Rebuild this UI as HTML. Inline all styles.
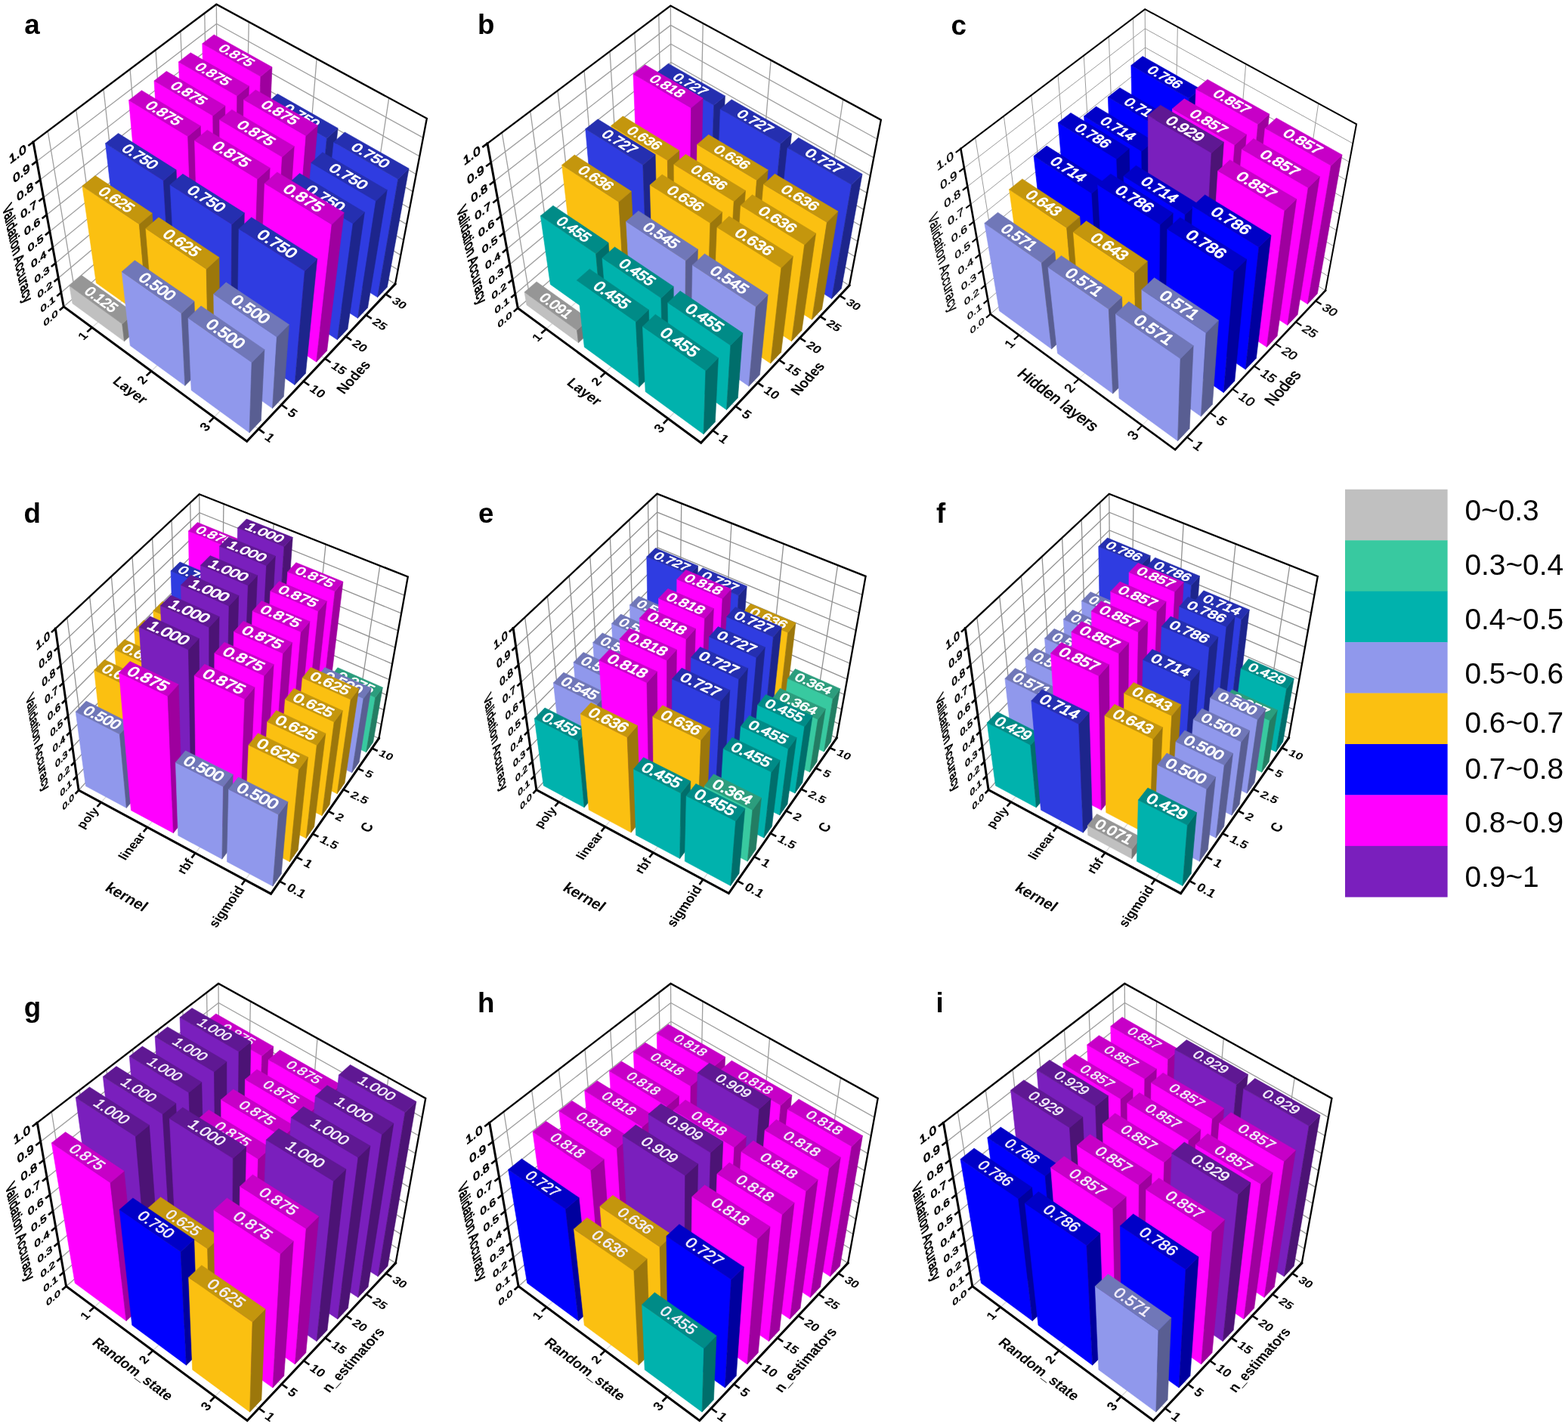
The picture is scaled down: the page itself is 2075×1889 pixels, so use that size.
<!DOCTYPE html><html><head><meta charset="utf-8"><title>Figure</title><style>html,body{margin:0;padding:0;background:#fff}svg{display:block}</style></head><body><svg xmlns="http://www.w3.org/2000/svg" width="2075" height="1889" viewBox="0 0 2075 1889"><rect width="2075" height="1889" fill="#fff"/><g><g font-family='"Liberation Sans", Arial, sans-serif'>
<line x1="121.82" y1="433.56" x2="324.6" y2="252.72" stroke="#DADADA" stroke-width="1.3" stroke-linecap="butt"/>
<line x1="200.18" y1="491.19" x2="400.81" y2="300.06" stroke="#DADADA" stroke-width="1.3" stroke-linecap="butt"/>
<line x1="283.26" y1="552.29" x2="481.16" y2="349.96" stroke="#DADADA" stroke-width="1.3" stroke-linecap="butt"/>
<line x1="100.2" y1="392.21" x2="342.15" y2="567.85" stroke="#DADADA" stroke-width="1.3" stroke-linecap="butt"/>
<line x1="131.33" y1="365.3" x2="372.33" y2="535.81" stroke="#DADADA" stroke-width="1.3" stroke-linecap="butt"/>
<line x1="161.6" y1="339.14" x2="401.6" y2="504.76" stroke="#DADADA" stroke-width="1.3" stroke-linecap="butt"/>
<line x1="191.03" y1="313.7" x2="429.99" y2="474.63" stroke="#DADADA" stroke-width="1.3" stroke-linecap="butt"/>
<line x1="219.66" y1="288.96" x2="457.54" y2="445.4" stroke="#DADADA" stroke-width="1.3" stroke-linecap="butt"/>
<line x1="247.52" y1="264.88" x2="484.29" y2="417.01" stroke="#DADADA" stroke-width="1.3" stroke-linecap="butt"/>
<line x1="274.65" y1="241.44" x2="510.28" y2="389.44" stroke="#DADADA" stroke-width="1.3" stroke-linecap="butt"/>
<polyline points="84.29,405.95 287.94,229.95 522.99,375.95" fill="none" stroke="#9E9E9E" stroke-width="1.3" stroke-linejoin="miter" stroke-linecap="square"/>
<polyline points="80.85,387.33 287.81,210.48 526.58,357.17" fill="none" stroke="#9E9E9E" stroke-width="1.3" stroke-linejoin="miter" stroke-linecap="square"/>
<polyline points="77.29,368.09 287.67,190.43 530.28,337.78" fill="none" stroke="#9E9E9E" stroke-width="1.3" stroke-linejoin="miter" stroke-linecap="square"/>
<polyline points="73.62,348.21 287.52,169.78 534.1,317.76" fill="none" stroke="#9E9E9E" stroke-width="1.3" stroke-linejoin="miter" stroke-linecap="square"/>
<polyline points="69.82,327.65 287.37,148.5 538.05,297.07" fill="none" stroke="#9E9E9E" stroke-width="1.3" stroke-linejoin="miter" stroke-linecap="square"/>
<polyline points="65.88,306.38 287.22,126.55 542.14,275.68" fill="none" stroke="#9E9E9E" stroke-width="1.3" stroke-linejoin="miter" stroke-linecap="square"/>
<polyline points="61.81,284.36 287.06,103.91 546.37,253.55" fill="none" stroke="#9E9E9E" stroke-width="1.3" stroke-linejoin="miter" stroke-linecap="square"/>
<polyline points="57.6,261.55 286.9,80.53 550.74,230.64" fill="none" stroke="#9E9E9E" stroke-width="1.3" stroke-linejoin="miter" stroke-linecap="square"/>
<polyline points="53.23,237.92 286.73,56.4 555.27,206.92" fill="none" stroke="#9E9E9E" stroke-width="1.3" stroke-linejoin="miter" stroke-linecap="square"/>
<polyline points="48.7,213.4 286.55,31.47 559.97,182.33" fill="none" stroke="#9E9E9E" stroke-width="1.3" stroke-linejoin="miter" stroke-linecap="square"/>
<line x1="100.2" y1="392.21" x2="63.23" y2="173.49" stroke="#9E9E9E" stroke-width="1.3" stroke-linecap="butt"/>
<line x1="131.33" y1="365.3" x2="100.73" y2="145.29" stroke="#9E9E9E" stroke-width="1.3" stroke-linecap="butt"/>
<line x1="161.6" y1="339.14" x2="136.99" y2="118.02" stroke="#9E9E9E" stroke-width="1.3" stroke-linecap="butt"/>
<line x1="191.03" y1="313.7" x2="172.08" y2="91.64" stroke="#9E9E9E" stroke-width="1.3" stroke-linecap="butt"/>
<line x1="219.66" y1="288.96" x2="206.04" y2="66.1" stroke="#9E9E9E" stroke-width="1.3" stroke-linecap="butt"/>
<line x1="247.52" y1="264.88" x2="238.93" y2="41.37" stroke="#9E9E9E" stroke-width="1.3" stroke-linecap="butt"/>
<line x1="274.65" y1="241.44" x2="270.8" y2="17.4" stroke="#9E9E9E" stroke-width="1.3" stroke-linecap="butt"/>
<line x1="324.6" y1="252.72" x2="329.29" y2="28.98" stroke="#9E9E9E" stroke-width="1.3" stroke-linecap="butt"/>
<line x1="400.81" y1="300.06" x2="419.12" y2="77.74" stroke="#9E9E9E" stroke-width="1.3" stroke-linecap="butt"/>
<line x1="481.16" y1="349.96" x2="514.71" y2="129.62" stroke="#9E9E9E" stroke-width="1.3" stroke-linecap="butt"/>
<line x1="287.94" y1="229.95" x2="286.37" y2="5.69" stroke="#9E9E9E" stroke-width="1.3" stroke-linecap="butt"/>
<polyline points="44,187.96 286.37,5.69 564.84,156.83 522.99,375.95" fill="none" stroke="#000" stroke-width="2.34" stroke-linejoin="miter" stroke-linecap="square"/>
<polyline points="44,187.96 84.29,405.95 326.69,584.24 522.99,375.95" fill="none" stroke="#000" stroke-width="3.0" stroke-linejoin="miter" stroke-linecap="square"/>
<line x1="121.82" y1="433.56" x2="115.32" y2="439.36" stroke="#000" stroke-width="2.6" stroke-linecap="butt"/>
<line x1="200.18" y1="491.19" x2="193.73" y2="497.34" stroke="#000" stroke-width="2.6" stroke-linecap="butt"/>
<line x1="283.26" y1="552.29" x2="276.87" y2="558.82" stroke="#000" stroke-width="2.6" stroke-linecap="butt"/>
<line x1="342.15" y1="567.85" x2="349.82" y2="573.42" stroke="#000" stroke-width="2.6" stroke-linecap="butt"/>
<line x1="372.33" y1="535.81" x2="379.97" y2="541.22" stroke="#000" stroke-width="2.6" stroke-linecap="butt"/>
<line x1="401.6" y1="504.76" x2="409.19" y2="510" stroke="#000" stroke-width="2.6" stroke-linecap="butt"/>
<line x1="429.99" y1="474.63" x2="437.54" y2="479.72" stroke="#000" stroke-width="2.6" stroke-linecap="butt"/>
<line x1="457.54" y1="445.4" x2="465.05" y2="450.33" stroke="#000" stroke-width="2.6" stroke-linecap="butt"/>
<line x1="484.29" y1="417.01" x2="491.76" y2="421.81" stroke="#000" stroke-width="2.6" stroke-linecap="butt"/>
<line x1="510.28" y1="389.44" x2="517.69" y2="394.1" stroke="#000" stroke-width="2.6" stroke-linecap="butt"/>
<line x1="84.29" y1="405.95" x2="78.78" y2="410.72" stroke="#000" stroke-width="2.6" stroke-linecap="butt"/>
<line x1="80.85" y1="387.33" x2="75.24" y2="392.12" stroke="#000" stroke-width="2.6" stroke-linecap="butt"/>
<line x1="77.29" y1="368.09" x2="71.58" y2="372.91" stroke="#000" stroke-width="2.6" stroke-linecap="butt"/>
<line x1="73.62" y1="348.21" x2="67.8" y2="353.05" stroke="#000" stroke-width="2.6" stroke-linecap="butt"/>
<line x1="69.82" y1="327.65" x2="63.89" y2="332.52" stroke="#000" stroke-width="2.6" stroke-linecap="butt"/>
<line x1="65.88" y1="306.38" x2="59.85" y2="311.28" stroke="#000" stroke-width="2.6" stroke-linecap="butt"/>
<line x1="61.81" y1="284.36" x2="55.66" y2="289.29" stroke="#000" stroke-width="2.6" stroke-linecap="butt"/>
<line x1="57.6" y1="261.55" x2="51.32" y2="266.51" stroke="#000" stroke-width="2.6" stroke-linecap="butt"/>
<line x1="53.23" y1="237.92" x2="46.83" y2="242.9" stroke="#000" stroke-width="2.6" stroke-linecap="butt"/>
<line x1="48.7" y1="213.4" x2="42.16" y2="218.4" stroke="#000" stroke-width="2.6" stroke-linecap="butt"/>
<line x1="44" y1="187.96" x2="37.32" y2="192.98" stroke="#000" stroke-width="2.6" stroke-linecap="butt"/>
<text transform="matrix(12.4011 -11.0601 12.5721 9.3153 112.84 441.57)" font-size="1" text-anchor="end" fill="#000" font-weight="bold" y="0.36" >1</text>
<text transform="matrix(12.3063 -11.7241 13.3203 9.8697 191.27 499.68)" font-size="1" text-anchor="end" fill="#000" font-weight="bold" y="0.36" >2</text>
<text transform="matrix(12.1772 -12.4494 14.1373 10.4750 274.44 561.31)" font-size="1" text-anchor="end" fill="#000" font-weight="bold" y="0.36" >3</text>
<text transform="matrix(14.6285 10.6191 -11.7815 12.6222 353.27 575.92)" font-size="1" text-anchor="start" fill="#000" font-weight="bold" y="0.36" >1</text>
<text transform="matrix(14.5505 10.2950 -11.4190 12.2338 383.4 543.65)" font-size="1" text-anchor="start" fill="#000" font-weight="bold" y="0.36" >5</text>
<text transform="matrix(14.4705 9.9856 -11.0730 11.8631 412.61 512.35)" font-size="1" text-anchor="start" fill="#000" font-weight="bold" y="0.36" >10</text>
<text transform="matrix(14.3886 9.6900 -10.7425 11.5090 440.94 482)" font-size="1" text-anchor="start" fill="#000" font-weight="bold" y="0.36" >15</text>
<text transform="matrix(14.3052 9.4074 -10.4265 11.1705 468.43 452.55)" font-size="1" text-anchor="start" fill="#000" font-weight="bold" y="0.36" >20</text>
<text transform="matrix(14.2205 9.1371 -10.1243 10.8467 495.11 423.96)" font-size="1" text-anchor="start" fill="#000" font-weight="bold" y="0.36" >25</text>
<text transform="matrix(14.1348 8.8783 -9.8351 10.5369 521.03 396.19)" font-size="1" text-anchor="start" fill="#000" font-weight="bold" y="0.36" >30</text>
<text transform="matrix(13.1050 -11.3260 2.0474 10.6063 76.18 412.96)" font-size="1" text-anchor="end" fill="#000" font-weight="normal" y="0.36"  stroke="#000" stroke-width="0.06" stroke-linejoin="round">0.0</text>
<text transform="matrix(13.3392 -11.3983 2.1144 10.9533 72.6 394.38)" font-size="1" text-anchor="end" fill="#000" font-weight="normal" y="0.36"  stroke="#000" stroke-width="0.06" stroke-linejoin="round">0.1</text>
<text transform="matrix(13.5818 -11.4693 2.1847 11.3177 68.89 375.18)" font-size="1" text-anchor="end" fill="#000" font-weight="normal" y="0.36"  stroke="#000" stroke-width="0.06" stroke-linejoin="round">0.2</text>
<text transform="matrix(13.8333 -11.5387 2.2586 11.7005 65.06 355.34)" font-size="1" text-anchor="end" fill="#000" font-weight="normal" y="0.36"  stroke="#000" stroke-width="0.06" stroke-linejoin="round">0.3</text>
<text transform="matrix(14.0943 -11.6061 2.3363 12.1031 61.1 334.82)" font-size="1" text-anchor="end" fill="#000" font-weight="normal" y="0.36"  stroke="#000" stroke-width="0.06" stroke-linejoin="round">0.4</text>
<text transform="matrix(14.3652 -11.6714 2.4181 12.5269 57 313.59)" font-size="1" text-anchor="end" fill="#000" font-weight="normal" y="0.36"  stroke="#000" stroke-width="0.06" stroke-linejoin="round">0.5</text>
<text transform="matrix(14.6466 -11.7340 2.5043 12.9733 52.76 291.61)" font-size="1" text-anchor="end" fill="#000" font-weight="normal" y="0.36"  stroke="#000" stroke-width="0.06" stroke-linejoin="round">0.6</text>
<text transform="matrix(14.9391 -11.7937 2.5951 13.4439 48.37 268.84)" font-size="1" text-anchor="end" fill="#000" font-weight="normal" y="0.36"  stroke="#000" stroke-width="0.06" stroke-linejoin="round">0.7</text>
<text transform="matrix(15.2434 -11.8499 2.6910 13.9407 43.81 245.24)" font-size="1" text-anchor="end" fill="#000" font-weight="normal" y="0.36"  stroke="#000" stroke-width="0.06" stroke-linejoin="round">0.8</text>
<text transform="matrix(15.5603 -11.9021 2.7923 14.4655 39.08 220.76)" font-size="1" text-anchor="end" fill="#000" font-weight="normal" y="0.36"  stroke="#000" stroke-width="0.06" stroke-linejoin="round">0.9</text>
<text transform="matrix(15.8904 -11.9498 2.8995 15.0206 34.18 195.34)" font-size="1" text-anchor="end" fill="#000" font-weight="normal" y="0.36"  stroke="#000" stroke-width="0.06" stroke-linejoin="round">1.0</text>
<text transform="matrix(14.7947 11.1259 -13.8826 13.2182 172.7 516.2)" font-size="1" text-anchor="middle" fill="#000" font-weight="bold" y="0.36" >Layer</text>
<text transform="matrix(11.8419 -12.9792 16.2326 10.9263 467.4 498.8)" font-size="1" text-anchor="middle" fill="#000" font-weight="bold" y="0.36" >Nodes</text>
<text transform="matrix(3.2632 14.5912 -16.9329 13.7155 23.7 335)" font-size="1" text-anchor="middle" fill="#000" font-weight="normal" y="0.36"  stroke="#000" stroke-width="0.045" stroke-linejoin="round">Validation Accuracy</text>
</g>
<g font-family='"Liberation Sans", Arial, sans-serif' font-style="normal">
<polygon points="271.57,249.53 338.61,291.88 344.84,101.26 267.81,57.76" fill="#FF00FF" stroke="#FF00FF" stroke-width="0.6"/>
<polygon points="338.61,291.88 351.85,279.73 360.01,88.77 344.84,101.26" fill="#9E009E" stroke="#9E009E" stroke-width="0.6"/>
<polygon points="267.81,57.76 344.84,101.26 360.01,88.77 283.16,45.92" fill="#C700C7" stroke="#C700C7" stroke-width="0.6"/>
<text transform="matrix(16.5405 9.2807 -13.7825 10.9748 313.47 73.11)" font-size="1" text-anchor="middle" fill="#fff" font-weight="normal" y="0.36"  stroke="#fff" stroke-width="0.055" stroke-linejoin="round">0.875</text>
<polygon points="346.26,296.71 416.93,341.35 432.51,182.96 352.47,136.9" fill="#2F3CE1" stroke="#2F3CE1" stroke-width="0.6"/>
<polygon points="416.93,341.35 429.98,328.53 447.13,169.72 432.51,182.96" fill="#1D258C" stroke="#1D258C" stroke-width="0.6"/>
<polygon points="352.47,136.9 432.51,182.96 447.13,169.72 367.31,124.36" fill="#252FB0" stroke="#252FB0" stroke-width="0.6"/>
<text transform="matrix(17.1822 9.8256 -13.2999 11.6311 399.34 153.15)" font-size="1" text-anchor="middle" fill="#fff" font-weight="normal" y="0.36"  stroke="#fff" stroke-width="0.055" stroke-linejoin="round">0.750</text>
<polygon points="425,346.45 499.6,393.57 526.77,237.2 441.68,188.23" fill="#2F3CE1" stroke="#2F3CE1" stroke-width="0.6"/>
<polygon points="499.6,393.57 512.41,380.02 541.08,223.11 526.77,237.2" fill="#1D258C" stroke="#1D258C" stroke-width="0.6"/>
<polygon points="441.68,188.23 526.77,237.2 541.08,223.11 456.26,174.91" fill="#252FB0" stroke="#252FB0" stroke-width="0.6"/>
<text transform="matrix(18.2611 10.4425 -13.0495 12.3690 490.89 205.5)" font-size="1" text-anchor="middle" fill="#fff" font-weight="normal" y="0.36"  stroke="#fff" stroke-width="0.055" stroke-linejoin="round">0.750</text>
<polygon points="244.27,273.2 311.59,316.7 313.79,126.83 236.39,81.97" fill="#FF00FF" stroke="#FF00FF" stroke-width="0.6"/>
<polygon points="311.59,316.7 325.2,304.21 329.44,113.95 313.79,126.83" fill="#9E009E" stroke="#9E009E" stroke-width="0.6"/>
<polygon points="236.39,81.97 313.79,126.83 329.44,113.95 252.22,69.77" fill="#C700C7" stroke="#C700C7" stroke-width="0.6"/>
<text transform="matrix(16.6179 9.5700 -14.2168 11.3207 282.47 97.8)" font-size="1" text-anchor="middle" fill="#fff" font-weight="normal" y="0.36"  stroke="#fff" stroke-width="0.055" stroke-linejoin="round">0.875</text>
<polygon points="319.27,321.66 390.28,367.55 404.96,179.69 322.65,131.97" fill="#FF00FF" stroke="#FF00FF" stroke-width="0.6"/>
<polygon points="390.28,367.55 403.7,354.36 420.36,165.97 404.96,179.69" fill="#9E009E" stroke="#9E009E" stroke-width="0.6"/>
<polygon points="322.65,131.97 404.96,179.69 420.36,165.97 338.28,119" fill="#C700C7" stroke="#C700C7" stroke-width="0.6"/>
<text transform="matrix(17.6689 10.1753 -14.0149 12.0444 371.02 148.8)" font-size="1" text-anchor="middle" fill="#fff" font-weight="normal" y="0.36"  stroke="#fff" stroke-width="0.055" stroke-linejoin="round">0.875</text>
<polygon points="398.39,372.79 473.4,421.26 497.45,266.08 411.81,215.52" fill="#2F3CE1" stroke="#2F3CE1" stroke-width="0.6"/>
<polygon points="473.4,421.26 486.59,407.32 512.23,251.52 497.45,266.08" fill="#1D258C" stroke="#1D258C" stroke-width="0.6"/>
<polygon points="411.81,215.52 497.45,266.08 512.23,251.52 426.86,201.77" fill="#252FB0" stroke="#252FB0" stroke-width="0.6"/>
<text transform="matrix(18.3796 10.7817 -13.4776 12.7747 461.51 233.34)" font-size="1" text-anchor="middle" fill="#fff" font-weight="normal" y="0.36"  stroke="#fff" stroke-width="0.055" stroke-linejoin="round">0.750</text>
<polygon points="216.24,297.5 283.81,342.21 281.73,153.24 203.99,106.94" fill="#FF00FF" stroke="#FF00FF" stroke-width="0.6"/>
<polygon points="283.81,342.21 297.8,329.36 297.89,139.93 281.73,153.24" fill="#9E009E" stroke="#9E009E" stroke-width="0.6"/>
<polygon points="203.99,106.94 281.73,153.24 297.89,139.93 220.32,94.36" fill="#C700C7" stroke="#C700C7" stroke-width="0.6"/>
<text transform="matrix(16.6920 9.8732 -14.6720 11.6832 250.48 123.27)" font-size="1" text-anchor="middle" fill="#fff" font-weight="normal" y="0.36"  stroke="#fff" stroke-width="0.055" stroke-linejoin="round">0.875</text>
<polygon points="291.52,347.31 362.86,394.5 373.39,207.83 290.63,158.54" fill="#FF00FF" stroke="#FF00FF" stroke-width="0.6"/>
<polygon points="362.86,394.5 376.67,380.93 389.31,193.64 373.39,207.83" fill="#9E009E" stroke="#9E009E" stroke-width="0.6"/>
<polygon points="290.63,158.54 373.39,207.83 389.31,193.64 306.77,145.15" fill="#C700C7" stroke="#C700C7" stroke-width="0.6"/>
<text transform="matrix(17.7652 10.5080 -14.4780 12.4423 339.47 175.91)" font-size="1" text-anchor="middle" fill="#fff" font-weight="normal" y="0.36"  stroke="#fff" stroke-width="0.055" stroke-linejoin="round">0.875</text>
<polygon points="371.01,399.89 446.43,449.78 467.14,295.94 380.96,243.7" fill="#2F3CE1" stroke="#2F3CE1" stroke-width="0.6"/>
<polygon points="446.43,449.78 460.01,435.42 482.42,280.89 467.14,295.94" fill="#1D258C" stroke="#1D258C" stroke-width="0.6"/>
<polygon points="380.96,243.7 467.14,295.94 482.42,280.89 396.51,229.5" fill="#252FB0" stroke="#252FB0" stroke-width="0.6"/>
<text transform="matrix(18.4960 11.1377 -13.9270 13.2007 431.17 262.1)" font-size="1" text-anchor="middle" fill="#fff" font-weight="normal" y="0.36"  stroke="#fff" stroke-width="0.055" stroke-linejoin="round">0.750</text>
<polygon points="187.42,322.49 255.24,368.44 248.61,180.51 170.55,132.72" fill="#FF00FF" stroke="#FF00FF" stroke-width="0.6"/>
<polygon points="255.24,368.44 269.63,355.23 265.3,166.76 248.61,180.51" fill="#9E009E" stroke="#9E009E" stroke-width="0.6"/>
<polygon points="170.55,132.72 248.61,180.51 265.3,166.76 187.41,119.73" fill="#C700C7" stroke="#C700C7" stroke-width="0.6"/>
<text transform="matrix(16.7623 10.1912 -15.1495 12.0633 217.46 149.57)" font-size="1" text-anchor="middle" fill="#fff" font-weight="normal" y="0.36"  stroke="#fff" stroke-width="0.055" stroke-linejoin="round">0.875</text>
<polygon points="262.99,373.69 334.64,422.23 340.74,236.92 257.56,185.99" fill="#FF00FF" stroke="#FF00FF" stroke-width="0.6"/>
<polygon points="334.64,422.23 348.85,408.26 357.2,222.25 340.74,236.92" fill="#9E009E" stroke="#9E009E" stroke-width="0.6"/>
<polygon points="257.56,185.99 340.74,236.92 357.2,222.25 274.23,172.15" fill="#C700C7" stroke="#C700C7" stroke-width="0.6"/>
<text transform="matrix(17.8582 10.8575 -14.9644 12.8603 306.87 203.93)" font-size="1" text-anchor="middle" fill="#fff" font-weight="normal" y="0.36"  stroke="#fff" stroke-width="0.055" stroke-linejoin="round">0.875</text>
<polygon points="342.83,427.78 418.64,479.15 439.12,297.15 350.29,242.76" fill="#FF00FF" stroke="#FF00FF" stroke-width="0.6"/>
<polygon points="418.64,479.15 432.64,464.35 455.28,281.46 439.12,297.15" fill="#9E009E" stroke="#9E009E" stroke-width="0.6"/>
<polygon points="350.29,242.76 439.12,297.15 455.28,281.46 366.72,228" fill="#C700C7" stroke="#C700C7" stroke-width="0.6"/>
<text transform="matrix(19.0653 11.5914 -14.7208 13.7384 402.23 261.91)" font-size="1" text-anchor="middle" fill="#fff" font-weight="normal" y="0.36"  stroke="#fff" stroke-width="0.055" stroke-linejoin="round">0.875</text>
<polygon points="157.79,348.17 225.85,395.43 216.25,238.96 139.55,189.83" fill="#2F3CE1" stroke="#2F3CE1" stroke-width="0.6"/>
<polygon points="225.85,395.43 240.65,381.84 233.1,224.82 216.25,238.96" fill="#1D258C" stroke="#1D258C" stroke-width="0.6"/>
<polygon points="139.55,189.83 216.25,238.96 233.1,224.82 156.54,176.47" fill="#252FB0" stroke="#252FB0" stroke-width="0.6"/>
<text transform="matrix(16.4725 10.4755 -15.2877 12.4082 185.86 207.15)" font-size="1" text-anchor="middle" fill="#fff" font-weight="normal" y="0.36"  stroke="#fff" stroke-width="0.055" stroke-linejoin="round">0.750</text>
<polygon points="233.63,400.82 305.59,450.79 306.75,296.91 225.04,244.59" fill="#2F3CE1" stroke="#2F3CE1" stroke-width="0.6"/>
<polygon points="305.59,450.79 320.22,436.41 323.39,281.84 306.75,296.91" fill="#1D258C" stroke="#1D258C" stroke-width="0.6"/>
<polygon points="225.04,244.59 306.75,296.91 323.39,281.84 241.88,230.36" fill="#252FB0" stroke="#252FB0" stroke-width="0.6"/>
<text transform="matrix(17.5428 11.1561 -15.1198 13.2226 273.71 263.02)" font-size="1" text-anchor="middle" fill="#fff" font-weight="normal" y="0.36"  stroke="#fff" stroke-width="0.055" stroke-linejoin="round">0.750</text>
<polygon points="313.81,456.5 390.01,509.41 403.34,358.78 316.12,302.92" fill="#2F3CE1" stroke="#2F3CE1" stroke-width="0.6"/>
<polygon points="390.01,509.41 404.44,494.16 419.7,342.66 403.34,358.78" fill="#1D258C" stroke="#1D258C" stroke-width="0.6"/>
<polygon points="316.12,302.92 403.34,358.78 419.7,342.66 332.74,287.74" fill="#252FB0" stroke="#252FB0" stroke-width="0.6"/>
<text transform="matrix(18.7208 11.9052 -14.8961 14.1192 367.36 322.58)" font-size="1" text-anchor="middle" fill="#fff" font-weight="normal" y="0.36"  stroke="#fff" stroke-width="0.055" stroke-linejoin="round">0.750</text>
<polygon points="127.32,374.58 195.61,423.2 184.28,296.7 108.91,246.28" fill="#FBC011" stroke="#FBC011" stroke-width="0.6"/>
<polygon points="195.61,423.2 210.84,409.21 201.29,282.18 184.28,296.7" fill="#9C770B" stroke="#9C770B" stroke-width="0.6"/>
<polygon points="108.91,246.28 184.28,296.7 201.29,282.18 126.04,232.55" fill="#C4960D" stroke="#C4960D" stroke-width="0.6"/>
<text transform="matrix(16.1884 10.7522 -15.4215 12.7441 154.64 264.05)" font-size="1" text-anchor="middle" fill="#fff" font-weight="normal" y="0.36"  stroke="#fff" stroke-width="0.055" stroke-linejoin="round">0.625</text>
<polygon points="203.41,428.76 275.66,480.2 273.17,356.16 192.92,302.48" fill="#FBC011" stroke="#FBC011" stroke-width="0.6"/>
<polygon points="275.66,480.2 290.73,465.39 289.99,340.68 273.17,356.16" fill="#9C770B" stroke="#9C770B" stroke-width="0.6"/>
<polygon points="192.92,302.48 273.17,356.16 289.99,340.68 209.91,287.87" fill="#C4960D" stroke="#C4960D" stroke-width="0.6"/>
<text transform="matrix(17.2337 11.4465 -15.2703 13.5750 240.96 321.39)" font-size="1" text-anchor="middle" fill="#fff" font-weight="normal" y="0.36"  stroke="#fff" stroke-width="0.055" stroke-linejoin="round">0.625</text>
<polygon points="283.92,486.09 360.5,540.61 366.38,446.06 282.72,389.31" fill="#9098EC" stroke="#9098EC" stroke-width="0.6"/>
<polygon points="360.5,540.61 375.37,524.89 382.57,429.68 366.38,446.06" fill="#595E92" stroke="#595E92" stroke-width="0.6"/>
<polygon points="282.72,389.31 366.38,446.06 382.57,429.68 299.13,373.86" fill="#7077B8" stroke="#7077B8" stroke-width="0.6"/>
<text transform="matrix(17.9593 12.0982 -14.7283 14.3600 332.13 409.29)" font-size="1" text-anchor="middle" fill="#fff" font-weight="normal" y="0.36"  stroke="#fff" stroke-width="0.055" stroke-linejoin="round">0.500</text>
<polygon points="95.97,401.76 164.46,451.8 161.7,428.82 91.9,378.35" fill="#C0C0C0" stroke="#C0C0C0" stroke-width="0.6"/>
<polygon points="164.46,451.8 180.15,437.4 177.73,414.29 161.7,428.82" fill="#777777" stroke="#777777" stroke-width="0.6"/>
<polygon points="91.9,378.35 161.7,428.82 177.73,414.29 108.03,364.56" fill="#969696" stroke="#969696" stroke-width="0.6"/>
<text transform="matrix(14.9938 10.7681 -14.5265 12.7798 134.42 396.15)" font-size="1" text-anchor="middle" fill="#fff" font-weight="normal" y="0.36"  stroke="#fff" stroke-width="0.055" stroke-linejoin="round">0.125</text>
<polygon points="172.29,457.52 244.82,510.52 240.02,414.67 161.18,359.66" fill="#9098EC" stroke="#9098EC" stroke-width="0.6"/>
<polygon points="244.82,510.52 260.35,495.25 257.01,398.81 240.02,414.67" fill="#595E92" stroke="#595E92" stroke-width="0.6"/>
<polygon points="161.18,359.66 240.02,414.67 257.01,398.81 178.32,344.68" fill="#7077B8" stroke="#7077B8" stroke-width="0.6"/>
<text transform="matrix(16.9308 11.7290 -15.4160 13.9179 208.61 379.04)" font-size="1" text-anchor="middle" fill="#fff" font-weight="normal" y="0.36"  stroke="#fff" stroke-width="0.055" stroke-linejoin="round">0.500</text>
<polygon points="253.11,516.58 330.05,572.8 333.16,479.66 249.06,420.98" fill="#9098EC" stroke="#9098EC" stroke-width="0.6"/>
<polygon points="330.05,572.8 345.39,556.58 349.91,462.71 333.16,479.66" fill="#595E92" stroke="#595E92" stroke-width="0.6"/>
<polygon points="249.06,420.98 333.16,479.66 349.91,462.71 266.03,405.01" fill="#7077B8" stroke="#7077B8" stroke-width="0.6"/>
<text transform="matrix(18.0532 12.5066 -15.2299 14.8491 298.96 441.63)" font-size="1" text-anchor="middle" fill="#fff" font-weight="normal" y="0.36"  stroke="#fff" stroke-width="0.055" stroke-linejoin="round">0.500</text>
</g>
<text x="32.3" y="45.3" font-family='"Liberation Sans", Arial, sans-serif' font-weight="bold" font-size="36.7">a</text></g>
<g><g font-family='"Liberation Sans", Arial, sans-serif'>
<line x1="722.82" y1="435.46" x2="925.6" y2="254.62" stroke="#DADADA" stroke-width="1.3" stroke-linecap="butt"/>
<line x1="801.18" y1="493.09" x2="1001.81" y2="301.96" stroke="#DADADA" stroke-width="1.3" stroke-linecap="butt"/>
<line x1="884.26" y1="554.19" x2="1082.16" y2="351.86" stroke="#DADADA" stroke-width="1.3" stroke-linecap="butt"/>
<line x1="701.2" y1="394.11" x2="943.15" y2="569.75" stroke="#DADADA" stroke-width="1.3" stroke-linecap="butt"/>
<line x1="732.33" y1="367.2" x2="973.33" y2="537.71" stroke="#DADADA" stroke-width="1.3" stroke-linecap="butt"/>
<line x1="762.6" y1="341.04" x2="1002.6" y2="506.66" stroke="#DADADA" stroke-width="1.3" stroke-linecap="butt"/>
<line x1="792.03" y1="315.6" x2="1030.99" y2="476.53" stroke="#DADADA" stroke-width="1.3" stroke-linecap="butt"/>
<line x1="820.66" y1="290.86" x2="1058.54" y2="447.3" stroke="#DADADA" stroke-width="1.3" stroke-linecap="butt"/>
<line x1="848.52" y1="266.78" x2="1085.29" y2="418.91" stroke="#DADADA" stroke-width="1.3" stroke-linecap="butt"/>
<line x1="875.65" y1="243.34" x2="1111.28" y2="391.34" stroke="#DADADA" stroke-width="1.3" stroke-linecap="butt"/>
<polyline points="685.29,407.85 888.94,231.85 1123.99,377.85" fill="none" stroke="#9E9E9E" stroke-width="1.3" stroke-linejoin="miter" stroke-linecap="square"/>
<polyline points="681.85,389.23 888.81,212.38 1127.58,359.07" fill="none" stroke="#9E9E9E" stroke-width="1.3" stroke-linejoin="miter" stroke-linecap="square"/>
<polyline points="678.29,369.99 888.67,192.33 1131.28,339.68" fill="none" stroke="#9E9E9E" stroke-width="1.3" stroke-linejoin="miter" stroke-linecap="square"/>
<polyline points="674.62,350.11 888.52,171.68 1135.1,319.66" fill="none" stroke="#9E9E9E" stroke-width="1.3" stroke-linejoin="miter" stroke-linecap="square"/>
<polyline points="670.82,329.55 888.37,150.4 1139.05,298.97" fill="none" stroke="#9E9E9E" stroke-width="1.3" stroke-linejoin="miter" stroke-linecap="square"/>
<polyline points="666.88,308.28 888.22,128.45 1143.14,277.58" fill="none" stroke="#9E9E9E" stroke-width="1.3" stroke-linejoin="miter" stroke-linecap="square"/>
<polyline points="662.81,286.26 888.06,105.81 1147.37,255.45" fill="none" stroke="#9E9E9E" stroke-width="1.3" stroke-linejoin="miter" stroke-linecap="square"/>
<polyline points="658.6,263.45 887.9,82.43 1151.74,232.54" fill="none" stroke="#9E9E9E" stroke-width="1.3" stroke-linejoin="miter" stroke-linecap="square"/>
<polyline points="654.23,239.82 887.73,58.3 1156.27,208.82" fill="none" stroke="#9E9E9E" stroke-width="1.3" stroke-linejoin="miter" stroke-linecap="square"/>
<polyline points="649.7,215.3 887.55,33.37 1160.97,184.23" fill="none" stroke="#9E9E9E" stroke-width="1.3" stroke-linejoin="miter" stroke-linecap="square"/>
<line x1="701.2" y1="394.11" x2="664.23" y2="175.39" stroke="#9E9E9E" stroke-width="1.3" stroke-linecap="butt"/>
<line x1="732.33" y1="367.2" x2="701.73" y2="147.19" stroke="#9E9E9E" stroke-width="1.3" stroke-linecap="butt"/>
<line x1="762.6" y1="341.04" x2="737.99" y2="119.92" stroke="#9E9E9E" stroke-width="1.3" stroke-linecap="butt"/>
<line x1="792.03" y1="315.6" x2="773.08" y2="93.54" stroke="#9E9E9E" stroke-width="1.3" stroke-linecap="butt"/>
<line x1="820.66" y1="290.86" x2="807.04" y2="68" stroke="#9E9E9E" stroke-width="1.3" stroke-linecap="butt"/>
<line x1="848.52" y1="266.78" x2="839.93" y2="43.27" stroke="#9E9E9E" stroke-width="1.3" stroke-linecap="butt"/>
<line x1="875.65" y1="243.34" x2="871.8" y2="19.3" stroke="#9E9E9E" stroke-width="1.3" stroke-linecap="butt"/>
<line x1="925.6" y1="254.62" x2="930.29" y2="30.88" stroke="#9E9E9E" stroke-width="1.3" stroke-linecap="butt"/>
<line x1="1001.81" y1="301.96" x2="1020.12" y2="79.64" stroke="#9E9E9E" stroke-width="1.3" stroke-linecap="butt"/>
<line x1="1082.16" y1="351.86" x2="1115.71" y2="131.52" stroke="#9E9E9E" stroke-width="1.3" stroke-linecap="butt"/>
<line x1="888.94" y1="231.85" x2="887.37" y2="7.59" stroke="#9E9E9E" stroke-width="1.3" stroke-linecap="butt"/>
<polyline points="645,189.86 887.37,7.59 1165.84,158.73 1123.99,377.85" fill="none" stroke="#000" stroke-width="2.34" stroke-linejoin="miter" stroke-linecap="square"/>
<polyline points="645,189.86 685.29,407.85 927.69,586.14 1123.99,377.85" fill="none" stroke="#000" stroke-width="3.0" stroke-linejoin="miter" stroke-linecap="square"/>
<line x1="722.82" y1="435.46" x2="716.32" y2="441.26" stroke="#000" stroke-width="2.6" stroke-linecap="butt"/>
<line x1="801.18" y1="493.09" x2="794.73" y2="499.24" stroke="#000" stroke-width="2.6" stroke-linecap="butt"/>
<line x1="884.26" y1="554.19" x2="877.87" y2="560.72" stroke="#000" stroke-width="2.6" stroke-linecap="butt"/>
<line x1="943.15" y1="569.75" x2="950.82" y2="575.32" stroke="#000" stroke-width="2.6" stroke-linecap="butt"/>
<line x1="973.33" y1="537.71" x2="980.97" y2="543.12" stroke="#000" stroke-width="2.6" stroke-linecap="butt"/>
<line x1="1002.6" y1="506.66" x2="1010.19" y2="511.9" stroke="#000" stroke-width="2.6" stroke-linecap="butt"/>
<line x1="1030.99" y1="476.53" x2="1038.54" y2="481.62" stroke="#000" stroke-width="2.6" stroke-linecap="butt"/>
<line x1="1058.54" y1="447.3" x2="1066.05" y2="452.23" stroke="#000" stroke-width="2.6" stroke-linecap="butt"/>
<line x1="1085.29" y1="418.91" x2="1092.76" y2="423.71" stroke="#000" stroke-width="2.6" stroke-linecap="butt"/>
<line x1="1111.28" y1="391.34" x2="1118.69" y2="396" stroke="#000" stroke-width="2.6" stroke-linecap="butt"/>
<line x1="685.29" y1="407.85" x2="679.78" y2="412.62" stroke="#000" stroke-width="2.6" stroke-linecap="butt"/>
<line x1="681.85" y1="389.23" x2="676.24" y2="394.02" stroke="#000" stroke-width="2.6" stroke-linecap="butt"/>
<line x1="678.29" y1="369.99" x2="672.58" y2="374.81" stroke="#000" stroke-width="2.6" stroke-linecap="butt"/>
<line x1="674.62" y1="350.11" x2="668.8" y2="354.95" stroke="#000" stroke-width="2.6" stroke-linecap="butt"/>
<line x1="670.82" y1="329.55" x2="664.89" y2="334.42" stroke="#000" stroke-width="2.6" stroke-linecap="butt"/>
<line x1="666.88" y1="308.28" x2="660.85" y2="313.18" stroke="#000" stroke-width="2.6" stroke-linecap="butt"/>
<line x1="662.81" y1="286.26" x2="656.66" y2="291.19" stroke="#000" stroke-width="2.6" stroke-linecap="butt"/>
<line x1="658.6" y1="263.45" x2="652.32" y2="268.41" stroke="#000" stroke-width="2.6" stroke-linecap="butt"/>
<line x1="654.23" y1="239.82" x2="647.83" y2="244.8" stroke="#000" stroke-width="2.6" stroke-linecap="butt"/>
<line x1="649.7" y1="215.3" x2="643.16" y2="220.3" stroke="#000" stroke-width="2.6" stroke-linecap="butt"/>
<line x1="645" y1="189.86" x2="638.32" y2="194.88" stroke="#000" stroke-width="2.6" stroke-linecap="butt"/>
<text transform="matrix(12.4011 -11.0601 12.5721 9.3153 713.84 443.47)" font-size="1" text-anchor="end" fill="#000" font-weight="bold" y="0.36" >1</text>
<text transform="matrix(12.3063 -11.7241 13.3203 9.8697 792.27 501.58)" font-size="1" text-anchor="end" fill="#000" font-weight="bold" y="0.36" >2</text>
<text transform="matrix(12.1772 -12.4494 14.1373 10.4750 875.44 563.21)" font-size="1" text-anchor="end" fill="#000" font-weight="bold" y="0.36" >3</text>
<text transform="matrix(14.6285 10.6191 -11.7815 12.6222 954.27 577.82)" font-size="1" text-anchor="start" fill="#000" font-weight="bold" y="0.36" >1</text>
<text transform="matrix(14.5505 10.2950 -11.4190 12.2338 984.4 545.55)" font-size="1" text-anchor="start" fill="#000" font-weight="bold" y="0.36" >5</text>
<text transform="matrix(14.4705 9.9856 -11.0730 11.8631 1013.61 514.25)" font-size="1" text-anchor="start" fill="#000" font-weight="bold" y="0.36" >10</text>
<text transform="matrix(14.3886 9.6900 -10.7425 11.5090 1041.94 483.9)" font-size="1" text-anchor="start" fill="#000" font-weight="bold" y="0.36" >15</text>
<text transform="matrix(14.3052 9.4074 -10.4265 11.1705 1069.43 454.45)" font-size="1" text-anchor="start" fill="#000" font-weight="bold" y="0.36" >20</text>
<text transform="matrix(14.2205 9.1371 -10.1243 10.8467 1096.11 425.86)" font-size="1" text-anchor="start" fill="#000" font-weight="bold" y="0.36" >25</text>
<text transform="matrix(14.1348 8.8783 -9.8351 10.5369 1122.03 398.09)" font-size="1" text-anchor="start" fill="#000" font-weight="bold" y="0.36" >30</text>
<text transform="matrix(13.1050 -11.3260 2.0474 10.6063 677.18 414.86)" font-size="1" text-anchor="end" fill="#000" font-weight="normal" y="0.36"  stroke="#000" stroke-width="0.06" stroke-linejoin="round">0.0</text>
<text transform="matrix(13.3392 -11.3983 2.1144 10.9533 673.6 396.28)" font-size="1" text-anchor="end" fill="#000" font-weight="normal" y="0.36"  stroke="#000" stroke-width="0.06" stroke-linejoin="round">0.1</text>
<text transform="matrix(13.5818 -11.4693 2.1847 11.3177 669.89 377.08)" font-size="1" text-anchor="end" fill="#000" font-weight="normal" y="0.36"  stroke="#000" stroke-width="0.06" stroke-linejoin="round">0.2</text>
<text transform="matrix(13.8333 -11.5387 2.2586 11.7005 666.06 357.24)" font-size="1" text-anchor="end" fill="#000" font-weight="normal" y="0.36"  stroke="#000" stroke-width="0.06" stroke-linejoin="round">0.3</text>
<text transform="matrix(14.0943 -11.6061 2.3363 12.1031 662.1 336.72)" font-size="1" text-anchor="end" fill="#000" font-weight="normal" y="0.36"  stroke="#000" stroke-width="0.06" stroke-linejoin="round">0.4</text>
<text transform="matrix(14.3652 -11.6714 2.4181 12.5269 658 315.49)" font-size="1" text-anchor="end" fill="#000" font-weight="normal" y="0.36"  stroke="#000" stroke-width="0.06" stroke-linejoin="round">0.5</text>
<text transform="matrix(14.6466 -11.7340 2.5043 12.9733 653.76 293.51)" font-size="1" text-anchor="end" fill="#000" font-weight="normal" y="0.36"  stroke="#000" stroke-width="0.06" stroke-linejoin="round">0.6</text>
<text transform="matrix(14.9391 -11.7937 2.5951 13.4439 649.37 270.74)" font-size="1" text-anchor="end" fill="#000" font-weight="normal" y="0.36"  stroke="#000" stroke-width="0.06" stroke-linejoin="round">0.7</text>
<text transform="matrix(15.2434 -11.8499 2.6910 13.9407 644.81 247.14)" font-size="1" text-anchor="end" fill="#000" font-weight="normal" y="0.36"  stroke="#000" stroke-width="0.06" stroke-linejoin="round">0.8</text>
<text transform="matrix(15.5603 -11.9021 2.7923 14.4655 640.08 222.66)" font-size="1" text-anchor="end" fill="#000" font-weight="normal" y="0.36"  stroke="#000" stroke-width="0.06" stroke-linejoin="round">0.9</text>
<text transform="matrix(15.8904 -11.9498 2.8995 15.0206 635.18 197.24)" font-size="1" text-anchor="end" fill="#000" font-weight="normal" y="0.36"  stroke="#000" stroke-width="0.06" stroke-linejoin="round">1.0</text>
<text transform="matrix(14.7954 11.1270 -13.8833 13.2195 773.7 518.2)" font-size="1" text-anchor="middle" fill="#000" font-weight="bold" y="0.36" >Layer</text>
<text transform="matrix(11.8425 -12.9805 16.2334 10.9274 1068.4 500.8)" font-size="1" text-anchor="middle" fill="#000" font-weight="bold" y="0.36" >Nodes</text>
<text transform="matrix(3.2630 14.5891 -16.9319 13.7154 624.7 337)" font-size="1" text-anchor="middle" fill="#000" font-weight="normal" y="0.36"  stroke="#000" stroke-width="0.045" stroke-linejoin="round">Validation Accuracy</text>
</g>
<g font-family='"Liberation Sans", Arial, sans-serif' font-style="normal">
<polygon points="872.57,251.43 939.61,293.78 944.66,139.34 869.52,95.95" fill="#2F3CE1" stroke="#2F3CE1" stroke-width="0.6"/>
<polygon points="939.61,293.78 952.85,281.63 959.46,126.88 944.66,139.34" fill="#1D258C" stroke="#1D258C" stroke-width="0.6"/>
<polygon points="869.52,95.95 944.66,139.34 959.46,126.88 884.5,84.13" fill="#252FB0" stroke="#252FB0" stroke-width="0.6"/>
<text transform="matrix(16.1344 9.2576 -13.4487 10.9527 914.07 111.27)" font-size="1" text-anchor="middle" fill="#fff" font-weight="normal" y="0.36"  stroke="#fff" stroke-width="0.055" stroke-linejoin="round">0.727</text>
<polygon points="947.26,298.61 1017.93,343.25 1032.98,190.33 953.26,144.3" fill="#2F3CE1" stroke="#2F3CE1" stroke-width="0.6"/>
<polygon points="1017.93,343.25 1030.98,330.43 1047.53,177.1 1032.98,190.33" fill="#1D258C" stroke="#1D258C" stroke-width="0.6"/>
<polygon points="953.26,144.3 1032.98,190.33 1047.53,177.1 968.04,131.77" fill="#252FB0" stroke="#252FB0" stroke-width="0.6"/>
<text transform="matrix(17.1128 9.8189 -13.2508 11.6240 999.94 160.54)" font-size="1" text-anchor="middle" fill="#fff" font-weight="normal" y="0.36"  stroke="#fff" stroke-width="0.055" stroke-linejoin="round">0.727</text>
<polygon points="1026,348.35 1100.6,395.47 1126.83,244.52 1042.1,195.6" fill="#2F3CE1" stroke="#2F3CE1" stroke-width="0.6"/>
<polygon points="1100.6,395.47 1113.41,381.92 1141.08,230.44 1126.83,244.52" fill="#1D258C" stroke="#1D258C" stroke-width="0.6"/>
<polygon points="1042.1,195.6 1126.83,244.52 1141.08,230.44 1056.63,182.29" fill="#252FB0" stroke="#252FB0" stroke-width="0.6"/>
<text transform="matrix(18.1829 10.4329 -13.0026 12.3584 1091.11 212.85)" font-size="1" text-anchor="middle" fill="#fff" font-weight="normal" y="0.36"  stroke="#fff" stroke-width="0.055" stroke-linejoin="round">0.727</text>
<polygon points="845.27,275.1 912.59,318.6 914.62,142.85 837.98,98.04" fill="#FF00FF" stroke="#FF00FF" stroke-width="0.6"/>
<polygon points="912.59,318.6 926.2,306.11 930.12,129.98 914.62,142.85" fill="#9E009E" stroke="#9E009E" stroke-width="0.6"/>
<polygon points="837.98,98.04 914.62,142.85 930.12,129.98 853.65,85.85" fill="#C700C7" stroke="#C700C7" stroke-width="0.6"/>
<text transform="matrix(16.4577 9.5592 -14.0780 11.3099 883.61 113.86)" font-size="1" text-anchor="middle" fill="#fff" font-weight="normal" y="0.36"  stroke="#fff" stroke-width="0.055" stroke-linejoin="round">0.818</text>
<polygon points="920.27,323.56 991.28,369.45 1001.51,238.54 922.63,191.23" fill="#FBC011" stroke="#FBC011" stroke-width="0.6"/>
<polygon points="991.28,369.45 1004.7,356.26 1016.31,224.94 1001.51,238.54" fill="#9C770B" stroke="#9C770B" stroke-width="0.6"/>
<polygon points="922.63,191.23 1001.51,238.54 1016.31,224.94 937.64,178.34" fill="#C4960D" stroke="#C4960D" stroke-width="0.6"/>
<text transform="matrix(16.9341 10.0929 -13.4668 11.9549 969.02 207.92)" font-size="1" text-anchor="middle" fill="#fff" font-weight="normal" y="0.36"  stroke="#fff" stroke-width="0.055" stroke-linejoin="round">0.636</text>
<polygon points="999.39,374.69 1074.4,423.16 1094.38,294.25 1010.54,243.96" fill="#FBC011" stroke="#FBC011" stroke-width="0.6"/>
<polygon points="1074.4,423.16 1087.59,409.22 1108.89,279.77 1094.38,294.25" fill="#9C770B" stroke="#9C770B" stroke-width="0.6"/>
<polygon points="1010.54,243.96 1094.38,294.25 1108.89,279.77 1025.32,230.27" fill="#C4960D" stroke="#C4960D" stroke-width="0.6"/>
<text transform="matrix(17.9931 10.7240 -13.2321 12.7101 1059.23 261.69)" font-size="1" text-anchor="middle" fill="#fff" font-weight="normal" y="0.36"  stroke="#fff" stroke-width="0.055" stroke-linejoin="round">0.636</text>
<polygon points="817.24,299.4 884.81,344.11 883.36,212.35 808.69,166.39" fill="#FBC011" stroke="#FBC011" stroke-width="0.6"/>
<polygon points="884.81,344.11 898.8,331.26 898.86,199.14 883.36,212.35" fill="#9C770B" stroke="#9C770B" stroke-width="0.6"/>
<polygon points="808.69,166.39 883.36,212.35 898.86,199.14 824.35,153.87" fill="#C4960D" stroke="#C4960D" stroke-width="0.6"/>
<text transform="matrix(16.0345 9.8053 -14.0719 11.6109 853.35 182.61)" font-size="1" text-anchor="middle" fill="#fff" font-weight="normal" y="0.36"  stroke="#fff" stroke-width="0.055" stroke-linejoin="round">0.636</text>
<polygon points="892.52,349.21 963.86,396.4 971.19,266.41 891.9,217.61" fill="#FBC011" stroke="#FBC011" stroke-width="0.6"/>
<polygon points="963.86,396.4 977.67,382.83 986.47,252.37 971.19,266.41" fill="#9C770B" stroke="#9C770B" stroke-width="0.6"/>
<polygon points="891.9,217.61 971.19,266.41 986.47,252.37 907.39,204.32" fill="#C4960D" stroke="#C4960D" stroke-width="0.6"/>
<text transform="matrix(17.0223 10.4093 -13.8932 12.3335 938.73 234.82)" font-size="1" text-anchor="middle" fill="#fff" font-weight="normal" y="0.36"  stroke="#fff" stroke-width="0.055" stroke-linejoin="round">0.636</text>
<polygon points="972.01,401.79 1047.43,451.68 1064.62,323.92 980.27,272" fill="#FBC011" stroke="#FBC011" stroke-width="0.6"/>
<polygon points="1047.43,451.68 1061.01,437.32 1079.62,308.96 1064.62,323.92" fill="#9C770B" stroke="#9C770B" stroke-width="0.6"/>
<polygon points="980.27,272 1064.62,323.92 1079.62,308.96 995.53,257.87" fill="#C4960D" stroke="#C4960D" stroke-width="0.6"/>
<text transform="matrix(18.1043 11.0710 -13.6643 13.1252 1029.45 290.3)" font-size="1" text-anchor="middle" fill="#fff" font-weight="normal" y="0.36"  stroke="#fff" stroke-width="0.055" stroke-linejoin="round">0.636</text>
<polygon points="788.42,324.39 856.24,370.34 850.88,218.26 774.76,170.71" fill="#2F3CE1" stroke="#2F3CE1" stroke-width="0.6"/>
<polygon points="856.24,370.34 870.63,357.13 867.13,204.58 850.88,218.26" fill="#1D258C" stroke="#1D258C" stroke-width="0.6"/>
<polygon points="774.76,170.71 850.88,218.26 867.13,204.58 791.16,157.77" fill="#252FB0" stroke="#252FB0" stroke-width="0.6"/>
<text transform="matrix(16.3457 10.1423 -14.7477 12.0106 820.5 187.48)" font-size="1" text-anchor="middle" fill="#fff" font-weight="normal" y="0.36"  stroke="#fff" stroke-width="0.055" stroke-linejoin="round">0.727</text>
<polygon points="863.99,375.59 935.64,424.13 939.89,295.18 860.21,244.82" fill="#FBC011" stroke="#FBC011" stroke-width="0.6"/>
<polygon points="935.64,424.13 949.85,410.16 955.67,280.68 939.89,295.18" fill="#9C770B" stroke="#9C770B" stroke-width="0.6"/>
<polygon points="860.21,244.82 939.89,295.18 955.67,280.68 876.18,231.1" fill="#C4960D" stroke="#C4960D" stroke-width="0.6"/>
<text transform="matrix(17.1075 10.7410 -14.3403 12.7304 907.47 262.57)" font-size="1" text-anchor="middle" fill="#fff" font-weight="normal" y="0.36"  stroke="#fff" stroke-width="0.055" stroke-linejoin="round">0.636</text>
<polygon points="943.83,429.68 1019.64,481.05 1033.87,354.59 949.02,300.95" fill="#FBC011" stroke="#FBC011" stroke-width="0.6"/>
<polygon points="1019.64,481.05 1033.64,466.25 1049.38,339.13 1033.87,354.59" fill="#9C770B" stroke="#9C770B" stroke-width="0.6"/>
<polygon points="949.02,300.95 1033.87,354.59 1049.38,339.13 964.77,286.36" fill="#C4960D" stroke="#C4960D" stroke-width="0.6"/>
<text transform="matrix(18.2131 11.4352 -14.1181 13.5611 998.69 319.84)" font-size="1" text-anchor="middle" fill="#fff" font-weight="normal" y="0.36"  stroke="#fff" stroke-width="0.055" stroke-linejoin="round">0.636</text>
<polygon points="758.79,350.07 826.85,397.33 818.87,267.3 743.62,218.42" fill="#FBC011" stroke="#FBC011" stroke-width="0.6"/>
<polygon points="826.85,397.33 841.65,383.74 835.38,253.23 818.87,267.3" fill="#9C770B" stroke="#9C770B" stroke-width="0.6"/>
<polygon points="743.62,218.42 818.87,267.3 835.38,253.23 760.27,205.11" fill="#C4960D" stroke="#C4960D" stroke-width="0.6"/>
<text transform="matrix(16.1610 10.4255 -14.9710 12.3528 789.05 235.66)" font-size="1" text-anchor="middle" fill="#fff" font-weight="normal" y="0.36"  stroke="#fff" stroke-width="0.055" stroke-linejoin="round">0.636</text>
<polygon points="834.63,402.72 906.59,452.69 907.4,344.97 828.61,293.23" fill="#9098EC" stroke="#9098EC" stroke-width="0.6"/>
<polygon points="906.59,452.69 921.22,438.31 923.44,330.06 907.4,344.97" fill="#595E92" stroke="#595E92" stroke-width="0.6"/>
<polygon points="828.61,293.23 907.4,344.97 923.44,330.06 844.83,279.14" fill="#7077B8" stroke="#7077B8" stroke-width="0.6"/>
<text transform="matrix(16.9173 11.0327 -14.5703 13.0828 875.56 311.47)" font-size="1" text-anchor="middle" fill="#fff" font-weight="normal" y="0.36"  stroke="#fff" stroke-width="0.055" stroke-linejoin="round">0.545</text>
<polygon points="914.81,458.4 991.01,511.31 1000.33,405.98 916.43,350.89" fill="#9098EC" stroke="#9098EC" stroke-width="0.6"/>
<polygon points="991.01,511.31 1005.44,496.06 1016.11,390.1 1000.33,405.98" fill="#595E92" stroke="#595E92" stroke-width="0.6"/>
<polygon points="916.43,350.89 1000.33,405.98 1016.11,390.1 932.45,335.9" fill="#7077B8" stroke="#7077B8" stroke-width="0.6"/>
<text transform="matrix(18.0106 11.7457 -14.3630 13.9363 965.76 370.29)" font-size="1" text-anchor="middle" fill="#fff" font-weight="normal" y="0.36"  stroke="#fff" stroke-width="0.055" stroke-linejoin="round">0.545</text>
<polygon points="728.32,376.48 796.61,425.1 788.6,335.72 715.3,285.75" fill="#00B2AD" stroke="#00B2AD" stroke-width="0.6"/>
<polygon points="796.61,425.1 811.84,411.11 805.09,321.33 788.6,335.72" fill="#006E6B" stroke="#006E6B" stroke-width="0.6"/>
<polygon points="715.3,285.75 788.6,335.72 805.09,321.33 731.91,272.13" fill="#008B87" stroke="#008B87" stroke-width="0.6"/>
<text transform="matrix(15.7442 10.6579 -14.9467 12.6372 759.76 303.37)" font-size="1" text-anchor="middle" fill="#fff" font-weight="normal" y="0.36"  stroke="#fff" stroke-width="0.055" stroke-linejoin="round">0.455</text>
<polygon points="804.41,430.66 876.66,482.1 874.9,394.54 796.99,341.44" fill="#00B2AD" stroke="#00B2AD" stroke-width="0.6"/>
<polygon points="876.66,482.1 891.73,467.29 891.21,379.24 874.9,394.54" fill="#006E6B" stroke="#006E6B" stroke-width="0.6"/>
<polygon points="796.99,341.44 874.9,394.54 891.21,379.24 813.47,326.97" fill="#008B87" stroke="#008B87" stroke-width="0.6"/>
<text transform="matrix(16.7300 11.3252 -14.8030 13.4361 843.64 360.15)" font-size="1" text-anchor="middle" fill="#fff" font-weight="normal" y="0.36"  stroke="#fff" stroke-width="0.055" stroke-linejoin="round">0.455</text>
<polygon points="884.92,487.99 961.5,542.51 966.8,457.18 883.83,400.63" fill="#00B2AD" stroke="#00B2AD" stroke-width="0.6"/>
<polygon points="961.5,542.51 976.37,526.79 982.87,440.86 966.8,457.18" fill="#006E6B" stroke="#006E6B" stroke-width="0.6"/>
<polygon points="883.83,400.63 966.8,457.18 982.87,440.86 900.12,385.23" fill="#008B87" stroke="#008B87" stroke-width="0.6"/>
<text transform="matrix(17.8113 12.0572 -14.6105 14.3126 932.85 420.54)" font-size="1" text-anchor="middle" fill="#fff" font-weight="normal" y="0.36"  stroke="#fff" stroke-width="0.055" stroke-linejoin="round">0.455</text>
<polygon points="696.97,403.66 765.46,453.7 763.46,437.06 694.02,386.71" fill="#C0C0C0" stroke="#C0C0C0" stroke-width="0.6"/>
<polygon points="765.46,453.7 781.15,439.3 779.4,422.57 763.46,437.06" fill="#777777" stroke="#777777" stroke-width="0.6"/>
<polygon points="694.02,386.71 763.46,437.06 779.4,422.57 710.06,372.95" fill="#969696" stroke="#969696" stroke-width="0.6"/>
<text transform="matrix(14.9159 10.7441 -14.4402 12.7520 736.32 404.48)" font-size="1" text-anchor="middle" fill="#fff" font-weight="normal" y="0.36"  stroke="#fff" stroke-width="0.055" stroke-linejoin="round">0.091</text>
<polygon points="773.29,459.42 845.82,512.42 841.49,425.91 763.26,371.08" fill="#00B2AD" stroke="#00B2AD" stroke-width="0.6"/>
<polygon points="845.82,512.42 861.35,497.15 858.33,410.1 841.49,425.91" fill="#006E6B" stroke="#006E6B" stroke-width="0.6"/>
<polygon points="763.26,371.08 841.49,425.91 858.33,410.1 780.26,356.14" fill="#008B87" stroke="#008B87" stroke-width="0.6"/>
<text transform="matrix(16.7994 11.6923 -15.2872 13.8756 810.32 390.39)" font-size="1" text-anchor="middle" fill="#fff" font-weight="normal" y="0.36"  stroke="#fff" stroke-width="0.055" stroke-linejoin="round">0.455</text>
<polygon points="854.11,518.48 931.05,574.7 933.85,490.65 850.46,432.2" fill="#00B2AD" stroke="#00B2AD" stroke-width="0.6"/>
<polygon points="931.05,574.7 946.39,558.48 950.47,473.78 933.85,490.65" fill="#006E6B" stroke="#006E6B" stroke-width="0.6"/>
<polygon points="850.46,432.2 933.85,490.65 950.47,473.78 867.28,416.28" fill="#008B87" stroke="#008B87" stroke-width="0.6"/>
<text transform="matrix(17.9037 12.4609 -15.1040 14.7960 899.94 452.77)" font-size="1" text-anchor="middle" fill="#fff" font-weight="normal" y="0.36"  stroke="#fff" stroke-width="0.055" stroke-linejoin="round">0.455</text>
</g>
<text x="632" y="45.4" font-family='"Liberation Sans", Arial, sans-serif' font-weight="bold" font-size="36.7">b</text></g>
<g><g font-family='"Liberation Sans", Arial, sans-serif'>
<line x1="1348.55" y1="443.61" x2="1553.7" y2="260.25" stroke="#DADADA" stroke-width="1.0" stroke-linecap="butt"/>
<line x1="1427.63" y1="501.65" x2="1630.7" y2="308.05" stroke="#DADADA" stroke-width="1.0" stroke-linecap="butt"/>
<line x1="1511.39" y1="563.12" x2="1711.83" y2="358.41" stroke="#DADADA" stroke-width="1.0" stroke-linecap="butt"/>
<line x1="1326.71" y1="401.87" x2="1570.79" y2="578.7" stroke="#DADADA" stroke-width="1.0" stroke-linecap="butt"/>
<line x1="1358.16" y1="374.61" x2="1601.32" y2="546.36" stroke="#DADADA" stroke-width="1.0" stroke-linecap="butt"/>
<line x1="1388.76" y1="348.09" x2="1630.95" y2="514.98" stroke="#DADADA" stroke-width="1.0" stroke-linecap="butt"/>
<line x1="1418.52" y1="322.29" x2="1659.71" y2="484.52" stroke="#DADADA" stroke-width="1.0" stroke-linecap="butt"/>
<line x1="1447.49" y1="297.18" x2="1687.64" y2="454.95" stroke="#DADADA" stroke-width="1.0" stroke-linecap="butt"/>
<line x1="1475.7" y1="272.73" x2="1714.77" y2="426.22" stroke="#DADADA" stroke-width="1.0" stroke-linecap="butt"/>
<line x1="1503.18" y1="248.92" x2="1741.14" y2="398.29" stroke="#DADADA" stroke-width="1.0" stroke-linecap="butt"/>
<polyline points="1310.65,415.79 1516.65,237.24 1754.05,384.62" fill="none" stroke="#9C9C9C" stroke-width="1.0" stroke-linejoin="miter" stroke-linecap="square"/>
<polyline points="1307.28,397 1516.52,217.62 1757.57,365.66" fill="none" stroke="#9C9C9C" stroke-width="1.0" stroke-linejoin="miter" stroke-linecap="square"/>
<polyline points="1303.8,377.6 1516.39,197.44 1761.21,346.09" fill="none" stroke="#9C9C9C" stroke-width="1.0" stroke-linejoin="miter" stroke-linecap="square"/>
<polyline points="1300.2,357.58 1516.26,176.66 1764.97,325.91" fill="none" stroke="#9C9C9C" stroke-width="1.0" stroke-linejoin="miter" stroke-linecap="square"/>
<polyline points="1296.49,336.89 1516.12,155.26 1768.84,305.07" fill="none" stroke="#9C9C9C" stroke-width="1.0" stroke-linejoin="miter" stroke-linecap="square"/>
<polyline points="1292.66,315.52 1515.98,133.21 1772.85,283.55" fill="none" stroke="#9C9C9C" stroke-width="1.0" stroke-linejoin="miter" stroke-linecap="square"/>
<polyline points="1288.69,293.41 1515.83,110.49 1776.98,261.3" fill="none" stroke="#9C9C9C" stroke-width="1.0" stroke-linejoin="miter" stroke-linecap="square"/>
<polyline points="1284.59,270.54 1515.68,87.06 1781.26,238.3" fill="none" stroke="#9C9C9C" stroke-width="1.0" stroke-linejoin="miter" stroke-linecap="square"/>
<polyline points="1280.34,246.86 1515.53,62.88 1785.69,214.51" fill="none" stroke="#9C9C9C" stroke-width="1.0" stroke-linejoin="miter" stroke-linecap="square"/>
<polyline points="1275.94,222.33 1515.37,37.93 1790.27,189.87" fill="none" stroke="#9C9C9C" stroke-width="1.0" stroke-linejoin="miter" stroke-linecap="square"/>
<line x1="1326.71" y1="401.87" x2="1290.67" y2="182.29" stroke="#9C9C9C" stroke-width="1.0" stroke-linecap="butt"/>
<line x1="1358.16" y1="374.61" x2="1328.33" y2="153.76" stroke="#9C9C9C" stroke-width="1.0" stroke-linecap="butt"/>
<line x1="1388.76" y1="348.09" x2="1364.77" y2="126.15" stroke="#9C9C9C" stroke-width="1.0" stroke-linecap="butt"/>
<line x1="1418.52" y1="322.29" x2="1400.05" y2="99.41" stroke="#9C9C9C" stroke-width="1.0" stroke-linecap="butt"/>
<line x1="1447.49" y1="297.18" x2="1434.23" y2="73.51" stroke="#9C9C9C" stroke-width="1.0" stroke-linecap="butt"/>
<line x1="1475.7" y1="272.73" x2="1467.37" y2="48.41" stroke="#9C9C9C" stroke-width="1.0" stroke-linecap="butt"/>
<line x1="1503.18" y1="248.92" x2="1499.5" y2="24.06" stroke="#9C9C9C" stroke-width="1.0" stroke-linecap="butt"/>
<line x1="1553.7" y1="260.25" x2="1558.38" y2="35.65" stroke="#9C9C9C" stroke-width="1.0" stroke-linecap="butt"/>
<line x1="1630.7" y1="308.05" x2="1648.7" y2="84.77" stroke="#9C9C9C" stroke-width="1.0" stroke-linecap="butt"/>
<line x1="1711.83" y1="358.41" x2="1744.71" y2="136.99" stroke="#9C9C9C" stroke-width="1.0" stroke-linecap="butt"/>
<line x1="1516.65" y1="237.24" x2="1515.2" y2="12.16" stroke="#9C9C9C" stroke-width="1.0" stroke-linecap="butt"/>
<polyline points="1271.37,196.91 1515.2,12.16 1795.02,164.35 1754.05,384.62" fill="none" stroke="#000" stroke-width="2.028" stroke-linejoin="miter" stroke-linecap="square"/>
<polyline points="1271.37,196.91 1310.65,415.79 1555.16,595.25 1754.05,384.62" fill="none" stroke="#000" stroke-width="2.6" stroke-linejoin="miter" stroke-linecap="square"/>
<line x1="1348.55" y1="443.61" x2="1341.98" y2="449.48" stroke="#000" stroke-width="2.1" stroke-linecap="butt"/>
<line x1="1427.63" y1="501.65" x2="1421.11" y2="507.86" stroke="#000" stroke-width="2.1" stroke-linecap="butt"/>
<line x1="1511.39" y1="563.12" x2="1504.94" y2="569.71" stroke="#000" stroke-width="2.1" stroke-linecap="butt"/>
<line x1="1570.79" y1="578.7" x2="1578.52" y2="584.3" stroke="#000" stroke-width="2.1" stroke-linecap="butt"/>
<line x1="1601.32" y1="546.36" x2="1609.02" y2="551.79" stroke="#000" stroke-width="2.1" stroke-linecap="butt"/>
<line x1="1630.95" y1="514.98" x2="1638.61" y2="520.26" stroke="#000" stroke-width="2.1" stroke-linecap="butt"/>
<line x1="1659.71" y1="484.52" x2="1667.32" y2="489.65" stroke="#000" stroke-width="2.1" stroke-linecap="butt"/>
<line x1="1687.64" y1="454.95" x2="1695.21" y2="459.92" stroke="#000" stroke-width="2.1" stroke-linecap="butt"/>
<line x1="1714.77" y1="426.22" x2="1722.3" y2="431.05" stroke="#000" stroke-width="2.1" stroke-linecap="butt"/>
<line x1="1741.14" y1="398.29" x2="1748.62" y2="402.99" stroke="#000" stroke-width="2.1" stroke-linecap="butt"/>
<line x1="1310.65" y1="415.79" x2="1305.09" y2="420.61" stroke="#000" stroke-width="2.1" stroke-linecap="butt"/>
<line x1="1307.28" y1="397" x2="1301.62" y2="401.85" stroke="#000" stroke-width="2.1" stroke-linecap="butt"/>
<line x1="1303.8" y1="377.6" x2="1298.04" y2="382.48" stroke="#000" stroke-width="2.1" stroke-linecap="butt"/>
<line x1="1300.2" y1="357.58" x2="1294.34" y2="362.48" stroke="#000" stroke-width="2.1" stroke-linecap="butt"/>
<line x1="1296.49" y1="336.89" x2="1290.53" y2="341.83" stroke="#000" stroke-width="2.1" stroke-linecap="butt"/>
<line x1="1292.66" y1="315.52" x2="1286.58" y2="320.48" stroke="#000" stroke-width="2.1" stroke-linecap="butt"/>
<line x1="1288.69" y1="293.41" x2="1282.5" y2="298.4" stroke="#000" stroke-width="2.1" stroke-linecap="butt"/>
<line x1="1284.59" y1="270.54" x2="1278.28" y2="275.55" stroke="#000" stroke-width="2.1" stroke-linecap="butt"/>
<line x1="1280.34" y1="246.86" x2="1273.9" y2="251.89" stroke="#000" stroke-width="2.1" stroke-linecap="butt"/>
<line x1="1275.94" y1="222.33" x2="1269.37" y2="227.39" stroke="#000" stroke-width="2.1" stroke-linecap="butt"/>
<line x1="1271.37" y1="196.91" x2="1264.68" y2="201.98" stroke="#000" stroke-width="2.1" stroke-linecap="butt"/>
<text transform="matrix(12.9755 -11.5976 13.1535 9.7245 1339.48 451.72)" font-size="1" text-anchor="end" fill="#000" font-weight="normal" y="0.36"  stroke="#000" stroke-width="0.03" stroke-linejoin="round">1</text>
<text transform="matrix(12.8812 -12.2798 13.9248 10.2947 1418.62 510.23)" font-size="1" text-anchor="end" fill="#000" font-weight="normal" y="0.36"  stroke="#000" stroke-width="0.03" stroke-linejoin="round">2</text>
<text transform="matrix(12.7524 -13.0239 14.7660 10.9166 1502.48 572.22)" font-size="1" text-anchor="end" fill="#000" font-weight="normal" y="0.36"  stroke="#000" stroke-width="0.03" stroke-linejoin="round">3</text>
<text transform="matrix(15.2730 11.0650 -12.3495 13.2014 1582 586.82)" font-size="1" text-anchor="start" fill="#000" font-weight="normal" y="0.36"  stroke="#000" stroke-width="0.03" stroke-linejoin="round">1</text>
<text transform="matrix(15.1950 10.7327 -11.9775 12.8038 1612.48 554.24)" font-size="1" text-anchor="start" fill="#000" font-weight="normal" y="0.36"  stroke="#000" stroke-width="0.03" stroke-linejoin="round">5</text>
<text transform="matrix(15.1148 10.4151 -11.6221 12.4238 1642.05 522.63)" font-size="1" text-anchor="start" fill="#000" font-weight="normal" y="0.36"  stroke="#000" stroke-width="0.03" stroke-linejoin="round">10</text>
<text transform="matrix(15.0328 10.1115 -11.2823 12.0606 1670.75 491.95)" font-size="1" text-anchor="start" fill="#000" font-weight="normal" y="0.36"  stroke="#000" stroke-width="0.03" stroke-linejoin="round">15</text>
<text transform="matrix(14.9491 9.8209 -10.9571 11.7130 1698.61 462.16)" font-size="1" text-anchor="start" fill="#000" font-weight="normal" y="0.36"  stroke="#000" stroke-width="0.03" stroke-linejoin="round">20</text>
<text transform="matrix(14.8640 9.5428 -10.6459 11.3803 1725.68 433.22)" font-size="1" text-anchor="start" fill="#000" font-weight="normal" y="0.36"  stroke="#000" stroke-width="0.03" stroke-linejoin="round">25</text>
<text transform="matrix(14.7777 9.2763 -10.3477 11.0615 1751.99 405.1)" font-size="1" text-anchor="start" fill="#000" font-weight="normal" y="0.36"  stroke="#000" stroke-width="0.03" stroke-linejoin="round">30</text>
<text transform="matrix(13.2291 -11.4663 2.0064 10.7082 1302.47 422.89)" font-size="1" text-anchor="end" fill="#000" font-weight="normal" y="0.36"  stroke="#000" stroke-width="0.03" stroke-linejoin="round">0.0</text>
<text transform="matrix(13.4581 -11.5368 2.0701 11.0483 1298.95 404.13)" font-size="1" text-anchor="end" fill="#000" font-weight="normal" y="0.36"  stroke="#000" stroke-width="0.03" stroke-linejoin="round">0.1</text>
<text transform="matrix(13.6952 -11.6060 2.1369 11.4048 1295.33 384.78)" font-size="1" text-anchor="end" fill="#000" font-weight="normal" y="0.36"  stroke="#000" stroke-width="0.03" stroke-linejoin="round">0.2</text>
<text transform="matrix(13.9406 -11.6736 2.2070 11.7788 1291.58 364.8)" font-size="1" text-anchor="end" fill="#000" font-weight="normal" y="0.36"  stroke="#000" stroke-width="0.03" stroke-linejoin="round">0.3</text>
<text transform="matrix(14.1950 -11.7394 2.2806 12.1716 1287.71 344.15)" font-size="1" text-anchor="end" fill="#000" font-weight="normal" y="0.36"  stroke="#000" stroke-width="0.03" stroke-linejoin="round">0.4</text>
<text transform="matrix(14.4587 -11.8030 2.3579 12.5843 1283.72 322.81)" font-size="1" text-anchor="end" fill="#000" font-weight="normal" y="0.36"  stroke="#000" stroke-width="0.03" stroke-linejoin="round">0.5</text>
<text transform="matrix(14.7323 -11.8642 2.4392 13.0184 1279.58 300.75)" font-size="1" text-anchor="end" fill="#000" font-weight="normal" y="0.36"  stroke="#000" stroke-width="0.03" stroke-linejoin="round">0.6</text>
<text transform="matrix(15.0164 -11.9225 2.5249 13.4754 1275.3 277.91)" font-size="1" text-anchor="end" fill="#000" font-weight="normal" y="0.36"  stroke="#000" stroke-width="0.03" stroke-linejoin="round">0.7</text>
<text transform="matrix(15.3115 -11.9775 2.6151 13.9568 1270.87 254.27)" font-size="1" text-anchor="end" fill="#000" font-weight="normal" y="0.36"  stroke="#000" stroke-width="0.03" stroke-linejoin="round">0.8</text>
<text transform="matrix(15.6183 -12.0288 2.7102 14.4645 1266.28 229.77)" font-size="1" text-anchor="end" fill="#000" font-weight="normal" y="0.36"  stroke="#000" stroke-width="0.03" stroke-linejoin="round">0.9</text>
<text transform="matrix(15.9376 -12.0759 2.8106 15.0004 1261.52 204.37)" font-size="1" text-anchor="end" fill="#000" font-weight="normal" y="0.36"  stroke="#000" stroke-width="0.03" stroke-linejoin="round">1.0</text>
<text transform="matrix(16.4097 12.3193 -15.4043 14.6956 1400.6 528.9)" font-size="1" text-anchor="middle" fill="#000" font-weight="normal" y="0.36"  stroke="#000" stroke-width="0.03" stroke-linejoin="round">Hidden layers</text>
<text transform="matrix(13.2137 -14.4680 18.0030 12.1291 1697 513)" font-size="1" text-anchor="middle" fill="#000" font-weight="normal" y="0.36"  stroke="#000" stroke-width="0.03" stroke-linejoin="round">Nodes</text>
<text transform="matrix(3.1990 14.6286 -17.0414 13.8787 1248.6 347)" font-size="1" text-anchor="middle" fill="#000" font-weight="normal" y="0.36"  stroke="#000" stroke-width="0.02" stroke-linejoin="round">Validation Accuracy</text>
</g>
<g font-family='"Liberation Sans", Arial, sans-serif' font-style="normal">
<polygon points="1500.05,257.13 1567.8,299.9 1573.26,130.37 1496.85,86.58" fill="#0000FF" stroke="#0000FF" stroke-width="0.6"/>
<polygon points="1567.8,299.9 1581.22,287.56 1588.36,117.71 1573.26,130.37" fill="#00009E" stroke="#00009E" stroke-width="0.6"/>
<polygon points="1496.85,86.58 1573.26,130.37 1588.36,117.71 1512.11,74.57" fill="#0000C7" stroke="#0000C7" stroke-width="0.6"/>
<text transform="matrix(16.4081 9.3434 -13.7135 11.1289 1542.18 102)" font-size="1" text-anchor="middle" fill="#fff" font-weight="normal" y="0.36"  stroke="#fff" stroke-width="0.055" stroke-linejoin="round">0.786</text>
<polygon points="1575.53,304.78 1646.9,349.83 1664.71,164.41 1582.67,117.89" fill="#FF00FF" stroke="#FF00FF" stroke-width="0.6"/>
<polygon points="1646.9,349.83 1660.13,336.82 1679.73,150.95 1664.71,164.41" fill="#9E009E" stroke="#9E009E" stroke-width="0.6"/>
<polygon points="1582.67,117.89 1664.71,164.41 1679.73,150.95 1597.92,105.14" fill="#C700C7" stroke="#C700C7" stroke-width="0.6"/>
<text transform="matrix(17.6118 9.9233 -13.6716 11.8213 1630.73 134.26)" font-size="1" text-anchor="middle" fill="#fff" font-weight="normal" y="0.36"  stroke="#fff" stroke-width="0.055" stroke-linejoin="round">0.857</text>
<polygon points="1655.04,354.97 1730.32,402.49 1761.33,219.19 1674.11,169.73" fill="#FF00FF" stroke="#FF00FF" stroke-width="0.6"/>
<polygon points="1730.32,402.49 1743.33,388.76 1776.05,204.88 1761.33,219.19" fill="#9E009E" stroke="#9E009E" stroke-width="0.6"/>
<polygon points="1674.11,169.73 1761.33,219.19 1776.05,204.88 1689.1,156.2" fill="#C700C7" stroke="#C700C7" stroke-width="0.6"/>
<text transform="matrix(18.7197 10.5475 -13.4202 12.5676 1724.57 187.13)" font-size="1" text-anchor="middle" fill="#fff" font-weight="normal" y="0.36"  stroke="#fff" stroke-width="0.055" stroke-linejoin="round">0.857</text>
<polygon points="1472.41,281.17 1540.42,325.08 1542.17,173.54 1466.32,128.5" fill="#0000FF" stroke="#0000FF" stroke-width="0.6"/>
<polygon points="1540.42,325.08 1554.2,312.41 1557.55,160.52 1542.17,173.54" fill="#00009E" stroke="#00009E" stroke-width="0.6"/>
<polygon points="1466.32,128.5 1542.17,173.54 1557.55,160.52 1481.86,116.14" fill="#0000C7" stroke="#0000C7" stroke-width="0.6"/>
<text transform="matrix(16.2891 9.6105 -13.9635 11.4491 1511.51 144.36)" font-size="1" text-anchor="middle" fill="#fff" font-weight="normal" y="0.36"  stroke="#fff" stroke-width="0.055" stroke-linejoin="round">0.714</text>
<polygon points="1548.18,330.09 1619.87,376.38 1633.94,191.96 1551.47,143.97" fill="#FF00FF" stroke="#FF00FF" stroke-width="0.6"/>
<polygon points="1619.87,376.38 1633.48,363.01 1649.45,178.07 1633.94,191.96" fill="#9E009E" stroke="#9E009E" stroke-width="0.6"/>
<polygon points="1551.47,143.97 1633.94,191.96 1649.45,178.07 1567.19,130.83" fill="#C700C7" stroke="#C700C7" stroke-width="0.6"/>
<text transform="matrix(17.7066 10.2361 -14.1040 12.1952 1599.98 160.85)" font-size="1" text-anchor="middle" fill="#fff" font-weight="normal" y="0.36"  stroke="#fff" stroke-width="0.055" stroke-linejoin="round">0.857</text>
<polygon points="1628.06,381.67 1703.74,430.54 1731.17,248.53 1643.39,197.46" fill="#FF00FF" stroke="#FF00FF" stroke-width="0.6"/>
<polygon points="1703.74,430.54 1717.13,416.41 1746.37,233.74 1731.17,248.53" fill="#9E009E" stroke="#9E009E" stroke-width="0.6"/>
<polygon points="1643.39,197.46 1731.17,248.53 1746.37,233.74 1658.87,183.49" fill="#C700C7" stroke="#C700C7" stroke-width="0.6"/>
<text transform="matrix(18.8388 10.8905 -13.8582 12.9778 1694.36 215.42)" font-size="1" text-anchor="middle" fill="#fff" font-weight="normal" y="0.36"  stroke="#fff" stroke-width="0.055" stroke-linejoin="round">0.857</text>
<polygon points="1444.02,305.84 1512.29,350.95 1510.71,200.17 1434.54,153.76" fill="#0000FF" stroke="#0000FF" stroke-width="0.6"/>
<polygon points="1512.29,350.95 1526.45,337.93 1526.56,186.75 1510.71,200.17" fill="#00009E" stroke="#00009E" stroke-width="0.6"/>
<polygon points="1434.54,153.76 1510.71,200.17 1526.56,186.75 1450.55,141.03" fill="#0000C7" stroke="#0000C7" stroke-width="0.6"/>
<text transform="matrix(16.3567 9.9019 -14.3883 11.7975 1480.12 170.1)" font-size="1" text-anchor="middle" fill="#fff" font-weight="normal" y="0.36"  stroke="#fff" stroke-width="0.055" stroke-linejoin="round">0.714</text>
<polygon points="1520.08,356.1 1592.09,403.69 1603.17,202.45 1519.2,152.79" fill="#7A1FBD" stroke="#7A1FBD" stroke-width="0.6"/>
<polygon points="1592.09,403.69 1606.08,389.94 1619.38,188.07 1603.17,202.45" fill="#4C1375" stroke="#4C1375" stroke-width="0.6"/>
<polygon points="1519.2,152.79 1603.17,202.45 1619.38,188.07 1535.62,139.21" fill="#5F1893" stroke="#5F1893" stroke-width="0.6"/>
<text transform="matrix(18.0271 10.5880 -14.7377 12.6150 1568.78 170.26)" font-size="1" text-anchor="middle" fill="#fff" font-weight="normal" y="0.36"  stroke="#fff" stroke-width="0.055" stroke-linejoin="round">0.929</text>
<polygon points="1600.31,409.12 1676.39,459.39 1700,278.86 1611.68,226.09" fill="#FF00FF" stroke="#FF00FF" stroke-width="0.6"/>
<polygon points="1676.39,459.39 1690.17,444.86 1715.72,263.57 1700,278.86" fill="#9E009E" stroke="#9E009E" stroke-width="0.6"/>
<polygon points="1611.68,226.09 1700,278.86 1715.72,263.57 1627.67,211.66" fill="#C700C7" stroke="#C700C7" stroke-width="0.6"/>
<text transform="matrix(18.9556 11.2506 -14.3179 13.4083 1663.16 244.63)" font-size="1" text-anchor="middle" fill="#fff" font-weight="normal" y="0.36"  stroke="#fff" stroke-width="0.055" stroke-linejoin="round">0.857</text>
<polygon points="1414.87,331.19 1483.37,377.55 1477.68,210.48 1400.31,162.51" fill="#0000FF" stroke="#0000FF" stroke-width="0.6"/>
<polygon points="1483.37,377.55 1497.93,364.16 1494.23,196.6 1477.68,210.48" fill="#00009E" stroke="#00009E" stroke-width="0.6"/>
<polygon points="1400.31,162.51 1477.68,210.48 1494.23,196.6 1417.01,149.38" fill="#0000C7" stroke="#0000C7" stroke-width="0.6"/>
<text transform="matrix(16.6151 10.2303 -15.0200 12.1892 1446.82 179.39)" font-size="1" text-anchor="middle" fill="#fff" font-weight="normal" y="0.36"  stroke="#fff" stroke-width="0.055" stroke-linejoin="round">0.786</text>
<polygon points="1491.19,382.84 1563.51,431.77 1568.27,283.96 1487.02,233.11" fill="#0000FF" stroke="#0000FF" stroke-width="0.6"/>
<polygon points="1563.51,431.77 1577.9,417.63 1584.41,269.24 1568.27,283.96" fill="#00009E" stroke="#00009E" stroke-width="0.6"/>
<polygon points="1487.02,233.11 1568.27,283.96 1584.41,269.24 1503.35,219.19" fill="#0000C7" stroke="#0000C7" stroke-width="0.6"/>
<text transform="matrix(17.4455 10.8436 -14.6646 12.9236 1535.23 251)" font-size="1" text-anchor="middle" fill="#fff" font-weight="normal" y="0.36"  stroke="#fff" stroke-width="0.055" stroke-linejoin="round">0.714</text>
<polygon points="1571.77,437.36 1648.24,489.1 1665.92,327.17 1578.25,272.82" fill="#0000FF" stroke="#0000FF" stroke-width="0.6"/>
<polygon points="1648.24,489.1 1662.42,474.14 1681.97,311.42 1665.92,327.17" fill="#00009E" stroke="#00009E" stroke-width="0.6"/>
<polygon points="1578.25,272.82 1665.92,327.17 1681.97,311.42 1594.56,257.96" fill="#0000C7" stroke="#0000C7" stroke-width="0.6"/>
<text transform="matrix(18.8178 11.5865 -14.6220 13.8111 1629.58 291.92)" font-size="1" text-anchor="middle" fill="#fff" font-weight="normal" y="0.36"  stroke="#fff" stroke-width="0.055" stroke-linejoin="round">0.786</text>
<polygon points="1384.91,357.23 1453.64,404.89 1444.79,255.97 1368.05,206.62" fill="#0000FF" stroke="#0000FF" stroke-width="0.6"/>
<polygon points="1453.64,404.89 1468.61,391.12 1461.66,241.69 1444.79,255.97" fill="#00009E" stroke="#00009E" stroke-width="0.6"/>
<polygon points="1368.05,206.62 1444.79,255.97 1461.66,241.69 1385.05,193.1" fill="#0000C7" stroke="#0000C7" stroke-width="0.6"/>
<text transform="matrix(16.4810 10.5259 -15.2984 12.5437 1414.4 223.99)" font-size="1" text-anchor="middle" fill="#fff" font-weight="normal" y="0.36"  stroke="#fff" stroke-width="0.055" stroke-linejoin="round">0.714</text>
<polygon points="1461.49,410.33 1534.11,460.67 1535.33,297.24 1452.67,244.56" fill="#0000FF" stroke="#0000FF" stroke-width="0.6"/>
<polygon points="1534.11,460.67 1548.92,446.12 1552.21,281.98 1535.33,297.24" fill="#00009E" stroke="#00009E" stroke-width="0.6"/>
<polygon points="1452.67,244.56 1535.33,297.24 1552.21,281.98 1469.74,230.15" fill="#0000C7" stroke="#0000C7" stroke-width="0.6"/>
<text transform="matrix(17.7479 11.2321 -15.3345 13.3873 1501.93 263.08)" font-size="1" text-anchor="middle" fill="#fff" font-weight="normal" y="0.36"  stroke="#fff" stroke-width="0.055" stroke-linejoin="round">0.786</text>
<polygon points="1542.4,466.42 1619.24,519.7 1632.97,359.47 1544.81,303.28" fill="#0000FF" stroke="#0000FF" stroke-width="0.6"/>
<polygon points="1619.24,519.7 1633.85,504.29 1649.59,343.18 1632.97,359.47" fill="#00009E" stroke="#00009E" stroke-width="0.6"/>
<polygon points="1544.81,303.28 1632.97,359.47 1649.59,343.18 1561.66,287.93" fill="#0000C7" stroke="#0000C7" stroke-width="0.6"/>
<text transform="matrix(18.9258 11.9776 -15.1171 14.2788 1596.65 323.02)" font-size="1" text-anchor="middle" fill="#fff" font-weight="normal" y="0.36"  stroke="#fff" stroke-width="0.055" stroke-linejoin="round">0.786</text>
<polygon points="1354.11,384.01 1423.06,433.01 1411.65,301.55 1335.54,250.8" fill="#FBC011" stroke="#FBC011" stroke-width="0.6"/>
<polygon points="1423.06,433.01 1438.46,418.85 1428.84,286.86 1411.65,301.55" fill="#9C770B" stroke="#9C770B" stroke-width="0.6"/>
<polygon points="1335.54,250.8 1411.65,301.55 1428.84,286.86 1352.86,236.89" fill="#C4960D" stroke="#C4960D" stroke-width="0.6"/>
<text transform="matrix(16.3474 10.8258 -15.5830 12.9032 1381.74 268.65)" font-size="1" text-anchor="middle" fill="#fff" font-weight="normal" y="0.36"  stroke="#fff" stroke-width="0.055" stroke-linejoin="round">0.643</text>
<polygon points="1430.93,438.61 1503.83,490.42 1501.34,361.37 1420.37,307.37" fill="#FBC011" stroke="#FBC011" stroke-width="0.6"/>
<polygon points="1503.83,490.42 1519.08,475.44 1518.35,345.73 1501.34,361.37" fill="#9C770B" stroke="#9C770B" stroke-width="0.6"/>
<polygon points="1420.37,307.37 1501.34,361.37 1518.35,345.73 1437.54,292.59" fill="#C4960D" stroke="#C4960D" stroke-width="0.6"/>
<text transform="matrix(17.3879 11.5149 -15.4373 13.7273 1468.86 326.35)" font-size="1" text-anchor="middle" fill="#fff" font-weight="normal" y="0.36"  stroke="#fff" stroke-width="0.055" stroke-linejoin="round">0.643</text>
<polygon points="1512.17,496.35 1589.37,551.22 1596.01,440.72 1510.82,383.44" fill="#9098EC" stroke="#9098EC" stroke-width="0.6"/>
<polygon points="1589.37,551.22 1604.42,535.34 1612.56,424.11 1596.01,440.72" fill="#595E92" stroke="#595E92" stroke-width="0.6"/>
<polygon points="1510.82,383.44 1596.01,440.72 1612.56,424.11 1527.58,367.77" fill="#7077B8" stroke="#7077B8" stroke-width="0.6"/>
<text transform="matrix(18.2896 12.2114 -15.0472 14.5614 1561.17 403.57)" font-size="1" text-anchor="middle" fill="#fff" font-weight="normal" y="0.36"  stroke="#fff" stroke-width="0.055" stroke-linejoin="round">0.571</text>
<polygon points="1322.45,411.54 1391.59,461.95 1378.3,347.68 1302.84,295.5" fill="#9098EC" stroke="#9098EC" stroke-width="0.6"/>
<polygon points="1391.59,461.95 1407.44,447.38 1395.81,332.58 1378.3,347.68" fill="#595E92" stroke="#595E92" stroke-width="0.6"/>
<polygon points="1302.84,295.5 1378.3,347.68 1395.81,332.58 1320.47,281.21" fill="#7077B8" stroke="#7077B8" stroke-width="0.6"/>
<text transform="matrix(16.2088 11.1291 -15.8683 13.2669 1348.87 313.86)" font-size="1" text-anchor="middle" fill="#fff" font-weight="normal" y="0.36"  stroke="#fff" stroke-width="0.055" stroke-linejoin="round">0.571</text>
<polygon points="1399.49,467.71 1472.66,521.06 1467.24,409.19 1386.94,353.66" fill="#9098EC" stroke="#9098EC" stroke-width="0.6"/>
<polygon points="1472.66,521.06 1488.36,505.63 1484.59,393.1 1467.24,409.19" fill="#595E92" stroke="#595E92" stroke-width="0.6"/>
<polygon points="1386.94,353.66 1467.24,409.19 1484.59,393.1 1404.44,338.46" fill="#7077B8" stroke="#7077B8" stroke-width="0.6"/>
<text transform="matrix(17.2442 11.8400 -15.7365 14.1171 1435.27 373.18)" font-size="1" text-anchor="middle" fill="#fff" font-weight="normal" y="0.36"  stroke="#fff" stroke-width="0.055" stroke-linejoin="round">0.571</text>
<polygon points="1481.02,527.16 1558.57,583.71 1562.07,474.76 1476.45,415.56" fill="#9098EC" stroke="#9098EC" stroke-width="0.6"/>
<polygon points="1558.57,583.71 1574.09,567.34 1579.18,457.6 1562.07,474.76" fill="#595E92" stroke="#595E92" stroke-width="0.6"/>
<polygon points="1476.45,415.56 1562.07,474.76 1579.18,457.6 1493.78,399.37" fill="#7077B8" stroke="#7077B8" stroke-width="0.6"/>
<text transform="matrix(18.3821 12.6213 -15.5538 15.0517 1527.28 436.36)" font-size="1" text-anchor="middle" fill="#fff" font-weight="normal" y="0.36"  stroke="#fff" stroke-width="0.055" stroke-linejoin="round">0.571</text>
</g>
<text x="1258.5" y="45.5" font-family='"Liberation Sans", Arial, sans-serif' font-weight="bold" font-size="36.7">c</text></g>
<g><g font-family='"Liberation Sans", Arial, sans-serif'>
<line x1="133.81" y1="1062.1" x2="293.1" y2="881.7" stroke="#DADADA" stroke-width="1.3" stroke-linecap="butt"/>
<line x1="194.97" y1="1095.05" x2="350.1" y2="907.9" stroke="#DADADA" stroke-width="1.3" stroke-linecap="butt"/>
<line x1="258.5" y1="1129.28" x2="409.05" y2="935" stroke="#DADADA" stroke-width="1.3" stroke-linecap="butt"/>
<line x1="324.56" y1="1164.86" x2="470.07" y2="963.05" stroke="#DADADA" stroke-width="1.3" stroke-linecap="butt"/>
<line x1="116.9" y1="1032" x2="370.02" y2="1166.7" stroke="#DADADA" stroke-width="1.3" stroke-linecap="butt"/>
<line x1="141.88" y1="1004.55" x2="392.28" y2="1134.64" stroke="#DADADA" stroke-width="1.3" stroke-linecap="butt"/>
<line x1="166.02" y1="978.02" x2="413.73" y2="1103.73" stroke="#DADADA" stroke-width="1.3" stroke-linecap="butt"/>
<line x1="189.36" y1="952.38" x2="434.43" y2="1073.92" stroke="#DADADA" stroke-width="1.3" stroke-linecap="butt"/>
<line x1="211.95" y1="927.56" x2="454.39" y2="1045.16" stroke="#DADADA" stroke-width="1.3" stroke-linecap="butt"/>
<line x1="233.8" y1="903.54" x2="473.68" y2="1017.38" stroke="#DADADA" stroke-width="1.3" stroke-linecap="butt"/>
<line x1="254.98" y1="880.28" x2="492.31" y2="990.54" stroke="#DADADA" stroke-width="1.3" stroke-linecap="butt"/>
<polyline points="104.08,1046.08 265.31,868.92 501.39,977.45" fill="none" stroke="#919191" stroke-width="1.3" stroke-linejoin="miter" stroke-linecap="square"/>
<polyline points="101.44,1027.66 265.18,850.11 504.72,958.89" fill="none" stroke="#919191" stroke-width="1.3" stroke-linejoin="miter" stroke-linecap="square"/>
<polyline points="98.71,1008.66 265.04,830.77 508.15,939.77" fill="none" stroke="#919191" stroke-width="1.3" stroke-linejoin="miter" stroke-linecap="square"/>
<polyline points="95.9,989.05 264.89,810.89 511.69,920.07" fill="none" stroke="#919191" stroke-width="1.3" stroke-linejoin="miter" stroke-linecap="square"/>
<polyline points="92.99,968.81 264.75,790.44 515.33,899.76" fill="none" stroke="#919191" stroke-width="1.3" stroke-linejoin="miter" stroke-linecap="square"/>
<polyline points="89.99,947.9 264.6,769.39 519.09,878.82" fill="none" stroke="#919191" stroke-width="1.3" stroke-linejoin="miter" stroke-linecap="square"/>
<polyline points="86.89,926.29 264.44,747.72 522.97,857.21" fill="none" stroke="#919191" stroke-width="1.3" stroke-linejoin="miter" stroke-linecap="square"/>
<polyline points="83.68,903.95 264.28,725.4 526.97,834.91" fill="none" stroke="#919191" stroke-width="1.3" stroke-linejoin="miter" stroke-linecap="square"/>
<polyline points="80.36,880.83 264.11,702.4 531.11,811.87" fill="none" stroke="#919191" stroke-width="1.3" stroke-linejoin="miter" stroke-linecap="square"/>
<polyline points="76.93,856.89 263.94,678.69 535.38,788.06" fill="none" stroke="#919191" stroke-width="1.3" stroke-linejoin="miter" stroke-linecap="square"/>
<line x1="116.9" y1="1032" x2="88.78" y2="817.7" stroke="#919191" stroke-width="1.3" stroke-linecap="butt"/>
<line x1="141.88" y1="1004.55" x2="118.67" y2="789.78" stroke="#919191" stroke-width="1.3" stroke-linecap="butt"/>
<line x1="166.02" y1="978.02" x2="147.39" y2="762.95" stroke="#919191" stroke-width="1.3" stroke-linecap="butt"/>
<line x1="189.36" y1="952.38" x2="175" y2="737.16" stroke="#919191" stroke-width="1.3" stroke-linecap="butt"/>
<line x1="211.95" y1="927.56" x2="201.56" y2="712.35" stroke="#919191" stroke-width="1.3" stroke-linecap="butt"/>
<line x1="233.8" y1="903.54" x2="227.14" y2="688.46" stroke="#919191" stroke-width="1.3" stroke-linecap="butt"/>
<line x1="254.98" y1="880.28" x2="251.78" y2="665.44" stroke="#919191" stroke-width="1.3" stroke-linecap="butt"/>
<line x1="293.1" y1="881.7" x2="295.94" y2="666.97" stroke="#919191" stroke-width="1.3" stroke-linecap="butt"/>
<line x1="350.1" y1="907.9" x2="362.19" y2="693.18" stroke="#919191" stroke-width="1.3" stroke-linecap="butt"/>
<line x1="409.05" y1="935" x2="431.1" y2="720.44" stroke="#919191" stroke-width="1.3" stroke-linecap="butt"/>
<line x1="470.07" y1="963.05" x2="502.82" y2="748.82" stroke="#919191" stroke-width="1.3" stroke-linecap="butt"/>
<line x1="265.31" y1="868.92" x2="263.77" y2="654.24" stroke="#919191" stroke-width="1.3" stroke-linecap="butt"/>
<polyline points="73.37,832.1 263.77,654.24 539.79,763.45 501.39,977.45" fill="none" stroke="#000" stroke-width="2.34" stroke-linejoin="miter" stroke-linecap="square"/>
<polyline points="73.37,832.1 104.08,1046.08 358.58,1183.19 501.39,977.45" fill="none" stroke="#000" stroke-width="3.0" stroke-linejoin="miter" stroke-linecap="square"/>
<line x1="133.81" y1="1062.1" x2="128.6" y2="1068" stroke="#000" stroke-width="2.6" stroke-linecap="butt"/>
<line x1="194.97" y1="1095.05" x2="189.88" y2="1101.18" stroke="#000" stroke-width="2.6" stroke-linecap="butt"/>
<line x1="258.5" y1="1129.28" x2="253.56" y2="1135.66" stroke="#000" stroke-width="2.6" stroke-linecap="butt"/>
<line x1="324.56" y1="1164.86" x2="319.76" y2="1171.51" stroke="#000" stroke-width="2.6" stroke-linecap="butt"/>
<line x1="370.02" y1="1166.7" x2="377.96" y2="1170.93" stroke="#000" stroke-width="2.6" stroke-linecap="butt"/>
<line x1="392.28" y1="1134.64" x2="400.13" y2="1138.71" stroke="#000" stroke-width="2.6" stroke-linecap="butt"/>
<line x1="413.73" y1="1103.73" x2="421.48" y2="1107.66" stroke="#000" stroke-width="2.6" stroke-linecap="butt"/>
<line x1="434.43" y1="1073.92" x2="442.08" y2="1077.72" stroke="#000" stroke-width="2.6" stroke-linecap="butt"/>
<line x1="454.39" y1="1045.16" x2="461.96" y2="1048.83" stroke="#000" stroke-width="2.6" stroke-linecap="butt"/>
<line x1="473.68" y1="1017.38" x2="481.15" y2="1020.92" stroke="#000" stroke-width="2.6" stroke-linecap="butt"/>
<line x1="492.31" y1="990.54" x2="499.7" y2="993.97" stroke="#000" stroke-width="2.6" stroke-linecap="butt"/>
<line x1="104.08" y1="1046.08" x2="99.63" y2="1050.97" stroke="#000" stroke-width="2.6" stroke-linecap="butt"/>
<line x1="101.44" y1="1027.66" x2="96.91" y2="1032.57" stroke="#000" stroke-width="2.6" stroke-linecap="butt"/>
<line x1="98.71" y1="1008.66" x2="94.11" y2="1013.58" stroke="#000" stroke-width="2.6" stroke-linecap="butt"/>
<line x1="95.9" y1="989.05" x2="91.21" y2="994" stroke="#000" stroke-width="2.6" stroke-linecap="butt"/>
<line x1="92.99" y1="968.81" x2="88.22" y2="973.77" stroke="#000" stroke-width="2.6" stroke-linecap="butt"/>
<line x1="89.99" y1="947.9" x2="85.13" y2="952.87" stroke="#000" stroke-width="2.6" stroke-linecap="butt"/>
<line x1="86.89" y1="926.29" x2="81.93" y2="931.28" stroke="#000" stroke-width="2.6" stroke-linecap="butt"/>
<line x1="83.68" y1="903.95" x2="78.63" y2="908.94" stroke="#000" stroke-width="2.6" stroke-linecap="butt"/>
<line x1="80.36" y1="880.83" x2="75.21" y2="885.83" stroke="#000" stroke-width="2.6" stroke-linecap="butt"/>
<line x1="76.93" y1="856.89" x2="71.68" y2="861.9" stroke="#000" stroke-width="2.6" stroke-linecap="butt"/>
<line x1="73.37" y1="832.1" x2="68.01" y2="837.11" stroke="#000" stroke-width="2.6" stroke-linecap="butt"/>
<text transform="matrix(10.5785 -11.9802 14.0817 7.6396 126.61 1070.25)" font-size="1" text-anchor="end" fill="#000" font-weight="bold" y="0.36" >poly</text>
<text transform="matrix(10.3256 -12.4569 14.6264 7.9351 187.94 1103.52)" font-size="1" text-anchor="end" fill="#000" font-weight="bold" y="0.36" >linear</text>
<text transform="matrix(10.0446 -12.9621 15.2034 8.2481 251.67 1138.09)" font-size="1" text-anchor="end" fill="#000" font-weight="bold" y="0.36" >rbf</text>
<text transform="matrix(9.7328 -13.4980 15.8152 8.5801 317.94 1174.05)" font-size="1" text-anchor="end" fill="#000" font-weight="bold" y="0.36" >sigmoid</text>
<text transform="matrix(16.0891 8.5623 -9.2285 13.4697 381.53 1172.83)" font-size="1" text-anchor="start" fill="#000" font-weight="bold" y="0.36" >0.1</text>
<text transform="matrix(15.8926 8.2565 -8.8904 12.9762 403.65 1140.54)" font-size="1" text-anchor="start" fill="#000" font-weight="bold" y="0.36" >1</text>
<text transform="matrix(15.6997 7.9670 -8.5706 12.5093 424.97 1109.43)" font-size="1" text-anchor="start" fill="#000" font-weight="bold" y="0.36" >1.5</text>
<text transform="matrix(15.5104 7.6928 -8.2677 12.0672 445.53 1079.43)" font-size="1" text-anchor="start" fill="#000" font-weight="bold" y="0.36" >2</text>
<text transform="matrix(15.3245 7.4327 -7.9805 11.6481 465.36 1050.48)" font-size="1" text-anchor="start" fill="#000" font-weight="bold" y="0.36" >2.5</text>
<text transform="matrix(15.1422 7.1858 -7.7081 11.2505 484.52 1022.52)" font-size="1" text-anchor="start" fill="#000" font-weight="bold" y="0.36" >5</text>
<text transform="matrix(14.9633 6.9512 -7.4494 10.8729 503.02 995.51)" font-size="1" text-anchor="start" fill="#000" font-weight="bold" y="0.36" >10</text>
<text transform="matrix(10.5934 -11.6399 1.5751 10.5052 97.54 1053.27)" font-size="1" text-anchor="end" fill="#000" font-weight="normal" y="0.36"  stroke="#000" stroke-width="0.06" stroke-linejoin="round">0.0</text>
<text transform="matrix(10.7779 -11.6870 1.6244 10.8339 94.78 1034.88)" font-size="1" text-anchor="end" fill="#000" font-weight="normal" y="0.36"  stroke="#000" stroke-width="0.06" stroke-linejoin="round">0.1</text>
<text transform="matrix(10.9689 -11.7312 1.6760 11.1783 91.93 1015.91)" font-size="1" text-anchor="end" fill="#000" font-weight="normal" y="0.36"  stroke="#000" stroke-width="0.06" stroke-linejoin="round">0.2</text>
<text transform="matrix(11.1666 -11.7723 1.7301 11.5394 89 996.33)" font-size="1" text-anchor="end" fill="#000" font-weight="normal" y="0.36"  stroke="#000" stroke-width="0.06" stroke-linejoin="round">0.3</text>
<text transform="matrix(11.3715 -11.8098 1.7869 11.9182 85.97 976.11)" font-size="1" text-anchor="end" fill="#000" font-weight="normal" y="0.36"  stroke="#000" stroke-width="0.06" stroke-linejoin="round">0.4</text>
<text transform="matrix(11.5840 -11.8435 1.8466 12.3160 82.83 955.22)" font-size="1" text-anchor="end" fill="#000" font-weight="normal" y="0.36"  stroke="#000" stroke-width="0.06" stroke-linejoin="round">0.5</text>
<text transform="matrix(11.8045 -11.8727 1.9093 12.7341 79.6 933.63)" font-size="1" text-anchor="end" fill="#000" font-weight="normal" y="0.36"  stroke="#000" stroke-width="0.06" stroke-linejoin="round">0.6</text>
<text transform="matrix(12.0334 -11.8970 1.9752 13.1738 76.25 911.3)" font-size="1" text-anchor="end" fill="#000" font-weight="normal" y="0.36"  stroke="#000" stroke-width="0.06" stroke-linejoin="round">0.7</text>
<text transform="matrix(12.2712 -11.9158 2.0446 13.6367 72.78 888.19)" font-size="1" text-anchor="end" fill="#000" font-weight="normal" y="0.36"  stroke="#000" stroke-width="0.06" stroke-linejoin="round">0.8</text>
<text transform="matrix(12.5185 -11.9284 2.1177 14.1244 69.2 864.26)" font-size="1" text-anchor="end" fill="#000" font-weight="normal" y="0.36"  stroke="#000" stroke-width="0.06" stroke-linejoin="round">0.9</text>
<text transform="matrix(12.7758 -11.9342 2.1948 14.6388 65.48 839.47)" font-size="1" text-anchor="end" fill="#000" font-weight="normal" y="0.36"  stroke="#000" stroke-width="0.06" stroke-linejoin="round">1.0</text>
<text transform="matrix(17.4680 9.9850 -12.5867 15.7141 167.9 1187)" font-size="1" text-anchor="middle" fill="#000" font-weight="bold" y="0.36" >kernel</text>
<text transform="matrix(9.2195 -14.0739 18.1217 8.9676 485 1095)" font-size="1" text-anchor="middle" fill="#000" font-weight="bold" y="0.36" >C</text>
<text transform="matrix(2.5724 14.3877 -13.8367 14.0907 50.6 982)" font-size="1" text-anchor="middle" fill="#000" font-weight="normal" y="0.36"  stroke="#000" stroke-width="0.045" stroke-linejoin="round">Validation Accuracy</text>
</g>
<g font-family='"Liberation Sans", Arial, sans-serif' font-style="normal">
<polygon points="252.52,887.33 303.34,911.06 307.25,726.76 249.43,702.94" fill="#FF00FF" stroke="#FF00FF" stroke-width="0.6"/>
<polygon points="303.34,911.06 313.5,899.23 318.77,714.97 307.25,726.76" fill="#9E009E" stroke="#9E009E" stroke-width="0.6"/>
<polygon points="249.43,702.94 307.25,726.76 318.77,714.97 261.27,691.57" fill="#C700C7" stroke="#C700C7" stroke-width="0.6"/>
<text transform="matrix(17.9363 7.3453 -11.4505 11.3472 283.96 708.93)" font-size="1" text-anchor="middle" fill="#fff" font-weight="normal" y="0.36"  stroke="#fff" stroke-width="0.055" stroke-linejoin="round">0.875</text>
<polygon points="309.08,913.74 361.65,938.29 375.93,723.58 314.58,698.86" fill="#7A1FBD" stroke="#7A1FBD" stroke-width="0.6"/>
<polygon points="361.65,938.29 371.51,926.03 387.27,711.35 375.93,723.58" fill="#4C1375" stroke="#4C1375" stroke-width="0.6"/>
<polygon points="314.58,698.86 375.93,723.58 387.27,711.35 326.29,687.07" fill="#5F1893" stroke="#5F1893" stroke-width="0.6"/>
<text transform="matrix(19.0286 7.6192 -11.2959 11.7679 350.77 705.08)" font-size="1" text-anchor="middle" fill="#fff" font-weight="normal" y="0.36"  stroke="#fff" stroke-width="0.055" stroke-linejoin="round">1.000</text>
<polygon points="367.59,941.06 422.01,966.48 443.22,782.78 380.7,757.02" fill="#FF00FF" stroke="#FF00FF" stroke-width="0.6"/>
<polygon points="422.01,966.48 431.54,953.78 453.92,769.99 443.22,782.78" fill="#9E009E" stroke="#9E009E" stroke-width="0.6"/>
<polygon points="380.7,757.02 443.22,782.78 453.92,769.99 391.79,744.7" fill="#C700C7" stroke="#C700C7" stroke-width="0.6"/>
<text transform="matrix(19.3872 7.9395 -10.6791 12.2990 417.16 763.48)" font-size="1" text-anchor="middle" fill="#fff" font-weight="normal" y="0.36"  stroke="#fff" stroke-width="0.055" stroke-linejoin="round">0.875</text>
<polygon points="428.16,969.35 484.53,995.67 496.73,923.27 436.93,896.66" fill="#38C9A0" stroke="#38C9A0" stroke-width="0.6"/>
<polygon points="484.53,995.67 493.7,982.5 506.33,909.99 496.73,923.27" fill="#237D63" stroke="#237D63" stroke-width="0.6"/>
<polygon points="436.93,896.66 496.73,923.27 506.33,909.99 446.89,883.82" fill="#2C9D7D" stroke="#2C9D7D" stroke-width="0.6"/>
<text transform="matrix(18.5465 8.2101 -9.5886 12.7972 471.49 903.29)" font-size="1" text-anchor="middle" fill="#fff" font-weight="normal" y="0.36"  stroke="#fff" stroke-width="0.055" stroke-linejoin="round">0.375</text>
<polygon points="231.21,910.81 282.52,935.3 283.4,780.46 226.07,755.76" fill="#2F3CE1" stroke="#2F3CE1" stroke-width="0.6"/>
<polygon points="282.52,935.3 293.01,923.08 295.12,768.2 283.4,780.46" fill="#1D258C" stroke="#1D258C" stroke-width="0.6"/>
<polygon points="226.07,755.76 283.4,780.46 295.12,768.2 238.1,743.93" fill="#252FB0" stroke="#252FB0" stroke-width="0.6"/>
<text transform="matrix(17.7837 7.6169 -11.6408 11.7984 260.45 761.95)" font-size="1" text-anchor="middle" fill="#fff" font-weight="normal" y="0.36"  stroke="#fff" stroke-width="0.055" stroke-linejoin="round">0.750</text>
<polygon points="288.32,938.06 341.44,963.41 352.6,748.76 290.5,723.12" fill="#7A1FBD" stroke="#7A1FBD" stroke-width="0.6"/>
<polygon points="341.44,963.41 351.63,950.74 364.38,736.05 352.6,748.76" fill="#4C1375" stroke="#4C1375" stroke-width="0.6"/>
<polygon points="290.5,723.12 352.6,748.76 364.38,736.05 302.65,710.88" fill="#5F1893" stroke="#5F1893" stroke-width="0.6"/>
<text transform="matrix(19.2599 7.9037 -11.7325 12.2228 327.28 729.55)" font-size="1" text-anchor="middle" fill="#fff" font-weight="normal" y="0.36"  stroke="#fff" stroke-width="0.055" stroke-linejoin="round">1.000</text>
<polygon points="347.44,966.27 402.46,992.52 421.2,809.09 357.89,782.37" fill="#FF00FF" stroke="#FF00FF" stroke-width="0.6"/>
<polygon points="402.46,992.52 412.32,979.39 432.32,795.81 421.2,809.09" fill="#9E009E" stroke="#9E009E" stroke-width="0.6"/>
<polygon points="357.89,782.37 421.2,809.09 432.32,795.81 369.41,769.58" fill="#C700C7" stroke="#C700C7" stroke-width="0.6"/>
<text transform="matrix(19.6325 8.2362 -11.0918 12.7742 394.94 789.06)" font-size="1" text-anchor="middle" fill="#fff" font-weight="normal" y="0.36"  stroke="#fff" stroke-width="0.055" stroke-linejoin="round">0.875</text>
<polygon points="408.68,995.49 465.7,1022.69 481.07,924.6 419.27,896.94" fill="#9098EC" stroke="#9098EC" stroke-width="0.6"/>
<polygon points="465.7,1022.69 475.19,1009.07 491.19,910.79 481.07,924.6" fill="#595E92" stroke="#595E92" stroke-width="0.6"/>
<polygon points="419.27,896.94 481.07,924.6 491.19,910.79 429.77,883.62" fill="#7077B8" stroke="#7077B8" stroke-width="0.6"/>
<text transform="matrix(19.1672 8.5272 -10.1033 13.2918 455.08 903.84)" font-size="1" text-anchor="middle" fill="#fff" font-weight="normal" y="0.36"  stroke="#fff" stroke-width="0.055" stroke-linejoin="round">0.500</text>
<polygon points="209.2,935.07 261.02,960.34 259.62,833.98 202.79,808.41" fill="#FBC011" stroke="#FBC011" stroke-width="0.6"/>
<polygon points="261.02,960.34 271.86,947.72 271.53,821.26 259.62,833.98" fill="#9C770B" stroke="#9C770B" stroke-width="0.6"/>
<polygon points="202.79,808.41 259.62,833.98 271.53,821.26 215.01,796.13" fill="#C4960D" stroke="#C4960D" stroke-width="0.6"/>
<text transform="matrix(17.6320 7.8868 -11.8300 12.2469 237.02 814.81)" font-size="1" text-anchor="middle" fill="#fff" font-weight="normal" y="0.36"  stroke="#fff" stroke-width="0.055" stroke-linejoin="round">0.625</text>
<polygon points="266.88,963.2 320.54,989.38 328.33,774.94 265.48,748.31" fill="#7A1FBD" stroke="#7A1FBD" stroke-width="0.6"/>
<polygon points="320.54,989.38 331.08,976.28 340.58,761.72 328.33,774.94" fill="#4C1375" stroke="#4C1375" stroke-width="0.6"/>
<polygon points="265.48,748.31 328.33,774.94 340.58,761.72 278.11,735.59" fill="#5F1893" stroke="#5F1893" stroke-width="0.6"/>
<text transform="matrix(19.4950 8.2048 -12.1951 12.7047 302.86 754.99)" font-size="1" text-anchor="middle" fill="#fff" font-weight="normal" y="0.36"  stroke="#fff" stroke-width="0.055" stroke-linejoin="round">1.000</text>
<polygon points="326.61,992.34 382.23,1019.46 398.31,836.45 334.2,808.7" fill="#FF00FF" stroke="#FF00FF" stroke-width="0.6"/>
<polygon points="382.23,1019.46 392.43,1005.88 409.87,822.64 398.31,836.45" fill="#9E009E" stroke="#9E009E" stroke-width="0.6"/>
<polygon points="334.2,808.7 398.31,836.45 409.87,822.64 346.16,795.41" fill="#C700C7" stroke="#C700C7" stroke-width="0.6"/>
<text transform="matrix(19.8824 8.5502 -11.5288 13.2775 371.87 815.64)" font-size="1" text-anchor="middle" fill="#fff" font-weight="normal" y="0.36"  stroke="#fff" stroke-width="0.055" stroke-linejoin="round">0.875</text>
<polygon points="388.53,1022.53 446.21,1050.66 464.16,926.03 400.21,897.25" fill="#FBC011" stroke="#FBC011" stroke-width="0.6"/>
<polygon points="446.21,1050.66 456.04,1036.56 474.84,911.65 464.16,926.03" fill="#9C770B" stroke="#9C770B" stroke-width="0.6"/>
<polygon points="400.21,897.25 464.16,926.03 474.84,911.65 411.3,883.4" fill="#C4960D" stroke="#C4960D" stroke-width="0.6"/>
<text transform="matrix(19.8300 8.8699 -10.6711 13.8263 437.36 904.42)" font-size="1" text-anchor="middle" fill="#fff" font-weight="normal" y="0.36"  stroke="#fff" stroke-width="0.055" stroke-linejoin="round">0.625</text>
<polygon points="186.46,960.13 238.79,986.24 235.12,860.13 177.68,833.64" fill="#FBC011" stroke="#FBC011" stroke-width="0.6"/>
<polygon points="238.79,986.24 249.99,973.18 247.48,846.94 235.12,860.13" fill="#9C770B" stroke="#9C770B" stroke-width="0.6"/>
<polygon points="177.68,833.64 235.12,860.13 247.48,846.94 190.35,820.91" fill="#C4960D" stroke="#C4960D" stroke-width="0.6"/>
<text transform="matrix(17.8221 8.1694 -12.2678 12.7001 212.43 840.26)" font-size="1" text-anchor="middle" fill="#fff" font-weight="normal" y="0.36"  stroke="#fff" stroke-width="0.055" stroke-linejoin="round">0.625</text>
<polygon points="244.7,989.19 298.93,1016.24 303.09,802.17 239.46,774.51" fill="#7A1FBD" stroke="#7A1FBD" stroke-width="0.6"/>
<polygon points="298.93,1016.24 309.83,1002.69 315.84,788.42 303.09,802.17" fill="#4C1375" stroke="#4C1375" stroke-width="0.6"/>
<polygon points="239.46,774.51 303.09,802.17 315.84,788.42 252.6,761.28" fill="#5F1893" stroke="#5F1893" stroke-width="0.6"/>
<text transform="matrix(19.7337 8.5238 -12.6855 13.2156 277.48 781.43)" font-size="1" text-anchor="middle" fill="#fff" font-weight="normal" y="0.36"  stroke="#fff" stroke-width="0.055" stroke-linejoin="round">1.000</text>
<polygon points="305.07,1019.3 361.3,1047.35 374.5,864.91 309.56,836.08" fill="#FF00FF" stroke="#FF00FF" stroke-width="0.6"/>
<polygon points="361.3,1047.35 371.86,1033.28 386.52,850.54 374.5,864.91" fill="#9E009E" stroke="#9E009E" stroke-width="0.6"/>
<polygon points="309.56,836.08 374.5,864.91 386.52,850.54 322,822.26" fill="#C700C7" stroke="#C700C7" stroke-width="0.6"/>
<text transform="matrix(20.1368 8.8829 -11.9921 13.8112 347.87 843.28)" font-size="1" text-anchor="middle" fill="#fff" font-weight="normal" y="0.36"  stroke="#fff" stroke-width="0.055" stroke-linejoin="round">0.875</text>
<polygon points="367.67,1050.52 426.02,1079.63 442.17,955.64 377.38,925.75" fill="#FBC011" stroke="#FBC011" stroke-width="0.6"/>
<polygon points="426.02,1079.63 436.2,1065.02 453.27,940.69 442.17,955.64" fill="#9C770B" stroke="#9C770B" stroke-width="0.6"/>
<polygon points="377.38,925.75 442.17,955.64 453.27,940.69 388.91,911.37" fill="#C4960D" stroke="#C4960D" stroke-width="0.6"/>
<text transform="matrix(20.0882 9.2082 -11.0906 14.3698 415.16 933.19)" font-size="1" text-anchor="middle" fill="#fff" font-weight="normal" y="0.36"  stroke="#fff" stroke-width="0.055" stroke-linejoin="round">0.625</text>
<polygon points="162.95,986.04 215.79,1013.02 209.69,887.28 151.63,859.81" fill="#FBC011" stroke="#FBC011" stroke-width="0.6"/>
<polygon points="215.79,1013.02 227.39,999.51 222.53,873.58 209.69,887.28" fill="#9C770B" stroke="#9C770B" stroke-width="0.6"/>
<polygon points="151.63,859.81 209.69,887.28 222.53,873.58 164.77,846.6" fill="#C4960D" stroke="#C4960D" stroke-width="0.6"/>
<text transform="matrix(18.0141 8.4678 -12.7303 13.1790 186.93 866.66)" font-size="1" text-anchor="middle" fill="#fff" font-weight="normal" y="0.36"  stroke="#fff" stroke-width="0.055" stroke-linejoin="round">0.625</text>
<polygon points="221.77,1016.07 276.56,1044.04 276.81,830.53 212.4,801.76" fill="#7A1FBD" stroke="#7A1FBD" stroke-width="0.6"/>
<polygon points="276.56,1044.04 287.85,1030.02 290.09,816.21 276.81,830.53" fill="#4C1375" stroke="#4C1375" stroke-width="0.6"/>
<polygon points="212.4,801.76 276.81,830.53 290.09,816.21 226.07,788" fill="#5F1893" stroke="#5F1893" stroke-width="0.6"/>
<text transform="matrix(19.9759 8.8622 -13.2061 13.7579 251.07 808.95)" font-size="1" text-anchor="middle" fill="#fff" font-weight="normal" y="0.36"  stroke="#fff" stroke-width="0.055" stroke-linejoin="round">1.000</text>
<polygon points="282.77,1047.2 339.62,1076.22 349.7,894.55 283.93,864.56" fill="#FF00FF" stroke="#FF00FF" stroke-width="0.6"/>
<polygon points="339.62,1076.22 350.56,1061.66 362.23,879.58 349.7,894.55" fill="#9E009E" stroke="#9E009E" stroke-width="0.6"/>
<polygon points="283.93,864.56 349.7,894.55 362.23,879.58 296.87,850.18" fill="#C700C7" stroke="#C700C7" stroke-width="0.6"/>
<text transform="matrix(20.3957 9.2359 -12.4840 14.3777 322.9 872.04)" font-size="1" text-anchor="middle" fill="#fff" font-weight="normal" y="0.36"  stroke="#fff" stroke-width="0.055" stroke-linejoin="round">0.875</text>
<polygon points="346.06,1079.51 405.1,1109.65 419.29,986.43 353.66,955.38" fill="#FBC011" stroke="#FBC011" stroke-width="0.6"/>
<polygon points="405.1,1109.65 415.66,1094.5 430.84,970.88 419.29,986.43" fill="#9C770B" stroke="#9C770B" stroke-width="0.6"/>
<polygon points="353.66,955.38 419.29,986.43 430.84,970.88 365.64,940.42" fill="#C4960D" stroke="#C4960D" stroke-width="0.6"/>
<text transform="matrix(20.3515 9.5666 -11.5354 14.9461 392.08 963.1)" font-size="1" text-anchor="middle" fill="#fff" font-weight="normal" y="0.36"  stroke="#fff" stroke-width="0.055" stroke-linejoin="round">0.625</text>
<polygon points="138.63,1012.84 191.99,1040.73 183.29,915.47 124.6,886.97" fill="#FBC011" stroke="#FBC011" stroke-width="0.6"/>
<polygon points="191.99,1040.73 203.99,1026.75 196.62,901.24 183.29,915.47" fill="#9C770B" stroke="#9C770B" stroke-width="0.6"/>
<polygon points="124.6,886.97 183.29,915.47 196.62,901.24 138.24,873.26" fill="#C4960D" stroke="#C4960D" stroke-width="0.6"/>
<text transform="matrix(18.2080 8.7833 -13.2196 13.6855 160.46 894.07)" font-size="1" text-anchor="middle" fill="#fff" font-weight="normal" y="0.36"  stroke="#fff" stroke-width="0.055" stroke-linejoin="round">0.625</text>
<polygon points="198.03,1043.89 253.4,1072.83 249.42,860.08 184.22,830.14" fill="#7A1FBD" stroke="#7A1FBD" stroke-width="0.6"/>
<polygon points="253.4,1072.83 265.08,1058.3 263.26,845.15 249.42,860.08" fill="#4C1375" stroke="#4C1375" stroke-width="0.6"/>
<polygon points="184.22,830.14 249.42,860.08 263.26,845.15 198.46,815.8" fill="#5F1893" stroke="#5F1893" stroke-width="0.6"/>
<text transform="matrix(20.2214 9.2217 -13.7594 14.3344 223.56 837.61)" font-size="1" text-anchor="middle" fill="#fff" font-weight="normal" y="0.36"  stroke="#fff" stroke-width="0.055" stroke-linejoin="round">1.000</text>
<polygon points="259.67,1076.1 317.16,1106.15 323.86,925.43 257.24,894.22" fill="#FF00FF" stroke="#FF00FF" stroke-width="0.6"/>
<polygon points="317.16,1106.15 328.49,1091.05 336.92,909.83 323.86,925.43" fill="#9E009E" stroke="#9E009E" stroke-width="0.6"/>
<polygon points="257.24,894.22 323.86,925.43 336.92,909.83 270.72,879.24" fill="#C700C7" stroke="#C700C7" stroke-width="0.6"/>
<text transform="matrix(20.6590 9.6108 -13.0067 14.9797 296.89 901.99)" font-size="1" text-anchor="middle" fill="#fff" font-weight="normal" y="0.36"  stroke="#fff" stroke-width="0.055" stroke-linejoin="round">0.875</text>
<polygon points="323.67,1109.55 383.41,1140.77 395.47,1018.5 328.97,986.21" fill="#FBC011" stroke="#FBC011" stroke-width="0.6"/>
<polygon points="383.41,1140.77 394.36,1125.07 407.5,1002.3 395.47,1018.5" fill="#9C770B" stroke="#9C770B" stroke-width="0.6"/>
<polygon points="328.97,986.21 395.47,1018.5 407.5,1002.3 341.44,970.64" fill="#C4960D" stroke="#C4960D" stroke-width="0.6"/>
<text transform="matrix(20.6199 9.9467 -12.0074 15.5577 368.06 994.22)" font-size="1" text-anchor="middle" fill="#fff" font-weight="normal" y="0.36"  stroke="#fff" stroke-width="0.055" stroke-linejoin="round">0.625</text>
<polygon points="113.46,1040.58 167.35,1069.44 158.34,971.78 100.19,942.32" fill="#9098EC" stroke="#9098EC" stroke-width="0.6"/>
<polygon points="167.35,1069.44 179.78,1054.96 171.88,957.04 158.34,971.78" fill="#595E92" stroke="#595E92" stroke-width="0.6"/>
<polygon points="100.19,942.32 158.34,971.78 171.88,957.04 114.04,928.11" fill="#7077B8" stroke="#7077B8" stroke-width="0.6"/>
<text transform="matrix(18.0408 9.0815 -13.4273 14.1811 135.88 949.65)" font-size="1" text-anchor="middle" fill="#fff" font-weight="normal" y="0.36"  stroke="#fff" stroke-width="0.055" stroke-linejoin="round">0.500</text>
<polygon points="173.45,1072.7 229.4,1102.66 222.09,921.59 157.54,890.5" fill="#FF00FF" stroke="#FF00FF" stroke-width="0.6"/>
<polygon points="229.4,1102.66 241.51,1087.61 236.19,906.05 222.09,921.59" fill="#9E009E" stroke="#9E009E" stroke-width="0.6"/>
<polygon points="157.54,890.5 222.09,921.59 236.19,906.05 172.02,875.57" fill="#C700C7" stroke="#C700C7" stroke-width="0.6"/>
<text transform="matrix(20.0217 9.5767 -14.0080 14.9243 196.68 898.24)" font-size="1" text-anchor="middle" fill="#fff" font-weight="normal" y="0.36"  stroke="#fff" stroke-width="0.055" stroke-linejoin="round">0.875</text>
<polygon points="235.73,1106.05 293.87,1137.18 295.49,1041.29 232.36,1009.29" fill="#9098EC" stroke="#9098EC" stroke-width="0.6"/>
<polygon points="293.87,1137.18 305.62,1121.52 308.25,1025.23 295.49,1041.29" fill="#595E92" stroke="#595E92" stroke-width="0.6"/>
<polygon points="232.36,1009.29 295.49,1041.29 308.25,1025.23 245.49,993.85" fill="#7077B8" stroke="#7077B8" stroke-width="0.6"/>
<text transform="matrix(19.5811 9.8569 -12.6864 15.4297 270.13 1017.23)" font-size="1" text-anchor="middle" fill="#fff" font-weight="normal" y="0.36"  stroke="#fff" stroke-width="0.055" stroke-linejoin="round">0.500</text>
<polygon points="300.45,1140.71 360.9,1173.08 368.53,1078.3 302.66,1044.92" fill="#9098EC" stroke="#9098EC" stroke-width="0.6"/>
<polygon points="360.9,1173.08 372.26,1156.77 380.81,1061.52 368.53,1078.3" fill="#595E92" stroke="#595E92" stroke-width="0.6"/>
<polygon points="302.66,1044.92 368.53,1078.3 380.81,1061.52 315.36,1028.79" fill="#7077B8" stroke="#7077B8" stroke-width="0.6"/>
<text transform="matrix(20.4264 10.2824 -12.2496 16.1154 341.56 1053.18)" font-size="1" text-anchor="middle" fill="#fff" font-weight="normal" y="0.36"  stroke="#fff" stroke-width="0.055" stroke-linejoin="round">0.500</text>
</g>
<text x="31.6" y="692" font-family='"Liberation Sans", Arial, sans-serif' font-weight="bold" font-size="36.7">d</text></g>
<g><g font-family='"Liberation Sans", Arial, sans-serif'>
<line x1="739.61" y1="1061.5" x2="898.9" y2="881.1" stroke="#DADADA" stroke-width="1.3" stroke-linecap="butt"/>
<line x1="800.77" y1="1094.45" x2="955.9" y2="907.3" stroke="#DADADA" stroke-width="1.3" stroke-linecap="butt"/>
<line x1="864.3" y1="1128.68" x2="1014.85" y2="934.4" stroke="#DADADA" stroke-width="1.3" stroke-linecap="butt"/>
<line x1="930.36" y1="1164.26" x2="1075.87" y2="962.45" stroke="#DADADA" stroke-width="1.3" stroke-linecap="butt"/>
<line x1="722.7" y1="1031.4" x2="975.82" y2="1166.1" stroke="#DADADA" stroke-width="1.3" stroke-linecap="butt"/>
<line x1="747.68" y1="1003.95" x2="998.08" y2="1134.04" stroke="#DADADA" stroke-width="1.3" stroke-linecap="butt"/>
<line x1="771.82" y1="977.42" x2="1019.53" y2="1103.13" stroke="#DADADA" stroke-width="1.3" stroke-linecap="butt"/>
<line x1="795.16" y1="951.78" x2="1040.23" y2="1073.32" stroke="#DADADA" stroke-width="1.3" stroke-linecap="butt"/>
<line x1="817.75" y1="926.96" x2="1060.19" y2="1044.56" stroke="#DADADA" stroke-width="1.3" stroke-linecap="butt"/>
<line x1="839.6" y1="902.94" x2="1079.48" y2="1016.78" stroke="#DADADA" stroke-width="1.3" stroke-linecap="butt"/>
<line x1="860.78" y1="879.68" x2="1098.11" y2="989.94" stroke="#DADADA" stroke-width="1.3" stroke-linecap="butt"/>
<polyline points="709.88,1045.48 871.11,868.32 1107.19,976.85" fill="none" stroke="#919191" stroke-width="1.3" stroke-linejoin="miter" stroke-linecap="square"/>
<polyline points="707.24,1027.06 870.98,849.51 1110.52,958.29" fill="none" stroke="#919191" stroke-width="1.3" stroke-linejoin="miter" stroke-linecap="square"/>
<polyline points="704.51,1008.06 870.84,830.17 1113.95,939.17" fill="none" stroke="#919191" stroke-width="1.3" stroke-linejoin="miter" stroke-linecap="square"/>
<polyline points="701.7,988.45 870.69,810.29 1117.49,919.47" fill="none" stroke="#919191" stroke-width="1.3" stroke-linejoin="miter" stroke-linecap="square"/>
<polyline points="698.79,968.21 870.55,789.84 1121.13,899.16" fill="none" stroke="#919191" stroke-width="1.3" stroke-linejoin="miter" stroke-linecap="square"/>
<polyline points="695.79,947.3 870.4,768.79 1124.89,878.22" fill="none" stroke="#919191" stroke-width="1.3" stroke-linejoin="miter" stroke-linecap="square"/>
<polyline points="692.69,925.69 870.24,747.12 1128.77,856.61" fill="none" stroke="#919191" stroke-width="1.3" stroke-linejoin="miter" stroke-linecap="square"/>
<polyline points="689.48,903.35 870.08,724.8 1132.77,834.31" fill="none" stroke="#919191" stroke-width="1.3" stroke-linejoin="miter" stroke-linecap="square"/>
<polyline points="686.16,880.23 869.91,701.8 1136.91,811.27" fill="none" stroke="#919191" stroke-width="1.3" stroke-linejoin="miter" stroke-linecap="square"/>
<polyline points="682.73,856.29 869.74,678.09 1141.18,787.46" fill="none" stroke="#919191" stroke-width="1.3" stroke-linejoin="miter" stroke-linecap="square"/>
<line x1="722.7" y1="1031.4" x2="694.58" y2="817.1" stroke="#919191" stroke-width="1.3" stroke-linecap="butt"/>
<line x1="747.68" y1="1003.95" x2="724.47" y2="789.18" stroke="#919191" stroke-width="1.3" stroke-linecap="butt"/>
<line x1="771.82" y1="977.42" x2="753.19" y2="762.35" stroke="#919191" stroke-width="1.3" stroke-linecap="butt"/>
<line x1="795.16" y1="951.78" x2="780.8" y2="736.56" stroke="#919191" stroke-width="1.3" stroke-linecap="butt"/>
<line x1="817.75" y1="926.96" x2="807.36" y2="711.75" stroke="#919191" stroke-width="1.3" stroke-linecap="butt"/>
<line x1="839.6" y1="902.94" x2="832.94" y2="687.86" stroke="#919191" stroke-width="1.3" stroke-linecap="butt"/>
<line x1="860.78" y1="879.68" x2="857.58" y2="664.84" stroke="#919191" stroke-width="1.3" stroke-linecap="butt"/>
<line x1="898.9" y1="881.1" x2="901.74" y2="666.37" stroke="#919191" stroke-width="1.3" stroke-linecap="butt"/>
<line x1="955.9" y1="907.3" x2="967.99" y2="692.58" stroke="#919191" stroke-width="1.3" stroke-linecap="butt"/>
<line x1="1014.85" y1="934.4" x2="1036.9" y2="719.84" stroke="#919191" stroke-width="1.3" stroke-linecap="butt"/>
<line x1="1075.87" y1="962.45" x2="1108.62" y2="748.22" stroke="#919191" stroke-width="1.3" stroke-linecap="butt"/>
<line x1="871.11" y1="868.32" x2="869.57" y2="653.64" stroke="#919191" stroke-width="1.3" stroke-linecap="butt"/>
<polyline points="679.17,831.5 869.57,653.64 1145.59,762.85 1107.19,976.85" fill="none" stroke="#000" stroke-width="2.34" stroke-linejoin="miter" stroke-linecap="square"/>
<polyline points="679.17,831.5 709.88,1045.48 964.38,1182.59 1107.19,976.85" fill="none" stroke="#000" stroke-width="3.0" stroke-linejoin="miter" stroke-linecap="square"/>
<line x1="739.61" y1="1061.5" x2="734.4" y2="1067.4" stroke="#000" stroke-width="2.6" stroke-linecap="butt"/>
<line x1="800.77" y1="1094.45" x2="795.68" y2="1100.58" stroke="#000" stroke-width="2.6" stroke-linecap="butt"/>
<line x1="864.3" y1="1128.68" x2="859.36" y2="1135.06" stroke="#000" stroke-width="2.6" stroke-linecap="butt"/>
<line x1="930.36" y1="1164.26" x2="925.56" y2="1170.91" stroke="#000" stroke-width="2.6" stroke-linecap="butt"/>
<line x1="975.82" y1="1166.1" x2="983.76" y2="1170.33" stroke="#000" stroke-width="2.6" stroke-linecap="butt"/>
<line x1="998.08" y1="1134.04" x2="1005.93" y2="1138.11" stroke="#000" stroke-width="2.6" stroke-linecap="butt"/>
<line x1="1019.53" y1="1103.13" x2="1027.28" y2="1107.06" stroke="#000" stroke-width="2.6" stroke-linecap="butt"/>
<line x1="1040.23" y1="1073.32" x2="1047.88" y2="1077.12" stroke="#000" stroke-width="2.6" stroke-linecap="butt"/>
<line x1="1060.19" y1="1044.56" x2="1067.76" y2="1048.23" stroke="#000" stroke-width="2.6" stroke-linecap="butt"/>
<line x1="1079.48" y1="1016.78" x2="1086.95" y2="1020.32" stroke="#000" stroke-width="2.6" stroke-linecap="butt"/>
<line x1="1098.11" y1="989.94" x2="1105.5" y2="993.37" stroke="#000" stroke-width="2.6" stroke-linecap="butt"/>
<line x1="709.88" y1="1045.48" x2="705.43" y2="1050.37" stroke="#000" stroke-width="2.6" stroke-linecap="butt"/>
<line x1="707.24" y1="1027.06" x2="702.71" y2="1031.97" stroke="#000" stroke-width="2.6" stroke-linecap="butt"/>
<line x1="704.51" y1="1008.06" x2="699.91" y2="1012.98" stroke="#000" stroke-width="2.6" stroke-linecap="butt"/>
<line x1="701.7" y1="988.45" x2="697.01" y2="993.4" stroke="#000" stroke-width="2.6" stroke-linecap="butt"/>
<line x1="698.79" y1="968.21" x2="694.02" y2="973.17" stroke="#000" stroke-width="2.6" stroke-linecap="butt"/>
<line x1="695.79" y1="947.3" x2="690.93" y2="952.27" stroke="#000" stroke-width="2.6" stroke-linecap="butt"/>
<line x1="692.69" y1="925.69" x2="687.73" y2="930.68" stroke="#000" stroke-width="2.6" stroke-linecap="butt"/>
<line x1="689.48" y1="903.35" x2="684.43" y2="908.34" stroke="#000" stroke-width="2.6" stroke-linecap="butt"/>
<line x1="686.16" y1="880.23" x2="681.01" y2="885.23" stroke="#000" stroke-width="2.6" stroke-linecap="butt"/>
<line x1="682.73" y1="856.29" x2="677.48" y2="861.3" stroke="#000" stroke-width="2.6" stroke-linecap="butt"/>
<line x1="679.17" y1="831.5" x2="673.81" y2="836.51" stroke="#000" stroke-width="2.6" stroke-linecap="butt"/>
<text transform="matrix(10.5785 -11.9802 14.0817 7.6396 732.41 1069.65)" font-size="1" text-anchor="end" fill="#000" font-weight="bold" y="0.36" >poly</text>
<text transform="matrix(10.3256 -12.4569 14.6264 7.9351 793.74 1102.92)" font-size="1" text-anchor="end" fill="#000" font-weight="bold" y="0.36" >linear</text>
<text transform="matrix(10.0446 -12.9621 15.2034 8.2481 857.47 1137.49)" font-size="1" text-anchor="end" fill="#000" font-weight="bold" y="0.36" >rbf</text>
<text transform="matrix(9.7328 -13.4980 15.8152 8.5801 923.74 1173.45)" font-size="1" text-anchor="end" fill="#000" font-weight="bold" y="0.36" >sigmoid</text>
<text transform="matrix(16.0891 8.5623 -9.2285 13.4697 987.33 1172.23)" font-size="1" text-anchor="start" fill="#000" font-weight="bold" y="0.36" >0.1</text>
<text transform="matrix(15.8926 8.2565 -8.8904 12.9762 1009.45 1139.94)" font-size="1" text-anchor="start" fill="#000" font-weight="bold" y="0.36" >1</text>
<text transform="matrix(15.6997 7.9670 -8.5706 12.5093 1030.77 1108.83)" font-size="1" text-anchor="start" fill="#000" font-weight="bold" y="0.36" >1.5</text>
<text transform="matrix(15.5104 7.6928 -8.2677 12.0672 1051.33 1078.83)" font-size="1" text-anchor="start" fill="#000" font-weight="bold" y="0.36" >2</text>
<text transform="matrix(15.3245 7.4327 -7.9805 11.6481 1071.16 1049.88)" font-size="1" text-anchor="start" fill="#000" font-weight="bold" y="0.36" >2.5</text>
<text transform="matrix(15.1422 7.1858 -7.7081 11.2505 1090.32 1021.92)" font-size="1" text-anchor="start" fill="#000" font-weight="bold" y="0.36" >5</text>
<text transform="matrix(14.9633 6.9512 -7.4494 10.8729 1108.82 994.91)" font-size="1" text-anchor="start" fill="#000" font-weight="bold" y="0.36" >10</text>
<text transform="matrix(10.5934 -11.6399 1.5751 10.5052 703.34 1052.67)" font-size="1" text-anchor="end" fill="#000" font-weight="normal" y="0.36"  stroke="#000" stroke-width="0.06" stroke-linejoin="round">0.0</text>
<text transform="matrix(10.7779 -11.6870 1.6244 10.8339 700.58 1034.28)" font-size="1" text-anchor="end" fill="#000" font-weight="normal" y="0.36"  stroke="#000" stroke-width="0.06" stroke-linejoin="round">0.1</text>
<text transform="matrix(10.9689 -11.7312 1.6760 11.1783 697.73 1015.31)" font-size="1" text-anchor="end" fill="#000" font-weight="normal" y="0.36"  stroke="#000" stroke-width="0.06" stroke-linejoin="round">0.2</text>
<text transform="matrix(11.1666 -11.7723 1.7301 11.5394 694.8 995.73)" font-size="1" text-anchor="end" fill="#000" font-weight="normal" y="0.36"  stroke="#000" stroke-width="0.06" stroke-linejoin="round">0.3</text>
<text transform="matrix(11.3715 -11.8098 1.7869 11.9182 691.77 975.51)" font-size="1" text-anchor="end" fill="#000" font-weight="normal" y="0.36"  stroke="#000" stroke-width="0.06" stroke-linejoin="round">0.4</text>
<text transform="matrix(11.5840 -11.8435 1.8466 12.3160 688.63 954.62)" font-size="1" text-anchor="end" fill="#000" font-weight="normal" y="0.36"  stroke="#000" stroke-width="0.06" stroke-linejoin="round">0.5</text>
<text transform="matrix(11.8045 -11.8727 1.9093 12.7341 685.4 933.03)" font-size="1" text-anchor="end" fill="#000" font-weight="normal" y="0.36"  stroke="#000" stroke-width="0.06" stroke-linejoin="round">0.6</text>
<text transform="matrix(12.0334 -11.8970 1.9752 13.1738 682.05 910.7)" font-size="1" text-anchor="end" fill="#000" font-weight="normal" y="0.36"  stroke="#000" stroke-width="0.06" stroke-linejoin="round">0.7</text>
<text transform="matrix(12.2712 -11.9158 2.0446 13.6367 678.58 887.59)" font-size="1" text-anchor="end" fill="#000" font-weight="normal" y="0.36"  stroke="#000" stroke-width="0.06" stroke-linejoin="round">0.8</text>
<text transform="matrix(12.5185 -11.9284 2.1177 14.1244 675 863.66)" font-size="1" text-anchor="end" fill="#000" font-weight="normal" y="0.36"  stroke="#000" stroke-width="0.06" stroke-linejoin="round">0.9</text>
<text transform="matrix(12.7758 -11.9342 2.1948 14.6388 671.28 838.87)" font-size="1" text-anchor="end" fill="#000" font-weight="normal" y="0.36"  stroke="#000" stroke-width="0.06" stroke-linejoin="round">1.0</text>
<text transform="matrix(17.4738 9.9916 -12.5909 15.7247 773.7 1187)" font-size="1" text-anchor="middle" fill="#000" font-weight="bold" y="0.36" >kernel</text>
<text transform="matrix(9.2228 -14.0839 18.1282 8.9738 1090.8 1095)" font-size="1" text-anchor="middle" fill="#000" font-weight="bold" y="0.36" >C</text>
<text transform="matrix(2.5715 14.3759 -13.8320 14.0912 656.4 982)" font-size="1" text-anchor="middle" fill="#000" font-weight="normal" y="0.36"  stroke="#000" stroke-width="0.045" stroke-linejoin="round">Validation Accuracy</text>
</g>
<g font-family='"Liberation Sans", Arial, sans-serif' font-style="normal">
<polygon points="858.32,886.73 909.14,910.46 912.31,760.85 855.81,736.99" fill="#2F3CE1" stroke="#2F3CE1" stroke-width="0.6"/>
<polygon points="909.14,910.46 919.3,898.63 923.58,749.02 912.31,760.85" fill="#1D258C" stroke="#1D258C" stroke-width="0.6"/>
<polygon points="855.81,736.99 912.31,760.85 923.58,749.02 867.38,725.56" fill="#252FB0" stroke="#252FB0" stroke-width="0.6"/>
<text transform="matrix(17.5289 7.3597 -11.1928 11.3897 889.56 742.98)" font-size="1" text-anchor="middle" fill="#fff" font-weight="normal" y="0.36"  stroke="#fff" stroke-width="0.055" stroke-linejoin="round">0.727</text>
<polygon points="914.88,913.14 967.45,937.69 977.38,788.33 918.71,763.55" fill="#2F3CE1" stroke="#2F3CE1" stroke-width="0.6"/>
<polygon points="967.45,937.69 977.31,925.43 988.28,776.03 977.38,788.33" fill="#1D258C" stroke="#1D258C" stroke-width="0.6"/>
<polygon points="918.71,763.55 977.38,788.33 988.28,776.03 929.94,751.68" fill="#252FB0" stroke="#252FB0" stroke-width="0.6"/>
<text transform="matrix(18.2011 7.6420 -10.8432 11.8421 953.35 769.76)" font-size="1" text-anchor="middle" fill="#fff" font-weight="normal" y="0.36"  stroke="#fff" stroke-width="0.055" stroke-linejoin="round">0.727</text>
<polygon points="973.39,940.46 1027.81,965.88 1042.64,837.42 982.57,811.68" fill="#FBC011" stroke="#FBC011" stroke-width="0.6"/>
<polygon points="1027.81,965.88 1037.34,953.18 1052.99,824.62 1042.64,837.42" fill="#9C770B" stroke="#9C770B" stroke-width="0.6"/>
<polygon points="982.57,811.68 1042.64,837.42 1052.99,824.62 993.28,799.33" fill="#C4960D" stroke="#C4960D" stroke-width="0.6"/>
<text transform="matrix(18.6324 7.9373 -10.3262 12.3275 1017.64 818.12)" font-size="1" text-anchor="middle" fill="#fff" font-weight="normal" y="0.36"  stroke="#fff" stroke-width="0.055" stroke-linejoin="round">0.636</text>
<polygon points="1033.96,968.75 1090.33,995.07 1102.15,924.92 1042.46,898.31" fill="#38C9A0" stroke="#38C9A0" stroke-width="0.6"/>
<polygon points="1090.33,995.07 1099.5,981.9 1111.73,911.63 1102.15,924.92" fill="#237D63" stroke="#237D63" stroke-width="0.6"/>
<polygon points="1042.46,898.31 1102.15,924.92 1111.73,911.63 1052.4,885.47" fill="#2C9D7D" stroke="#2C9D7D" stroke-width="0.6"/>
<text transform="matrix(18.5135 8.2080 -9.5753 12.7951 1076.96 904.94)" font-size="1" text-anchor="middle" fill="#fff" font-weight="normal" y="0.36"  stroke="#fff" stroke-width="0.055" stroke-linejoin="round">0.364</text>
<polygon points="837.01,910.21 888.32,934.7 888.94,825.72 833.39,801.03" fill="#9098EC" stroke="#9098EC" stroke-width="0.6"/>
<polygon points="888.32,934.7 898.81,922.48 900.29,813.44 888.94,825.72" fill="#595E92" stroke="#595E92" stroke-width="0.6"/>
<polygon points="833.39,801.03 888.94,825.72 900.29,813.44 845.04,789.16" fill="#7077B8" stroke="#7077B8" stroke-width="0.6"/>
<text transform="matrix(17.2336 7.6172 -11.2753 11.8245 866.71 807.21)" font-size="1" text-anchor="middle" fill="#fff" font-weight="normal" y="0.36"  stroke="#fff" stroke-width="0.055" stroke-linejoin="round">0.545</text>
<polygon points="894.12,937.46 947.24,962.81 956.09,792.45 895.85,766.77" fill="#FF00FF" stroke="#FF00FF" stroke-width="0.6"/>
<polygon points="947.24,962.81 957.43,950.14 967.55,779.7 956.09,792.45" fill="#9E009E" stroke="#9E009E" stroke-width="0.6"/>
<polygon points="895.85,766.77 956.09,792.45 967.55,779.7 907.66,754.48" fill="#C700C7" stroke="#C700C7" stroke-width="0.6"/>
<text transform="matrix(18.6865 7.9150 -11.4023 12.2673 931.55 773.21)" font-size="1" text-anchor="middle" fill="#fff" font-weight="normal" y="0.36"  stroke="#fff" stroke-width="0.055" stroke-linejoin="round">0.818</text>
<polygon points="953.24,965.67 1008.26,991.92 1023.45,843.22 961.72,816.53" fill="#2F3CE1" stroke="#2F3CE1" stroke-width="0.6"/>
<polygon points="1008.26,991.92 1018.12,978.79 1034.33,829.93 1023.45,843.22" fill="#1D258C" stroke="#1D258C" stroke-width="0.6"/>
<polygon points="961.72,816.53 1023.45,843.22 1034.33,829.93 972.98,803.71" fill="#252FB0" stroke="#252FB0" stroke-width="0.6"/>
<text transform="matrix(19.1460 8.2306 -10.8521 12.7859 997.87 823.2)" font-size="1" text-anchor="middle" fill="#fff" font-weight="normal" y="0.36"  stroke="#fff" stroke-width="0.055" stroke-linejoin="round">0.727</text>
<polygon points="1014.48,994.89 1071.5,1022.09 1082.45,952.21 1022.02,924.66" fill="#38C9A0" stroke="#38C9A0" stroke-width="0.6"/>
<polygon points="1071.5,1022.09 1080.99,1008.47 1092.39,938.44 1082.45,952.21" fill="#237D63" stroke="#237D63" stroke-width="0.6"/>
<polygon points="1022.02,924.66 1082.45,952.21 1092.39,938.44 1032.33,911.37" fill="#2C9D7D" stroke="#2C9D7D" stroke-width="0.6"/>
<text transform="matrix(18.7405 8.4968 -9.9227 13.2592 1057.06 931.52)" font-size="1" text-anchor="middle" fill="#fff" font-weight="normal" y="0.36"  stroke="#fff" stroke-width="0.055" stroke-linejoin="round">0.364</text>
<polygon points="815,934.47 866.82,959.74 865.61,850.93 809.48,825.38" fill="#9098EC" stroke="#9098EC" stroke-width="0.6"/>
<polygon points="866.82,959.74 877.66,947.12 877.38,838.21 865.61,850.93" fill="#595E92" stroke="#595E92" stroke-width="0.6"/>
<polygon points="809.48,825.38 865.61,850.93 877.38,838.21 821.54,813.1" fill="#7077B8" stroke="#7077B8" stroke-width="0.6"/>
<text transform="matrix(17.4170 7.8818 -11.6799 12.2488 843.29 831.77)" font-size="1" text-anchor="middle" fill="#fff" font-weight="normal" y="0.36"  stroke="#fff" stroke-width="0.055" stroke-linejoin="round">0.545</text>
<polygon points="872.68,962.6 926.34,988.78 932.52,818.68 871.57,792.05" fill="#FF00FF" stroke="#FF00FF" stroke-width="0.6"/>
<polygon points="926.34,988.78 936.88,975.68 944.42,805.44 932.52,818.68" fill="#9E009E" stroke="#9E009E" stroke-width="0.6"/>
<polygon points="871.57,792.05 932.52,818.68 944.42,805.44 883.82,779.3" fill="#C700C7" stroke="#C700C7" stroke-width="0.6"/>
<text transform="matrix(18.9076 8.2077 -11.8382 12.7363 907.84 798.72)" font-size="1" text-anchor="middle" fill="#fff" font-weight="normal" y="0.36"  stroke="#fff" stroke-width="0.055" stroke-linejoin="round">0.818</text>
<polygon points="932.41,991.74 988.03,1018.86 1001.06,870.57 938.56,842.88" fill="#2F3CE1" stroke="#2F3CE1" stroke-width="0.6"/>
<polygon points="988.03,1018.86 998.23,1005.28 1012.36,856.77 1001.06,870.57" fill="#1D258C" stroke="#1D258C" stroke-width="0.6"/>
<polygon points="938.56,842.88 1001.06,870.57 1012.36,856.77 950.25,829.58" fill="#252FB0" stroke="#252FB0" stroke-width="0.6"/>
<text transform="matrix(19.3833 8.5369 -11.2692 13.2773 975.3 849.79)" font-size="1" text-anchor="middle" fill="#fff" font-weight="normal" y="0.36"  stroke="#fff" stroke-width="0.055" stroke-linejoin="round">0.727</text>
<polygon points="994.33,1021.93 1052.01,1050.06 1064.71,961.85 1002.6,933.21" fill="#00B2AD" stroke="#00B2AD" stroke-width="0.6"/>
<polygon points="1052.01,1050.06 1061.84,1035.96 1075.15,947.53 1064.71,961.85" fill="#006E6B" stroke="#006E6B" stroke-width="0.6"/>
<polygon points="1002.6,933.21 1064.71,961.85 1075.15,947.53 1013.42,919.41" fill="#008B87" stroke="#008B87" stroke-width="0.6"/>
<text transform="matrix(19.2626 8.8276 -10.4193 13.7800 1038.72 940.34)" font-size="1" text-anchor="middle" fill="#fff" font-weight="normal" y="0.36"  stroke="#fff" stroke-width="0.055" stroke-linejoin="round">0.455</text>
<polygon points="792.26,959.53 844.59,985.64 841.43,877.08 784.7,850.61" fill="#9098EC" stroke="#9098EC" stroke-width="0.6"/>
<polygon points="844.59,985.64 855.79,972.58 853.63,863.89 841.43,877.08" fill="#595E92" stroke="#595E92" stroke-width="0.6"/>
<polygon points="784.7,850.61 841.43,877.08 853.63,863.89 797.2,837.88" fill="#7077B8" stroke="#7077B8" stroke-width="0.6"/>
<text transform="matrix(17.6024 8.1608 -12.1067 12.6964 819.02 857.22)" font-size="1" text-anchor="middle" fill="#fff" font-weight="normal" y="0.36"  stroke="#fff" stroke-width="0.055" stroke-linejoin="round">0.545</text>
<polygon points="850.5,988.59 904.73,1015.64 908.03,845.94 846.35,818.31" fill="#FF00FF" stroke="#FF00FF" stroke-width="0.6"/>
<polygon points="904.73,1015.64 915.63,1002.09 920.4,832.18 908.03,845.94" fill="#9E009E" stroke="#9E009E" stroke-width="0.6"/>
<polygon points="846.35,818.31 908.03,845.94 920.4,832.18 859.08,805.05" fill="#C700C7" stroke="#C700C7" stroke-width="0.6"/>
<text transform="matrix(19.1320 8.5174 -12.2996 13.2327 883.21 825.21)" font-size="1" text-anchor="middle" fill="#fff" font-weight="normal" y="0.36"  stroke="#fff" stroke-width="0.055" stroke-linejoin="round">0.818</text>
<polygon points="910.87,1018.7 967.1,1046.75 977.79,899 914.51,870.24" fill="#2F3CE1" stroke="#2F3CE1" stroke-width="0.6"/>
<polygon points="967.1,1046.75 977.66,1032.68 989.54,884.65 977.79,899" fill="#1D258C" stroke="#1D258C" stroke-width="0.6"/>
<polygon points="914.51,870.24 977.79,899 989.54,884.65 926.65,856.43" fill="#252FB0" stroke="#252FB0" stroke-width="0.6"/>
<text transform="matrix(19.6249 8.8610 -11.7107 13.7975 951.86 877.41)" font-size="1" text-anchor="middle" fill="#fff" font-weight="normal" y="0.36"  stroke="#fff" stroke-width="0.055" stroke-linejoin="round">0.727</text>
<polygon points="973.47,1049.92 1031.82,1079.03 1043.24,991.32 980.34,961.61" fill="#00B2AD" stroke="#00B2AD" stroke-width="0.6"/>
<polygon points="1031.82,1079.03 1042,1064.42 1054.08,976.44 1043.24,991.32" fill="#006E6B" stroke="#006E6B" stroke-width="0.6"/>
<polygon points="980.34,961.61 1043.24,991.32 1054.08,976.44 991.58,947.28" fill="#008B87" stroke="#008B87" stroke-width="0.6"/>
<text transform="matrix(19.5058 9.1550 -10.8174 14.3065 1017.05 969)" font-size="1" text-anchor="middle" fill="#fff" font-weight="normal" y="0.36"  stroke="#fff" stroke-width="0.055" stroke-linejoin="round">0.455</text>
<polygon points="768.75,985.44 821.59,1012.42 816.34,904.19 759.01,876.77" fill="#9098EC" stroke="#9098EC" stroke-width="0.6"/>
<polygon points="821.59,1012.42 833.19,998.91 829,890.51 816.34,904.19" fill="#595E92" stroke="#595E92" stroke-width="0.6"/>
<polygon points="759.01,876.77 816.34,904.19 829,890.51 771.97,863.57" fill="#7077B8" stroke="#7077B8" stroke-width="0.6"/>
<text transform="matrix(17.7898 8.4552 -12.5573 13.1689 793.86 883.61)" font-size="1" text-anchor="middle" fill="#fff" font-weight="normal" y="0.36"  stroke="#fff" stroke-width="0.055" stroke-linejoin="round">0.545</text>
<polygon points="827.57,1015.47 882.36,1043.44 882.56,874.29 820.14,845.59" fill="#FF00FF" stroke="#FF00FF" stroke-width="0.6"/>
<polygon points="882.36,1043.44 893.65,1029.42 895.42,859.98 882.56,874.29" fill="#9E009E" stroke="#9E009E" stroke-width="0.6"/>
<polygon points="820.14,845.59 882.56,874.29 895.42,859.98 833.37,831.81" fill="#C700C7" stroke="#C700C7" stroke-width="0.6"/>
<text transform="matrix(19.3596 8.8453 -12.7886 13.7587 857.62 852.75)" font-size="1" text-anchor="middle" fill="#fff" font-weight="normal" y="0.36"  stroke="#fff" stroke-width="0.055" stroke-linejoin="round">0.818</text>
<polygon points="888.57,1046.6 945.42,1075.62 953.58,928.57 889.51,898.69" fill="#2F3CE1" stroke="#2F3CE1" stroke-width="0.6"/>
<polygon points="945.42,1075.62 956.36,1061.06 965.81,913.64 953.58,928.57" fill="#1D258C" stroke="#1D258C" stroke-width="0.6"/>
<polygon points="889.51,898.69 953.58,928.57 965.81,913.64 902.13,884.33" fill="#252FB0" stroke="#252FB0" stroke-width="0.6"/>
<text transform="matrix(19.8706 9.2043 -12.1787 14.3489 927.49 906.13)" font-size="1" text-anchor="middle" fill="#fff" font-weight="normal" y="0.36"  stroke="#fff" stroke-width="0.055" stroke-linejoin="round">0.727</text>
<polygon points="951.86,1078.91 1010.9,1109.05 1020.93,1021.93 957.23,991.1" fill="#00B2AD" stroke="#00B2AD" stroke-width="0.6"/>
<polygon points="1010.9,1109.05 1021.46,1093.9 1032.2,1006.48 1020.93,1021.93" fill="#006E6B" stroke="#006E6B" stroke-width="0.6"/>
<polygon points="957.23,991.1 1020.93,1021.93 1032.2,1006.48 968.9,976.22" fill="#008B87" stroke="#008B87" stroke-width="0.6"/>
<text transform="matrix(19.7538 9.5013 -11.2387 14.8637 994.55 998.76)" font-size="1" text-anchor="middle" fill="#fff" font-weight="normal" y="0.36"  stroke="#fff" stroke-width="0.055" stroke-linejoin="round">0.455</text>
<polygon points="744.43,1012.24 797.79,1040.13 790.3,932.34 732.36,903.91" fill="#9098EC" stroke="#9098EC" stroke-width="0.6"/>
<polygon points="797.79,1040.13 809.79,1026.15 803.45,918.14 790.3,932.34" fill="#595E92" stroke="#595E92" stroke-width="0.6"/>
<polygon points="732.36,903.91 790.3,932.34 803.45,918.14 745.81,890.21" fill="#7077B8" stroke="#7077B8" stroke-width="0.6"/>
<text transform="matrix(17.9789 8.7661 -13.0335 13.6684 767.75 910.99)" font-size="1" text-anchor="middle" fill="#fff" font-weight="normal" y="0.36"  stroke="#fff" stroke-width="0.055" stroke-linejoin="round">0.545</text>
<polygon points="803.83,1043.29 859.2,1072.23 856.05,903.8 792.89,873.96" fill="#FF00FF" stroke="#FF00FF" stroke-width="0.6"/>
<polygon points="859.2,1072.23 870.88,1057.7 869.44,888.9 856.05,903.8" fill="#9E009E" stroke="#9E009E" stroke-width="0.6"/>
<polygon points="792.89,873.96 856.05,903.8 869.44,888.9 806.65,859.63" fill="#C700C7" stroke="#C700C7" stroke-width="0.6"/>
<text transform="matrix(19.5903 9.1930 -13.3073 14.3167 830.99 881.39)" font-size="1" text-anchor="middle" fill="#fff" font-weight="normal" y="0.36"  stroke="#fff" stroke-width="0.055" stroke-linejoin="round">0.818</text>
<polygon points="865.47,1075.5 922.96,1105.55 927.63,979.68 863.78,948.72" fill="#FBC011" stroke="#FBC011" stroke-width="0.6"/>
<polygon points="922.96,1105.55 934.29,1090.45 940.16,964.18 927.63,979.68" fill="#9C770B" stroke="#9C770B" stroke-width="0.6"/>
<polygon points="863.78,948.72 927.63,979.68 940.16,964.18 876.7,933.81" fill="#C4960D" stroke="#C4960D" stroke-width="0.6"/>
<text transform="matrix(19.8029 9.5383 -12.4798 14.8985 901.8 956.41)" font-size="1" text-anchor="middle" fill="#fff" font-weight="normal" y="0.36"  stroke="#fff" stroke-width="0.055" stroke-linejoin="round">0.636</text>
<polygon points="929.47,1108.95 989.21,1140.17 995.92,1072.13 932.42,1040.25" fill="#38C9A0" stroke="#38C9A0" stroke-width="0.6"/>
<polygon points="989.21,1140.17 1000.16,1124.47 1007.48,1056.12 995.92,1072.13" fill="#237D63" stroke="#237D63" stroke-width="0.6"/>
<polygon points="932.42,1040.25 995.92,1072.13 1007.48,1056.12 944.37,1024.84" fill="#2C9D7D" stroke="#2C9D7D" stroke-width="0.6"/>
<text transform="matrix(19.6926 9.8230 -11.5196 15.3931 969.79 1048.15)" font-size="1" text-anchor="middle" fill="#fff" font-weight="normal" y="0.36"  stroke="#fff" stroke-width="0.055" stroke-linejoin="round">0.364</text>
<polygon points="719.26,1039.98 773.15,1068.84 765.01,980.64 707.27,951.22" fill="#00B2AD" stroke="#00B2AD" stroke-width="0.6"/>
<polygon points="773.15,1068.84 785.58,1054.36 778.45,965.91 765.01,980.64" fill="#006E6B" stroke="#006E6B" stroke-width="0.6"/>
<polygon points="707.27,951.22 765.01,980.64 778.45,965.91 721.01,937.03" fill="#008B87" stroke="#008B87" stroke-width="0.6"/>
<text transform="matrix(17.9137 9.0676 -13.3189 14.1644 742.71 958.53)" font-size="1" text-anchor="middle" fill="#fff" font-weight="normal" y="0.36"  stroke="#fff" stroke-width="0.055" stroke-linejoin="round">0.455</text>
<polygon points="779.25,1072.1 835.2,1102.06 830.11,975.94 768.16,945.09" fill="#FBC011" stroke="#FBC011" stroke-width="0.6"/>
<polygon points="835.2,1102.06 847.31,1087.01 843.6,960.5 830.11,975.94" fill="#9C770B" stroke="#9C770B" stroke-width="0.6"/>
<polygon points="768.16,945.09 830.11,975.94 843.6,960.5 782.01,930.23" fill="#C4960D" stroke="#C4960D" stroke-width="0.6"/>
<text transform="matrix(19.2170 9.5062 -13.4003 14.8464 805.71 952.76)" font-size="1" text-anchor="middle" fill="#fff" font-weight="normal" y="0.36"  stroke="#fff" stroke-width="0.055" stroke-linejoin="round">0.636</text>
<polygon points="841.53,1105.45 899.67,1136.58 901.14,1050 838.49,1018.07" fill="#00B2AD" stroke="#00B2AD" stroke-width="0.6"/>
<polygon points="899.67,1136.58 911.42,1120.92 913.79,1033.97 901.14,1050" fill="#006E6B" stroke="#006E6B" stroke-width="0.6"/>
<polygon points="838.49,1018.07 901.14,1050 913.79,1033.97 851.51,1002.66" fill="#008B87" stroke="#008B87" stroke-width="0.6"/>
<text transform="matrix(19.4312 9.8357 -12.5887 15.4015 875.97 1025.99)" font-size="1" text-anchor="middle" fill="#fff" font-weight="normal" y="0.36"  stroke="#fff" stroke-width="0.055" stroke-linejoin="round">0.455</text>
<polygon points="906.25,1140.11 966.7,1172.48 973.59,1086.91 908.24,1053.62" fill="#00B2AD" stroke="#00B2AD" stroke-width="0.6"/>
<polygon points="966.7,1172.48 978.06,1156.17 985.78,1070.18 973.59,1086.91" fill="#006E6B" stroke="#006E6B" stroke-width="0.6"/>
<polygon points="908.24,1053.62 973.59,1086.91 985.78,1070.18 920.85,1037.53" fill="#008B87" stroke="#008B87" stroke-width="0.6"/>
<text transform="matrix(20.2633 10.2569 -12.1588 16.0805 946.84 1061.86)" font-size="1" text-anchor="middle" fill="#fff" font-weight="normal" y="0.36"  stroke="#fff" stroke-width="0.055" stroke-linejoin="round">0.455</text>
</g>
<text x="633.1" y="692" font-family='"Liberation Sans", Arial, sans-serif' font-weight="bold" font-size="36.7">e</text></g>
<g><g font-family='"Liberation Sans", Arial, sans-serif'>
<line x1="1337.81" y1="1061.6" x2="1497.1" y2="881.2" stroke="#DADADA" stroke-width="1.3" stroke-linecap="butt"/>
<line x1="1398.97" y1="1094.55" x2="1554.1" y2="907.4" stroke="#DADADA" stroke-width="1.3" stroke-linecap="butt"/>
<line x1="1462.5" y1="1128.78" x2="1613.05" y2="934.5" stroke="#DADADA" stroke-width="1.3" stroke-linecap="butt"/>
<line x1="1528.56" y1="1164.36" x2="1674.07" y2="962.55" stroke="#DADADA" stroke-width="1.3" stroke-linecap="butt"/>
<line x1="1320.9" y1="1031.5" x2="1574.02" y2="1166.2" stroke="#DADADA" stroke-width="1.3" stroke-linecap="butt"/>
<line x1="1345.88" y1="1004.05" x2="1596.28" y2="1134.14" stroke="#DADADA" stroke-width="1.3" stroke-linecap="butt"/>
<line x1="1370.02" y1="977.52" x2="1617.73" y2="1103.23" stroke="#DADADA" stroke-width="1.3" stroke-linecap="butt"/>
<line x1="1393.36" y1="951.88" x2="1638.43" y2="1073.42" stroke="#DADADA" stroke-width="1.3" stroke-linecap="butt"/>
<line x1="1415.95" y1="927.06" x2="1658.39" y2="1044.66" stroke="#DADADA" stroke-width="1.3" stroke-linecap="butt"/>
<line x1="1437.8" y1="903.04" x2="1677.68" y2="1016.88" stroke="#DADADA" stroke-width="1.3" stroke-linecap="butt"/>
<line x1="1458.98" y1="879.78" x2="1696.31" y2="990.04" stroke="#DADADA" stroke-width="1.3" stroke-linecap="butt"/>
<polyline points="1308.08,1045.58 1469.31,868.42 1705.39,976.95" fill="none" stroke="#919191" stroke-width="1.3" stroke-linejoin="miter" stroke-linecap="square"/>
<polyline points="1305.44,1027.16 1469.18,849.61 1708.72,958.39" fill="none" stroke="#919191" stroke-width="1.3" stroke-linejoin="miter" stroke-linecap="square"/>
<polyline points="1302.71,1008.16 1469.04,830.27 1712.15,939.27" fill="none" stroke="#919191" stroke-width="1.3" stroke-linejoin="miter" stroke-linecap="square"/>
<polyline points="1299.9,988.55 1468.89,810.39 1715.69,919.57" fill="none" stroke="#919191" stroke-width="1.3" stroke-linejoin="miter" stroke-linecap="square"/>
<polyline points="1296.99,968.31 1468.75,789.94 1719.33,899.26" fill="none" stroke="#919191" stroke-width="1.3" stroke-linejoin="miter" stroke-linecap="square"/>
<polyline points="1293.99,947.4 1468.6,768.89 1723.09,878.32" fill="none" stroke="#919191" stroke-width="1.3" stroke-linejoin="miter" stroke-linecap="square"/>
<polyline points="1290.89,925.79 1468.44,747.22 1726.97,856.71" fill="none" stroke="#919191" stroke-width="1.3" stroke-linejoin="miter" stroke-linecap="square"/>
<polyline points="1287.68,903.45 1468.28,724.9 1730.97,834.41" fill="none" stroke="#919191" stroke-width="1.3" stroke-linejoin="miter" stroke-linecap="square"/>
<polyline points="1284.36,880.33 1468.11,701.9 1735.11,811.37" fill="none" stroke="#919191" stroke-width="1.3" stroke-linejoin="miter" stroke-linecap="square"/>
<polyline points="1280.93,856.39 1467.94,678.19 1739.38,787.56" fill="none" stroke="#919191" stroke-width="1.3" stroke-linejoin="miter" stroke-linecap="square"/>
<line x1="1320.9" y1="1031.5" x2="1292.78" y2="817.2" stroke="#919191" stroke-width="1.3" stroke-linecap="butt"/>
<line x1="1345.88" y1="1004.05" x2="1322.67" y2="789.28" stroke="#919191" stroke-width="1.3" stroke-linecap="butt"/>
<line x1="1370.02" y1="977.52" x2="1351.39" y2="762.45" stroke="#919191" stroke-width="1.3" stroke-linecap="butt"/>
<line x1="1393.36" y1="951.88" x2="1379" y2="736.66" stroke="#919191" stroke-width="1.3" stroke-linecap="butt"/>
<line x1="1415.95" y1="927.06" x2="1405.56" y2="711.85" stroke="#919191" stroke-width="1.3" stroke-linecap="butt"/>
<line x1="1437.8" y1="903.04" x2="1431.14" y2="687.96" stroke="#919191" stroke-width="1.3" stroke-linecap="butt"/>
<line x1="1458.98" y1="879.78" x2="1455.78" y2="664.94" stroke="#919191" stroke-width="1.3" stroke-linecap="butt"/>
<line x1="1497.1" y1="881.2" x2="1499.94" y2="666.47" stroke="#919191" stroke-width="1.3" stroke-linecap="butt"/>
<line x1="1554.1" y1="907.4" x2="1566.19" y2="692.68" stroke="#919191" stroke-width="1.3" stroke-linecap="butt"/>
<line x1="1613.05" y1="934.5" x2="1635.1" y2="719.94" stroke="#919191" stroke-width="1.3" stroke-linecap="butt"/>
<line x1="1674.07" y1="962.55" x2="1706.82" y2="748.32" stroke="#919191" stroke-width="1.3" stroke-linecap="butt"/>
<line x1="1469.31" y1="868.42" x2="1467.77" y2="653.74" stroke="#919191" stroke-width="1.3" stroke-linecap="butt"/>
<polyline points="1277.37,831.6 1467.77,653.74 1743.79,762.95 1705.39,976.95" fill="none" stroke="#000" stroke-width="2.34" stroke-linejoin="miter" stroke-linecap="square"/>
<polyline points="1277.37,831.6 1308.08,1045.58 1562.58,1182.69 1705.39,976.95" fill="none" stroke="#000" stroke-width="3.0" stroke-linejoin="miter" stroke-linecap="square"/>
<line x1="1337.81" y1="1061.6" x2="1332.6" y2="1067.5" stroke="#000" stroke-width="2.6" stroke-linecap="butt"/>
<line x1="1398.97" y1="1094.55" x2="1393.88" y2="1100.68" stroke="#000" stroke-width="2.6" stroke-linecap="butt"/>
<line x1="1462.5" y1="1128.78" x2="1457.56" y2="1135.16" stroke="#000" stroke-width="2.6" stroke-linecap="butt"/>
<line x1="1528.56" y1="1164.36" x2="1523.76" y2="1171.01" stroke="#000" stroke-width="2.6" stroke-linecap="butt"/>
<line x1="1574.02" y1="1166.2" x2="1581.96" y2="1170.43" stroke="#000" stroke-width="2.6" stroke-linecap="butt"/>
<line x1="1596.28" y1="1134.14" x2="1604.13" y2="1138.21" stroke="#000" stroke-width="2.6" stroke-linecap="butt"/>
<line x1="1617.73" y1="1103.23" x2="1625.48" y2="1107.16" stroke="#000" stroke-width="2.6" stroke-linecap="butt"/>
<line x1="1638.43" y1="1073.42" x2="1646.08" y2="1077.22" stroke="#000" stroke-width="2.6" stroke-linecap="butt"/>
<line x1="1658.39" y1="1044.66" x2="1665.96" y2="1048.33" stroke="#000" stroke-width="2.6" stroke-linecap="butt"/>
<line x1="1677.68" y1="1016.88" x2="1685.15" y2="1020.42" stroke="#000" stroke-width="2.6" stroke-linecap="butt"/>
<line x1="1696.31" y1="990.04" x2="1703.7" y2="993.47" stroke="#000" stroke-width="2.6" stroke-linecap="butt"/>
<line x1="1308.08" y1="1045.58" x2="1303.63" y2="1050.47" stroke="#000" stroke-width="2.6" stroke-linecap="butt"/>
<line x1="1305.44" y1="1027.16" x2="1300.91" y2="1032.07" stroke="#000" stroke-width="2.6" stroke-linecap="butt"/>
<line x1="1302.71" y1="1008.16" x2="1298.11" y2="1013.08" stroke="#000" stroke-width="2.6" stroke-linecap="butt"/>
<line x1="1299.9" y1="988.55" x2="1295.21" y2="993.5" stroke="#000" stroke-width="2.6" stroke-linecap="butt"/>
<line x1="1296.99" y1="968.31" x2="1292.22" y2="973.27" stroke="#000" stroke-width="2.6" stroke-linecap="butt"/>
<line x1="1293.99" y1="947.4" x2="1289.13" y2="952.37" stroke="#000" stroke-width="2.6" stroke-linecap="butt"/>
<line x1="1290.89" y1="925.79" x2="1285.93" y2="930.78" stroke="#000" stroke-width="2.6" stroke-linecap="butt"/>
<line x1="1287.68" y1="903.45" x2="1282.63" y2="908.44" stroke="#000" stroke-width="2.6" stroke-linecap="butt"/>
<line x1="1284.36" y1="880.33" x2="1279.21" y2="885.33" stroke="#000" stroke-width="2.6" stroke-linecap="butt"/>
<line x1="1280.93" y1="856.39" x2="1275.68" y2="861.4" stroke="#000" stroke-width="2.6" stroke-linecap="butt"/>
<line x1="1277.37" y1="831.6" x2="1272.01" y2="836.61" stroke="#000" stroke-width="2.6" stroke-linecap="butt"/>
<text transform="matrix(10.5785 -11.9802 14.0817 7.6396 1330.61 1069.75)" font-size="1" text-anchor="end" fill="#000" font-weight="bold" y="0.36" >poly</text>
<text transform="matrix(10.3256 -12.4569 14.6264 7.9351 1391.94 1103.02)" font-size="1" text-anchor="end" fill="#000" font-weight="bold" y="0.36" >linear</text>
<text transform="matrix(10.0446 -12.9621 15.2034 8.2481 1455.67 1137.59)" font-size="1" text-anchor="end" fill="#000" font-weight="bold" y="0.36" >rbf</text>
<text transform="matrix(9.7328 -13.4980 15.8152 8.5801 1521.94 1173.55)" font-size="1" text-anchor="end" fill="#000" font-weight="bold" y="0.36" >sigmoid</text>
<text transform="matrix(16.0891 8.5623 -9.2285 13.4697 1585.53 1172.33)" font-size="1" text-anchor="start" fill="#000" font-weight="bold" y="0.36" >0.1</text>
<text transform="matrix(15.8926 8.2565 -8.8904 12.9762 1607.65 1140.04)" font-size="1" text-anchor="start" fill="#000" font-weight="bold" y="0.36" >1</text>
<text transform="matrix(15.6997 7.9670 -8.5706 12.5093 1628.97 1108.93)" font-size="1" text-anchor="start" fill="#000" font-weight="bold" y="0.36" >1.5</text>
<text transform="matrix(15.5104 7.6928 -8.2677 12.0672 1649.53 1078.93)" font-size="1" text-anchor="start" fill="#000" font-weight="bold" y="0.36" >2</text>
<text transform="matrix(15.3245 7.4327 -7.9805 11.6481 1669.36 1049.98)" font-size="1" text-anchor="start" fill="#000" font-weight="bold" y="0.36" >2.5</text>
<text transform="matrix(15.1422 7.1858 -7.7081 11.2505 1688.52 1022.02)" font-size="1" text-anchor="start" fill="#000" font-weight="bold" y="0.36" >5</text>
<text transform="matrix(14.9633 6.9512 -7.4494 10.8729 1707.02 995.01)" font-size="1" text-anchor="start" fill="#000" font-weight="bold" y="0.36" >10</text>
<text transform="matrix(10.5934 -11.6399 1.5751 10.5052 1301.54 1052.77)" font-size="1" text-anchor="end" fill="#000" font-weight="normal" y="0.36"  stroke="#000" stroke-width="0.06" stroke-linejoin="round">0.0</text>
<text transform="matrix(10.7779 -11.6870 1.6244 10.8339 1298.78 1034.38)" font-size="1" text-anchor="end" fill="#000" font-weight="normal" y="0.36"  stroke="#000" stroke-width="0.06" stroke-linejoin="round">0.1</text>
<text transform="matrix(10.9689 -11.7312 1.6760 11.1783 1295.93 1015.41)" font-size="1" text-anchor="end" fill="#000" font-weight="normal" y="0.36"  stroke="#000" stroke-width="0.06" stroke-linejoin="round">0.2</text>
<text transform="matrix(11.1666 -11.7723 1.7301 11.5394 1293 995.83)" font-size="1" text-anchor="end" fill="#000" font-weight="normal" y="0.36"  stroke="#000" stroke-width="0.06" stroke-linejoin="round">0.3</text>
<text transform="matrix(11.3715 -11.8098 1.7869 11.9182 1289.97 975.61)" font-size="1" text-anchor="end" fill="#000" font-weight="normal" y="0.36"  stroke="#000" stroke-width="0.06" stroke-linejoin="round">0.4</text>
<text transform="matrix(11.5840 -11.8435 1.8466 12.3160 1286.83 954.72)" font-size="1" text-anchor="end" fill="#000" font-weight="normal" y="0.36"  stroke="#000" stroke-width="0.06" stroke-linejoin="round">0.5</text>
<text transform="matrix(11.8045 -11.8727 1.9093 12.7341 1283.6 933.13)" font-size="1" text-anchor="end" fill="#000" font-weight="normal" y="0.36"  stroke="#000" stroke-width="0.06" stroke-linejoin="round">0.6</text>
<text transform="matrix(12.0334 -11.8970 1.9752 13.1738 1280.25 910.8)" font-size="1" text-anchor="end" fill="#000" font-weight="normal" y="0.36"  stroke="#000" stroke-width="0.06" stroke-linejoin="round">0.7</text>
<text transform="matrix(12.2712 -11.9158 2.0446 13.6367 1276.78 887.69)" font-size="1" text-anchor="end" fill="#000" font-weight="normal" y="0.36"  stroke="#000" stroke-width="0.06" stroke-linejoin="round">0.8</text>
<text transform="matrix(12.5185 -11.9284 2.1177 14.1244 1273.2 863.76)" font-size="1" text-anchor="end" fill="#000" font-weight="normal" y="0.36"  stroke="#000" stroke-width="0.06" stroke-linejoin="round">0.9</text>
<text transform="matrix(12.7758 -11.9342 2.1948 14.6388 1269.48 838.97)" font-size="1" text-anchor="end" fill="#000" font-weight="normal" y="0.36"  stroke="#000" stroke-width="0.06" stroke-linejoin="round">1.0</text>
<text transform="matrix(17.4728 9.9905 -12.5902 15.7230 1371.9 1187)" font-size="1" text-anchor="middle" fill="#000" font-weight="bold" y="0.36" >kernel</text>
<text transform="matrix(9.2222 -14.0823 18.1271 8.9728 1689 1095)" font-size="1" text-anchor="middle" fill="#000" font-weight="bold" y="0.36" >C</text>
<text transform="matrix(2.5717 14.3779 -13.8328 14.0911 1254.6 982)" font-size="1" text-anchor="middle" fill="#000" font-weight="normal" y="0.36"  stroke="#000" stroke-width="0.045" stroke-linejoin="round">Validation Accuracy</text>
</g>
<g font-family='"Liberation Sans", Arial, sans-serif' font-style="normal">
<polygon points="1456.52,886.83 1507.34,910.56 1510.8,747.31 1453.78,723.47" fill="#2F3CE1" stroke="#2F3CE1" stroke-width="0.6"/>
<polygon points="1507.34,910.56 1517.5,898.73 1522.17,735.5 1510.8,747.31" fill="#1D258C" stroke="#1D258C" stroke-width="0.6"/>
<polygon points="1453.78,723.47 1510.8,747.31 1522.17,735.5 1465.46,712.06" fill="#252FB0" stroke="#252FB0" stroke-width="0.6"/>
<text transform="matrix(17.6890 7.3551 -11.2941 11.3746 1487.84 729.46)" font-size="1" text-anchor="middle" fill="#fff" font-weight="normal" y="0.36"  stroke="#fff" stroke-width="0.055" stroke-linejoin="round">0.786</text>
<polygon points="1513.08,913.24 1565.65,937.79 1576.49,774.79 1517.26,750.01" fill="#2F3CE1" stroke="#2F3CE1" stroke-width="0.6"/>
<polygon points="1565.65,937.79 1575.51,925.53 1587.48,762.5 1576.49,774.79" fill="#1D258C" stroke="#1D258C" stroke-width="0.6"/>
<polygon points="1517.26,750.01 1576.49,774.79 1587.48,762.5 1528.59,738.15" fill="#252FB0" stroke="#252FB0" stroke-width="0.6"/>
<text transform="matrix(18.3738 7.6398 -10.9379 11.8308 1552.22 756.23)" font-size="1" text-anchor="middle" fill="#fff" font-weight="normal" y="0.36"  stroke="#fff" stroke-width="0.055" stroke-linejoin="round">0.786</text>
<polygon points="1571.59,940.56 1626.01,965.98 1642.87,819.96 1582.02,794.21" fill="#2F3CE1" stroke="#2F3CE1" stroke-width="0.6"/>
<polygon points="1626.01,965.98 1635.54,953.28 1653.33,807.16 1642.87,819.96" fill="#1D258C" stroke="#1D258C" stroke-width="0.6"/>
<polygon points="1582.02,794.21 1642.87,819.96 1653.33,807.16 1592.85,781.86" fill="#252FB0" stroke="#252FB0" stroke-width="0.6"/>
<text transform="matrix(18.8722 7.9405 -10.4388 12.3226 1617.53 800.66)" font-size="1" text-anchor="middle" fill="#fff" font-weight="normal" y="0.36"  stroke="#fff" stroke-width="0.055" stroke-linejoin="round">0.714</text>
<polygon points="1632.16,968.85 1688.53,995.17 1702.6,911.65 1642.27,885" fill="#00B2AD" stroke="#00B2AD" stroke-width="0.6"/>
<polygon points="1688.53,995.17 1697.7,982 1712.26,898.35 1702.6,911.65" fill="#006E6B" stroke="#006E6B" stroke-width="0.6"/>
<polygon points="1642.27,885 1702.6,911.65 1712.26,898.35 1652.3,872.15" fill="#008B87" stroke="#008B87" stroke-width="0.6"/>
<text transform="matrix(18.7100 8.2198 -9.6544 12.8066 1677.13 891.64)" font-size="1" text-anchor="middle" fill="#fff" font-weight="normal" y="0.36"  stroke="#fff" stroke-width="0.055" stroke-linejoin="round">0.429</text>
<polygon points="1435.21,910.31 1486.52,934.8 1487.17,820.16 1431.41,795.47" fill="#9098EC" stroke="#9098EC" stroke-width="0.6"/>
<polygon points="1486.52,934.8 1497.01,922.58 1498.57,807.89 1487.17,820.16" fill="#595E92" stroke="#595E92" stroke-width="0.6"/>
<polygon points="1431.41,795.47 1487.17,820.16 1498.57,807.89 1443.1,783.61" fill="#7077B8" stroke="#7077B8" stroke-width="0.6"/>
<text transform="matrix(17.3015 7.6180 -11.3204 11.8227 1464.86 801.65)" font-size="1" text-anchor="middle" fill="#fff" font-weight="normal" y="0.36"  stroke="#fff" stroke-width="0.055" stroke-linejoin="round">0.571</text>
<polygon points="1492.32,937.56 1545.44,962.91 1554.77,783.28 1494.14,757.61" fill="#FF00FF" stroke="#FF00FF" stroke-width="0.6"/>
<polygon points="1545.44,962.91 1555.63,950.24 1566.3,770.54 1554.77,783.28" fill="#9E009E" stroke="#9E009E" stroke-width="0.6"/>
<polygon points="1494.14,757.61 1554.77,783.28 1566.3,770.54 1506.02,745.33" fill="#C700C7" stroke="#C700C7" stroke-width="0.6"/>
<text transform="matrix(18.8065 7.9139 -11.4715 12.2600 1530.07 764.05)" font-size="1" text-anchor="middle" fill="#fff" font-weight="normal" y="0.36"  stroke="#fff" stroke-width="0.055" stroke-linejoin="round">0.857</text>
<polygon points="1551.44,965.77 1606.46,992.02 1623.05,829.68 1560.69,802.97" fill="#2F3CE1" stroke="#2F3CE1" stroke-width="0.6"/>
<polygon points="1606.46,992.02 1616.32,978.89 1634.02,816.39 1623.05,829.68" fill="#1D258C" stroke="#1D258C" stroke-width="0.6"/>
<polygon points="1560.69,802.97 1623.05,829.68 1634.02,816.39 1572.05,790.17" fill="#252FB0" stroke="#252FB0" stroke-width="0.6"/>
<text transform="matrix(19.3370 8.2339 -10.9464 12.7832 1597.2 809.65)" font-size="1" text-anchor="middle" fill="#fff" font-weight="normal" y="0.36"  stroke="#fff" stroke-width="0.055" stroke-linejoin="round">0.786</text>
<polygon points="1612.68,994.99 1669.7,1022.19 1680.43,953.73 1620.07,926.19" fill="#38C9A0" stroke="#38C9A0" stroke-width="0.6"/>
<polygon points="1669.7,1022.19 1679.19,1008.57 1690.36,939.97 1680.43,953.73" fill="#237D63" stroke="#237D63" stroke-width="0.6"/>
<polygon points="1620.07,926.19 1680.43,953.73 1690.36,939.97 1630.37,912.89" fill="#2C9D7D" stroke="#2C9D7D" stroke-width="0.6"/>
<text transform="matrix(18.7191 8.4951 -9.9135 13.2572 1655.07 933.05)" font-size="1" text-anchor="middle" fill="#fff" font-weight="normal" y="0.36"  stroke="#fff" stroke-width="0.055" stroke-linejoin="round">0.357</text>
<polygon points="1413.2,934.57 1465.02,959.84 1463.75,845.38 1407.39,819.82" fill="#9098EC" stroke="#9098EC" stroke-width="0.6"/>
<polygon points="1465.02,959.84 1475.86,947.22 1475.56,832.66 1463.75,845.38" fill="#595E92" stroke="#595E92" stroke-width="0.6"/>
<polygon points="1407.39,819.82 1463.75,845.38 1475.56,832.66 1419.5,807.53" fill="#7077B8" stroke="#7077B8" stroke-width="0.6"/>
<text transform="matrix(17.4863 7.8837 -11.7282 12.2486 1441.34 826.21)" font-size="1" text-anchor="middle" fill="#fff" font-weight="normal" y="0.36"  stroke="#fff" stroke-width="0.055" stroke-linejoin="round">0.571</text>
<polygon points="1470.88,962.7 1524.54,988.88 1531.06,809.51 1469.7,782.88" fill="#FF00FF" stroke="#FF00FF" stroke-width="0.6"/>
<polygon points="1524.54,988.88 1535.08,975.78 1543.03,796.27 1531.06,809.51" fill="#9E009E" stroke="#9E009E" stroke-width="0.6"/>
<polygon points="1469.7,782.88 1531.06,809.51 1543.03,796.27 1482.04,770.12" fill="#C700C7" stroke="#C700C7" stroke-width="0.6"/>
<text transform="matrix(19.0305 8.2084 -11.9129 12.7317 1506.21 789.54)" font-size="1" text-anchor="middle" fill="#fff" font-weight="normal" y="0.36"  stroke="#fff" stroke-width="0.055" stroke-linejoin="round">0.857</text>
<polygon points="1530.61,991.84 1586.23,1018.96 1600.46,857.04 1537.32,829.32" fill="#2F3CE1" stroke="#2F3CE1" stroke-width="0.6"/>
<polygon points="1586.23,1018.96 1596.43,1005.38 1611.86,843.23 1600.46,857.04" fill="#1D258C" stroke="#1D258C" stroke-width="0.6"/>
<polygon points="1537.32,829.32 1600.46,857.04 1611.86,843.23 1549.12,816.02" fill="#252FB0" stroke="#252FB0" stroke-width="0.6"/>
<text transform="matrix(19.5792 8.5433 -11.3712 13.2793 1574.43 836.24)" font-size="1" text-anchor="middle" fill="#fff" font-weight="normal" y="0.36"  stroke="#fff" stroke-width="0.055" stroke-linejoin="round">0.786</text>
<polygon points="1592.53,1022.03 1650.21,1050.16 1664.27,952.51 1601.68,923.83" fill="#9098EC" stroke="#9098EC" stroke-width="0.6"/>
<polygon points="1650.21,1050.16 1660.04,1036.06 1674.77,938.17 1664.27,952.51" fill="#595E92" stroke="#595E92" stroke-width="0.6"/>
<polygon points="1601.68,923.83 1664.27,952.51 1674.77,938.17 1612.57,910.01" fill="#7077B8" stroke="#7077B8" stroke-width="0.6"/>
<text transform="matrix(19.4096 8.8396 -10.4848 13.7938 1638.07 930.97)" font-size="1" text-anchor="middle" fill="#fff" font-weight="normal" y="0.36"  stroke="#fff" stroke-width="0.055" stroke-linejoin="round">0.500</text>
<polygon points="1390.46,959.63 1442.79,985.74 1439.47,871.52 1382.5,845.05" fill="#9098EC" stroke="#9098EC" stroke-width="0.6"/>
<polygon points="1442.79,985.74 1453.99,972.68 1451.72,858.33 1439.47,871.52" fill="#595E92" stroke="#595E92" stroke-width="0.6"/>
<polygon points="1382.5,845.05 1439.47,871.52 1451.72,858.33 1395.06,832.32" fill="#7077B8" stroke="#7077B8" stroke-width="0.6"/>
<text transform="matrix(17.6732 8.1638 -12.1586 12.6980 1416.97 851.66)" font-size="1" text-anchor="middle" fill="#fff" font-weight="normal" y="0.36"  stroke="#fff" stroke-width="0.055" stroke-linejoin="round">0.571</text>
<polygon points="1448.7,988.69 1502.93,1015.74 1506.41,836.77 1444.32,809.12" fill="#FF00FF" stroke="#FF00FF" stroke-width="0.6"/>
<polygon points="1502.93,1015.74 1513.83,1002.19 1518.86,823 1506.41,836.77" fill="#9E009E" stroke="#9E009E" stroke-width="0.6"/>
<polygon points="1444.32,809.12 1506.41,836.77 1518.86,823 1457.13,795.87" fill="#C700C7" stroke="#C700C7" stroke-width="0.6"/>
<text transform="matrix(19.2578 8.5201 -12.3803 13.2313 1481.43 816.03)" font-size="1" text-anchor="middle" fill="#fff" font-weight="normal" y="0.36"  stroke="#fff" stroke-width="0.055" stroke-linejoin="round">0.857</text>
<polygon points="1509.07,1018.8 1565.3,1046.85 1575.77,902.06 1512.63,873.32" fill="#2F3CE1" stroke="#2F3CE1" stroke-width="0.6"/>
<polygon points="1565.3,1046.85 1575.86,1032.78 1587.5,887.71 1575.77,902.06" fill="#1D258C" stroke="#1D258C" stroke-width="0.6"/>
<polygon points="1512.63,873.32 1575.77,902.06 1587.5,887.71 1524.75,859.5" fill="#252FB0" stroke="#252FB0" stroke-width="0.6"/>
<text transform="matrix(19.5812 8.8586 -11.6866 13.7955 1549.9 880.48)" font-size="1" text-anchor="middle" fill="#fff" font-weight="normal" y="0.36"  stroke="#fff" stroke-width="0.055" stroke-linejoin="round">0.714</text>
<polygon points="1571.67,1050.02 1630.02,1079.13 1642.67,982.01 1579.28,952.26" fill="#9098EC" stroke="#9098EC" stroke-width="0.6"/>
<polygon points="1630.02,1079.13 1640.2,1064.52 1653.57,967.12 1642.67,982.01" fill="#595E92" stroke="#595E92" stroke-width="0.6"/>
<polygon points="1579.28,952.26 1642.67,982.01 1653.57,967.12 1590.59,937.91" fill="#7077B8" stroke="#7077B8" stroke-width="0.6"/>
<text transform="matrix(19.6567 9.1699 -10.8884 14.3248 1616.27 959.66)" font-size="1" text-anchor="middle" fill="#fff" font-weight="normal" y="0.36"  stroke="#fff" stroke-width="0.055" stroke-linejoin="round">0.500</text>
<polygon points="1366.95,985.54 1419.79,1012.52 1414.27,898.65 1356.7,871.21" fill="#9098EC" stroke="#9098EC" stroke-width="0.6"/>
<polygon points="1419.79,1012.52 1431.39,999.01 1426.98,884.96 1414.27,898.65" fill="#595E92" stroke="#595E92" stroke-width="0.6"/>
<polygon points="1356.7,871.21 1414.27,898.65 1426.98,884.96 1369.72,858.01" fill="#7077B8" stroke="#7077B8" stroke-width="0.6"/>
<text transform="matrix(17.8621 8.4595 -12.6130 13.1726 1391.7 878.06)" font-size="1" text-anchor="middle" fill="#fff" font-weight="normal" y="0.36"  stroke="#fff" stroke-width="0.055" stroke-linejoin="round">0.571</text>
<polygon points="1425.77,1015.57 1480.56,1043.54 1480.77,865.12 1417.94,836.4" fill="#FF00FF" stroke="#FF00FF" stroke-width="0.6"/>
<polygon points="1480.56,1043.54 1491.85,1029.52 1493.72,850.8 1480.77,865.12" fill="#9E009E" stroke="#9E009E" stroke-width="0.6"/>
<polygon points="1417.94,836.4 1480.77,865.12 1493.72,850.8 1431.26,822.63" fill="#C700C7" stroke="#C700C7" stroke-width="0.6"/>
<text transform="matrix(19.4885 8.8502 -12.8758 13.7608 1455.66 843.57)" font-size="1" text-anchor="middle" fill="#fff" font-weight="normal" y="0.36"  stroke="#fff" stroke-width="0.055" stroke-linejoin="round">0.857</text>
<polygon points="1486.77,1046.7 1543.62,1075.72 1550.74,947.53 1487.59,917.73" fill="#FBC011" stroke="#FBC011" stroke-width="0.6"/>
<polygon points="1543.62,1075.72 1554.56,1061.16 1562.79,932.63 1550.74,947.53" fill="#9C770B" stroke="#9C770B" stroke-width="0.6"/>
<polygon points="1487.59,917.73 1550.74,947.53 1562.79,932.63 1500.03,903.39" fill="#C4960D" stroke="#C4960D" stroke-width="0.6"/>
<text transform="matrix(19.5845 9.1826 -12.0119 14.3258 1525.03 925.15)" font-size="1" text-anchor="middle" fill="#fff" font-weight="normal" y="0.36"  stroke="#fff" stroke-width="0.055" stroke-linejoin="round">0.643</text>
<polygon points="1550.06,1079.01 1609.1,1109.15 1620.21,1012.68 1556.01,981.79" fill="#9098EC" stroke="#9098EC" stroke-width="0.6"/>
<polygon points="1609.1,1109.15 1619.66,1094 1631.55,997.2 1620.21,1012.68" fill="#595E92" stroke="#595E92" stroke-width="0.6"/>
<polygon points="1556.01,981.79 1620.21,1012.68 1631.55,997.2 1567.76,966.88" fill="#7077B8" stroke="#7077B8" stroke-width="0.6"/>
<text transform="matrix(19.9085 9.5194 -11.3158 14.8870 1593.61 989.46)" font-size="1" text-anchor="middle" fill="#fff" font-weight="normal" y="0.36"  stroke="#fff" stroke-width="0.055" stroke-linejoin="round">0.500</text>
<polygon points="1342.63,1012.34 1395.99,1040.23 1388.11,926.81 1329.93,898.36" fill="#9098EC" stroke="#9098EC" stroke-width="0.6"/>
<polygon points="1395.99,1040.23 1407.99,1026.25 1401.31,912.6 1388.11,926.81" fill="#595E92" stroke="#595E92" stroke-width="0.6"/>
<polygon points="1329.93,898.36 1388.11,926.81 1401.31,912.6 1343.44,884.66" fill="#7077B8" stroke="#7077B8" stroke-width="0.6"/>
<text transform="matrix(18.0527 8.7719 -13.0934 13.6743 1365.47 905.45)" font-size="1" text-anchor="middle" fill="#fff" font-weight="normal" y="0.36"  stroke="#fff" stroke-width="0.055" stroke-linejoin="round">0.571</text>
<polygon points="1402.03,1043.39 1457.4,1072.33 1454.08,894.64 1390.49,864.78" fill="#FF00FF" stroke="#FF00FF" stroke-width="0.6"/>
<polygon points="1457.4,1072.33 1469.08,1057.8 1467.56,879.73 1454.08,894.64" fill="#9E009E" stroke="#9E009E" stroke-width="0.6"/>
<polygon points="1390.49,864.78 1454.08,894.64 1467.56,879.73 1404.35,850.45" fill="#C700C7" stroke="#C700C7" stroke-width="0.6"/>
<text transform="matrix(19.7222 9.2004 -13.4016 14.3228 1428.85 872.22)" font-size="1" text-anchor="middle" fill="#fff" font-weight="normal" y="0.36"  stroke="#fff" stroke-width="0.055" stroke-linejoin="round">0.857</text>
<polygon points="1463.67,1075.6 1521.16,1105.65 1525.89,978.24 1461.95,947.27" fill="#FBC011" stroke="#FBC011" stroke-width="0.6"/>
<polygon points="1521.16,1105.65 1532.49,1090.55 1538.43,962.73 1525.89,978.24" fill="#9C770B" stroke="#9C770B" stroke-width="0.6"/>
<polygon points="1461.95,947.27 1525.89,978.24 1538.43,962.73 1474.9,932.36" fill="#C4960D" stroke="#C4960D" stroke-width="0.6"/>
<text transform="matrix(19.8270 9.5407 -12.4946 14.9014 1500.02 954.97)" font-size="1" text-anchor="middle" fill="#fff" font-weight="normal" y="0.36"  stroke="#fff" stroke-width="0.055" stroke-linejoin="round">0.643</text>
<polygon points="1527.67,1109.05 1587.41,1140.27 1596.85,1044.59 1531.82,1012.49" fill="#9098EC" stroke="#9098EC" stroke-width="0.6"/>
<polygon points="1587.41,1140.27 1598.36,1124.57 1608.65,1028.48 1596.85,1044.59" fill="#595E92" stroke="#595E92" stroke-width="0.6"/>
<polygon points="1531.82,1012.49 1596.85,1044.59 1608.65,1028.48 1544.03,996.99" fill="#7077B8" stroke="#7077B8" stroke-width="0.6"/>
<text transform="matrix(20.1651 9.8896 -11.7688 15.4830 1570.06 1020.44)" font-size="1" text-anchor="middle" fill="#fff" font-weight="normal" y="0.36"  stroke="#fff" stroke-width="0.055" stroke-linejoin="round">0.500</text>
<polygon points="1317.46,1040.08 1371.35,1068.94 1363.71,986.13 1306.21,956.74" fill="#00B2AD" stroke="#00B2AD" stroke-width="0.6"/>
<polygon points="1371.35,1068.94 1383.78,1054.46 1377.08,971.42 1363.71,986.13" fill="#006E6B" stroke="#006E6B" stroke-width="0.6"/>
<polygon points="1306.21,956.74 1363.71,986.13 1377.08,971.42 1319.88,942.56" fill="#008B87" stroke="#008B87" stroke-width="0.6"/>
<text transform="matrix(17.8411 9.0592 -13.2571 14.1543 1341.49 964.05)" font-size="1" text-anchor="middle" fill="#fff" font-weight="normal" y="0.36"  stroke="#fff" stroke-width="0.055" stroke-linejoin="round">0.429</text>
<polygon points="1377.45,1072.2 1433.4,1102.16 1427.61,958.62 1364.83,927.68" fill="#2F3CE1" stroke="#2F3CE1" stroke-width="0.6"/>
<polygon points="1433.4,1102.16 1445.51,1087.11 1441.29,943.14 1427.61,958.62" fill="#1D258C" stroke="#1D258C" stroke-width="0.6"/>
<polygon points="1364.83,927.68 1427.61,958.62 1441.29,943.14 1378.88,912.8" fill="#252FB0" stroke="#252FB0" stroke-width="0.6"/>
<text transform="matrix(19.4724 9.5316 -13.5928 14.8761 1402.89 935.37)" font-size="1" text-anchor="middle" fill="#fff" font-weight="normal" y="0.36"  stroke="#fff" stroke-width="0.055" stroke-linejoin="round">0.714</text>
<polygon points="1439.73,1105.55 1497.87,1136.68 1498.08,1124.01 1439.29,1092.75" fill="#C0C0C0" stroke="#C0C0C0" stroke-width="0.6"/>
<polygon points="1497.87,1136.68 1509.62,1121.02 1509.97,1108.29 1498.08,1124.01" fill="#777777" stroke="#777777" stroke-width="0.6"/>
<polygon points="1439.29,1092.75 1498.08,1124.01 1509.97,1108.29 1451.5,1077.59" fill="#969696" stroke="#969696" stroke-width="0.6"/>
<text transform="matrix(18.2396 9.6374 -11.8128 15.1279 1474.48 1100.49)" font-size="1" text-anchor="middle" fill="#fff" font-weight="normal" y="0.36"  stroke="#fff" stroke-width="0.055" stroke-linejoin="round">0.071</text>
<polygon points="1504.45,1140.21 1564.9,1172.58 1571.37,1092.27 1506.32,1059.03" fill="#00B2AD" stroke="#00B2AD" stroke-width="0.6"/>
<polygon points="1564.9,1172.58 1576.26,1156.27 1583.51,1075.56 1571.37,1092.27" fill="#006E6B" stroke="#006E6B" stroke-width="0.6"/>
<polygon points="1506.32,1059.03 1571.37,1092.27 1583.51,1075.56 1518.88,1042.95" fill="#008B87" stroke="#008B87" stroke-width="0.6"/>
<text transform="matrix(20.1703 10.2420 -12.1069 16.0599 1544.74 1067.25)" font-size="1" text-anchor="middle" fill="#fff" font-weight="normal" y="0.36"  stroke="#fff" stroke-width="0.055" stroke-linejoin="round">0.429</text>
</g>
<text x="1239" y="692" font-family='"Liberation Sans", Arial, sans-serif' font-weight="bold" font-size="36.7">f</text></g>
<g><g font-family='"Liberation Sans", Arial, sans-serif'>
<line x1="124.79" y1="1730.33" x2="326.98" y2="1548.11" stroke="#DADADA" stroke-width="1.3" stroke-linecap="butt"/>
<line x1="202.35" y1="1787.88" x2="402.62" y2="1595.76" stroke="#DADADA" stroke-width="1.3" stroke-linecap="butt"/>
<line x1="284.39" y1="1848.77" x2="482.21" y2="1645.91" stroke="#DADADA" stroke-width="1.3" stroke-linecap="butt"/>
<line x1="103.37" y1="1688.9" x2="342.6" y2="1864.21" stroke="#DADADA" stroke-width="1.3" stroke-linecap="butt"/>
<line x1="134.3" y1="1661.84" x2="372.69" y2="1832.25" stroke="#DADADA" stroke-width="1.3" stroke-linecap="butt"/>
<line x1="164.42" y1="1635.5" x2="401.91" y2="1801.22" stroke="#DADADA" stroke-width="1.3" stroke-linecap="butt"/>
<line x1="193.74" y1="1609.85" x2="430.3" y2="1771.07" stroke="#DADADA" stroke-width="1.3" stroke-linecap="butt"/>
<line x1="222.3" y1="1584.87" x2="457.89" y2="1741.76" stroke="#DADADA" stroke-width="1.3" stroke-linecap="butt"/>
<line x1="250.13" y1="1560.53" x2="484.72" y2="1713.27" stroke="#DADADA" stroke-width="1.3" stroke-linecap="butt"/>
<line x1="277.25" y1="1536.8" x2="510.81" y2="1685.56" stroke="#DADADA" stroke-width="1.3" stroke-linecap="butt"/>
<polyline points="87.58,1702.71 290.56,1525.16 523.59,1671.98" fill="none" stroke="#9E9E9E" stroke-width="1.3" stroke-linejoin="miter" stroke-linecap="square"/>
<polyline points="84.28,1684.08 290.42,1505.68 527.01,1653.17" fill="none" stroke="#9E9E9E" stroke-width="1.3" stroke-linejoin="miter" stroke-linecap="square"/>
<polyline points="80.88,1664.85 290.29,1485.64 530.53,1633.78" fill="none" stroke="#9E9E9E" stroke-width="1.3" stroke-linejoin="miter" stroke-linecap="square"/>
<polyline points="77.38,1645.02 290.15,1465.02 534.17,1613.77" fill="none" stroke="#9E9E9E" stroke-width="1.3" stroke-linejoin="miter" stroke-linecap="square"/>
<polyline points="73.75,1624.54 290,1443.79 537.92,1593.12" fill="none" stroke="#9E9E9E" stroke-width="1.3" stroke-linejoin="miter" stroke-linecap="square"/>
<polyline points="70.01,1603.37 289.85,1421.92 541.79,1571.8" fill="none" stroke="#9E9E9E" stroke-width="1.3" stroke-linejoin="miter" stroke-linecap="square"/>
<polyline points="66.14,1581.5 289.7,1399.39 545.79,1549.77" fill="none" stroke="#9E9E9E" stroke-width="1.3" stroke-linejoin="miter" stroke-linecap="square"/>
<polyline points="62.14,1558.88 289.54,1376.16 549.92,1527.01" fill="none" stroke="#9E9E9E" stroke-width="1.3" stroke-linejoin="miter" stroke-linecap="square"/>
<polyline points="58,1535.47 289.38,1352.2 554.2,1503.46" fill="none" stroke="#9E9E9E" stroke-width="1.3" stroke-linejoin="miter" stroke-linecap="square"/>
<polyline points="53.71,1511.23 289.21,1327.48 558.62,1479.1" fill="none" stroke="#9E9E9E" stroke-width="1.3" stroke-linejoin="miter" stroke-linecap="square"/>
<line x1="103.37" y1="1688.9" x2="68.19" y2="1471.59" stroke="#9E9E9E" stroke-width="1.3" stroke-linecap="butt"/>
<line x1="134.3" y1="1661.84" x2="105.14" y2="1443.21" stroke="#9E9E9E" stroke-width="1.3" stroke-linecap="butt"/>
<line x1="164.42" y1="1635.5" x2="140.92" y2="1415.72" stroke="#9E9E9E" stroke-width="1.3" stroke-linecap="butt"/>
<line x1="193.74" y1="1609.85" x2="175.61" y2="1389.08" stroke="#9E9E9E" stroke-width="1.3" stroke-linecap="butt"/>
<line x1="222.3" y1="1584.87" x2="209.25" y2="1363.24" stroke="#9E9E9E" stroke-width="1.3" stroke-linecap="butt"/>
<line x1="250.13" y1="1560.53" x2="241.88" y2="1338.18" stroke="#9E9E9E" stroke-width="1.3" stroke-linecap="butt"/>
<line x1="277.25" y1="1536.8" x2="273.55" y2="1313.85" stroke="#9E9E9E" stroke-width="1.3" stroke-linecap="butt"/>
<line x1="326.98" y1="1548.11" x2="331.42" y2="1325.44" stroke="#9E9E9E" stroke-width="1.3" stroke-linecap="butt"/>
<line x1="402.62" y1="1595.76" x2="419.99" y2="1374.51" stroke="#9E9E9E" stroke-width="1.3" stroke-linecap="butt"/>
<line x1="482.21" y1="1645.91" x2="514" y2="1426.6" stroke="#9E9E9E" stroke-width="1.3" stroke-linecap="butt"/>
<line x1="290.56" y1="1525.16" x2="289.04" y2="1301.96" stroke="#9E9E9E" stroke-width="1.3" stroke-linecap="butt"/>
<polyline points="49.27,1486.12 289.04,1301.96 563.21,1453.87 523.59,1671.98" fill="none" stroke="#000" stroke-width="2.34" stroke-linejoin="miter" stroke-linecap="square"/>
<polyline points="49.27,1486.12 87.58,1702.71 327.22,1880.55 523.59,1671.98" fill="none" stroke="#000" stroke-width="3.0" stroke-linejoin="miter" stroke-linecap="square"/>
<line x1="124.79" y1="1730.33" x2="118.34" y2="1736.14" stroke="#000" stroke-width="2.6" stroke-linecap="butt"/>
<line x1="202.35" y1="1787.88" x2="195.94" y2="1794.03" stroke="#000" stroke-width="2.6" stroke-linecap="butt"/>
<line x1="284.39" y1="1848.77" x2="278.04" y2="1855.28" stroke="#000" stroke-width="2.6" stroke-linecap="butt"/>
<line x1="342.6" y1="1864.21" x2="350.16" y2="1869.75" stroke="#000" stroke-width="2.6" stroke-linecap="butt"/>
<line x1="372.69" y1="1832.25" x2="380.22" y2="1837.63" stroke="#000" stroke-width="2.6" stroke-linecap="butt"/>
<line x1="401.91" y1="1801.22" x2="409.4" y2="1806.45" stroke="#000" stroke-width="2.6" stroke-linecap="butt"/>
<line x1="430.3" y1="1771.07" x2="437.75" y2="1776.15" stroke="#000" stroke-width="2.6" stroke-linecap="butt"/>
<line x1="457.89" y1="1741.76" x2="465.3" y2="1746.7" stroke="#000" stroke-width="2.6" stroke-linecap="butt"/>
<line x1="484.72" y1="1713.27" x2="492.09" y2="1718.07" stroke="#000" stroke-width="2.6" stroke-linecap="butt"/>
<line x1="510.81" y1="1685.56" x2="518.15" y2="1690.23" stroke="#000" stroke-width="2.6" stroke-linecap="butt"/>
<line x1="87.58" y1="1702.71" x2="82.11" y2="1707.49" stroke="#000" stroke-width="2.6" stroke-linecap="butt"/>
<line x1="84.28" y1="1684.08" x2="78.73" y2="1688.89" stroke="#000" stroke-width="2.6" stroke-linecap="butt"/>
<line x1="80.88" y1="1664.85" x2="75.23" y2="1669.69" stroke="#000" stroke-width="2.6" stroke-linecap="butt"/>
<line x1="77.38" y1="1645.02" x2="71.62" y2="1649.89" stroke="#000" stroke-width="2.6" stroke-linecap="butt"/>
<line x1="73.75" y1="1624.54" x2="67.9" y2="1629.43" stroke="#000" stroke-width="2.6" stroke-linecap="butt"/>
<line x1="70.01" y1="1603.37" x2="64.05" y2="1608.3" stroke="#000" stroke-width="2.6" stroke-linecap="butt"/>
<line x1="66.14" y1="1581.5" x2="60.07" y2="1586.45" stroke="#000" stroke-width="2.6" stroke-linecap="butt"/>
<line x1="62.14" y1="1558.88" x2="55.95" y2="1563.85" stroke="#000" stroke-width="2.6" stroke-linecap="butt"/>
<line x1="58" y1="1535.47" x2="51.69" y2="1540.47" stroke="#000" stroke-width="2.6" stroke-linecap="butt"/>
<line x1="53.71" y1="1511.23" x2="47.28" y2="1516.25" stroke="#000" stroke-width="2.6" stroke-linecap="butt"/>
<line x1="49.27" y1="1486.12" x2="42.71" y2="1491.16" stroke="#000" stroke-width="2.6" stroke-linecap="butt"/>
<text transform="matrix(12.3034 -11.0879 12.4564 9.3104 115.88 1738.36)" font-size="1" text-anchor="end" fill="#000" font-weight="bold" y="0.36" >1</text>
<text transform="matrix(12.2195 -11.7225 13.1686 9.8428 193.5 1796.38)" font-size="1" text-anchor="end" fill="#000" font-weight="bold" y="0.36" >2</text>
<text transform="matrix(12.1050 -12.4131 13.9438 10.4221 275.62 1857.76)" font-size="1" text-anchor="end" fill="#000" font-weight="bold" y="0.36" >3</text>
<text transform="matrix(14.4118 10.5611 -11.7373 12.5787 353.56 1872.25)" font-size="1" text-anchor="start" fill="#000" font-weight="bold" y="0.36" >1</text>
<text transform="matrix(14.3424 10.2529 -11.3945 12.2113 383.6 1840.05)" font-size="1" text-anchor="start" fill="#000" font-weight="bold" y="0.36" >5</text>
<text transform="matrix(14.2709 9.9580 -11.0665 11.8598 412.77 1808.8)" font-size="1" text-anchor="start" fill="#000" font-weight="bold" y="0.36" >10</text>
<text transform="matrix(14.1976 9.6756 -10.7524 11.5233 441.1 1778.43)" font-size="1" text-anchor="start" fill="#000" font-weight="bold" y="0.36" >15</text>
<text transform="matrix(14.1228 9.4051 -10.4516 11.2008 468.64 1748.92)" font-size="1" text-anchor="start" fill="#000" font-weight="bold" y="0.36" >20</text>
<text transform="matrix(14.0466 9.1458 -10.1632 10.8918 495.41 1720.23)" font-size="1" text-anchor="start" fill="#000" font-weight="bold" y="0.36" >25</text>
<text transform="matrix(13.9693 8.8971 -9.8865 10.5953 521.44 1692.33)" font-size="1" text-anchor="start" fill="#000" font-weight="bold" y="0.36" >30</text>
<text transform="matrix(12.9980 -11.3695 1.9603 10.6172 79.54 1709.74)" font-size="1" text-anchor="end" fill="#000" font-weight="normal" y="0.36"  stroke="#000" stroke-width="0.06" stroke-linejoin="round">0.0</text>
<text transform="matrix(13.2200 -11.4406 2.0219 10.9504 76.11 1691.15)" font-size="1" text-anchor="end" fill="#000" font-weight="normal" y="0.36"  stroke="#000" stroke-width="0.06" stroke-linejoin="round">0.1</text>
<text transform="matrix(13.4496 -11.5106 2.0863 11.2996 72.57 1671.97)" font-size="1" text-anchor="end" fill="#000" font-weight="normal" y="0.36"  stroke="#000" stroke-width="0.06" stroke-linejoin="round">0.2</text>
<text transform="matrix(13.6873 -11.5791 2.1540 11.6658 68.91 1652.18)" font-size="1" text-anchor="end" fill="#000" font-weight="normal" y="0.36"  stroke="#000" stroke-width="0.06" stroke-linejoin="round">0.3</text>
<text transform="matrix(13.9335 -11.6460 2.2249 12.0501 65.14 1631.74)" font-size="1" text-anchor="end" fill="#000" font-weight="normal" y="0.36"  stroke="#000" stroke-width="0.06" stroke-linejoin="round">0.4</text>
<text transform="matrix(14.1886 -11.7111 2.2994 12.4537 61.24 1610.62)" font-size="1" text-anchor="end" fill="#000" font-weight="normal" y="0.36"  stroke="#000" stroke-width="0.06" stroke-linejoin="round">0.5</text>
<text transform="matrix(14.4531 -11.7739 2.3777 12.8779 57.21 1588.78)" font-size="1" text-anchor="end" fill="#000" font-weight="normal" y="0.36"  stroke="#000" stroke-width="0.06" stroke-linejoin="round">0.6</text>
<text transform="matrix(14.7276 -11.8341 2.4601 13.3241 53.04 1566.2)" font-size="1" text-anchor="end" fill="#000" font-weight="normal" y="0.36"  stroke="#000" stroke-width="0.06" stroke-linejoin="round">0.7</text>
<text transform="matrix(15.0127 -11.8915 2.5469 13.7940 48.72 1542.82)" font-size="1" text-anchor="end" fill="#000" font-weight="normal" y="0.36"  stroke="#000" stroke-width="0.06" stroke-linejoin="round">0.8</text>
<text transform="matrix(15.3088 -11.9454 2.6383 14.2891 44.25 1518.62)" font-size="1" text-anchor="end" fill="#000" font-weight="normal" y="0.36"  stroke="#000" stroke-width="0.06" stroke-linejoin="round">0.9</text>
<text transform="matrix(15.6168 -11.9955 2.7348 14.8114 39.62 1493.54)" font-size="1" text-anchor="end" fill="#000" font-weight="normal" y="0.36"  stroke="#000" stroke-width="0.06" stroke-linejoin="round">1.0</text>
<text transform="matrix(14.6223 11.0785 -13.7613 13.1943 176 1812)" font-size="1" text-anchor="middle" fill="#000" font-weight="bold" y="0.36" >Random_state</text>
<text transform="matrix(11.8884 -13.0447 16.0422 10.9530 467 1800)" font-size="1" text-anchor="middle" fill="#000" font-weight="bold" y="0.36" >n_estimators</text>
<text transform="matrix(3.1211 14.5620 -16.7483 13.7611 27 1630)" font-size="1" text-anchor="middle" fill="#000" font-weight="normal" y="0.36"  stroke="#000" stroke-width="0.045" stroke-linejoin="round">Validation Accuracy</text>
</g>
<g font-family='"Liberation Sans", Arial, sans-serif' font-style="normal">
<polygon points="274.15,1544.99 340.72,1587.62 346.6,1397.78 270.52,1354" fill="#FF00FF" stroke="#FF00FF" stroke-width="0.6"/>
<polygon points="340.72,1587.62 353.98,1575.34 361.72,1385.14 346.6,1397.78" fill="#9E009E" stroke="#9E009E" stroke-width="0.6"/>
<polygon points="270.52,1354 346.6,1397.78 361.72,1385.14 285.8,1341.99" fill="#C700C7" stroke="#C700C7" stroke-width="0.6"/>
<text transform="matrix(15.8317 9.0547 -13.3011 10.7793 315.7 1369.43)" font-size="1" text-anchor="middle" fill="#F3EEFA" font-weight="normal" y="0.36"  stroke="#F3EEFA" stroke-width="0.03" stroke-linejoin="round">0.875</text>
<polygon points="348.31,1592.48 418.36,1637.34 435.95,1449.21 355.3,1402.79" fill="#FF00FF" stroke="#FF00FF" stroke-width="0.6"/>
<polygon points="418.36,1637.34 431.45,1624.41 450.84,1435.8 435.95,1449.21" fill="#9E009E" stroke="#9E009E" stroke-width="0.6"/>
<polygon points="355.3,1402.79 435.95,1449.21 450.84,1435.8 370.4,1390.08" fill="#C700C7" stroke="#C700C7" stroke-width="0.6"/>
<text transform="matrix(16.7774 9.5956 -13.1203 11.4238 402.62 1419.14)" font-size="1" text-anchor="middle" fill="#F3EEFA" font-weight="normal" y="0.36"  stroke="#F3EEFA" stroke-width="0.03" stroke-linejoin="round">0.875</text>
<polygon points="426.35,1642.46 500.15,1689.72 535.98,1472.49 448.34,1423" fill="#7A1FBD" stroke="#7A1FBD" stroke-width="0.6"/>
<polygon points="500.15,1689.72 513.03,1676.09 550.86,1458.18 535.98,1472.49" fill="#4C1375" stroke="#4C1375" stroke-width="0.6"/>
<polygon points="448.34,1423 535.98,1472.49 550.86,1458.18 463.5,1409.46" fill="#5F1893" stroke="#5F1893" stroke-width="0.6"/>
<text transform="matrix(18.2266 10.2274 -13.1464 12.1764 499.09 1440.41)" font-size="1" text-anchor="middle" fill="#F3EEFA" font-weight="normal" y="0.36"  stroke="#F3EEFA" stroke-width="0.03" stroke-linejoin="round">1.000</text>
<polygon points="246.86,1568.93 313.68,1612.68 316.03,1392.02 238.02,1346.82" fill="#7A1FBD" stroke="#7A1FBD" stroke-width="0.6"/>
<polygon points="313.68,1612.68 327.29,1600.07 331.93,1378.96 316.03,1392.02" fill="#4C1375" stroke="#4C1375" stroke-width="0.6"/>
<polygon points="238.02,1346.82 316.03,1392.02 331.93,1378.96 254.09,1334.44" fill="#5F1893" stroke="#5F1893" stroke-width="0.6"/>
<text transform="matrix(16.2309 9.3449 -13.9885 11.1246 284.53 1362.74)" font-size="1" text-anchor="middle" fill="#F3EEFA" font-weight="normal" y="0.36"  stroke="#F3EEFA" stroke-width="0.03" stroke-linejoin="round">1.000</text>
<polygon points="321.3,1617.67 391.65,1663.73 405.49,1476.65 324.43,1428.8" fill="#FF00FF" stroke="#FF00FF" stroke-width="0.6"/>
<polygon points="391.65,1663.73 405.09,1650.45 420.84,1462.82 405.49,1476.65" fill="#9E009E" stroke="#9E009E" stroke-width="0.6"/>
<polygon points="324.43,1428.8 405.49,1476.65 420.84,1462.82 339.98,1415.7" fill="#C700C7" stroke="#C700C7" stroke-width="0.6"/>
<text transform="matrix(16.8631 9.8908 -13.5243 11.7756 372.17 1445.65)" font-size="1" text-anchor="middle" fill="#F3EEFA" font-weight="normal" y="0.36"  stroke="#F3EEFA" stroke-width="0.03" stroke-linejoin="round">0.875</text>
<polygon points="399.67,1668.98 473.85,1717.55 505.49,1501.82 417.31,1450.72" fill="#7A1FBD" stroke="#7A1FBD" stroke-width="0.6"/>
<polygon points="473.85,1717.55 487.09,1703.54 520.86,1487.04 505.49,1501.82" fill="#4C1375" stroke="#4C1375" stroke-width="0.6"/>
<polygon points="417.31,1450.72 505.49,1501.82 520.86,1487.04 432.95,1436.75" fill="#5F1893" stroke="#5F1893" stroke-width="0.6"/>
<text transform="matrix(18.3398 10.5591 -13.5732 12.5716 468.56 1468.69)" font-size="1" text-anchor="middle" fill="#F3EEFA" font-weight="normal" y="0.36"  stroke="#F3EEFA" stroke-width="0.03" stroke-linejoin="round">1.000</text>
<polygon points="218.86,1593.49 285.92,1638.4 283.48,1418.76 205.16,1372.15" fill="#7A1FBD" stroke="#7A1FBD" stroke-width="0.6"/>
<polygon points="285.92,1638.4 299.89,1625.45 299.88,1405.28 283.48,1418.76" fill="#4C1375" stroke="#4C1375" stroke-width="0.6"/>
<polygon points="205.16,1372.15 283.48,1418.76 299.88,1405.28 221.72,1359.39" fill="#5F1893" stroke="#5F1893" stroke-width="0.6"/>
<text transform="matrix(16.2974 9.6343 -14.4221 11.4694 252.06 1388.55)" font-size="1" text-anchor="middle" fill="#F3EEFA" font-weight="normal" y="0.36"  stroke="#F3EEFA" stroke-width="0.03" stroke-linejoin="round">1.000</text>
<polygon points="293.56,1643.52 364.21,1690.84 374.06,1504.96 292.61,1455.61" fill="#FF00FF" stroke="#FF00FF" stroke-width="0.6"/>
<polygon points="364.21,1690.84 378.02,1677.19 389.9,1490.7 374.06,1504.96" fill="#9E009E" stroke="#9E009E" stroke-width="0.6"/>
<polygon points="292.61,1455.61 374.06,1504.96 389.9,1490.7 308.64,1442.11" fill="#C700C7" stroke="#C700C7" stroke-width="0.6"/>
<text transform="matrix(16.9461 10.1998 -13.9473 12.1439 340.78 1472.98)" font-size="1" text-anchor="middle" fill="#F3EEFA" font-weight="normal" y="0.36"  stroke="#F3EEFA" stroke-width="0.03" stroke-linejoin="round">0.875</text>
<polygon points="372.27,1696.24 446.82,1746.17 473.98,1532.13 385.27,1479.33" fill="#7A1FBD" stroke="#7A1FBD" stroke-width="0.6"/>
<polygon points="446.82,1746.17 460.43,1731.76 489.86,1516.85 473.98,1532.13" fill="#4C1375" stroke="#4C1375" stroke-width="0.6"/>
<polygon points="385.27,1479.33 473.98,1532.13 489.86,1516.85 401.42,1464.91" fill="#5F1893" stroke="#5F1893" stroke-width="0.6"/>
<text transform="matrix(18.4507 10.9072 -14.0211 12.9865 437.03 1497.9)" font-size="1" text-anchor="middle" fill="#F3EEFA" font-weight="normal" y="0.36"  stroke="#F3EEFA" stroke-width="0.03" stroke-linejoin="round">1.000</text>
<polygon points="190.13,1618.7 257.4,1664.82 249.9,1446.34 171.28,1398.26" fill="#7A1FBD" stroke="#7A1FBD" stroke-width="0.6"/>
<polygon points="257.4,1664.82 271.75,1651.52 266.82,1432.44 249.9,1446.34" fill="#4C1375" stroke="#4C1375" stroke-width="0.6"/>
<polygon points="171.28,1398.26 249.9,1446.34 266.82,1432.44 188.35,1385.1" fill="#5F1893" stroke="#5F1893" stroke-width="0.6"/>
<text transform="matrix(16.3602 9.9373 -14.8762 11.8306 218.58 1415.18)" font-size="1" text-anchor="middle" fill="#F3EEFA" font-weight="normal" y="0.36"  stroke="#F3EEFA" stroke-width="0.03" stroke-linejoin="round">1.000</text>
<polygon points="265.07,1670.08 336.01,1718.7 341.63,1534.18 259.79,1483.26" fill="#FF00FF" stroke="#FF00FF" stroke-width="0.6"/>
<polygon points="336.01,1718.7 350.21,1704.68 357.97,1519.46 341.63,1534.18" fill="#9E009E" stroke="#9E009E" stroke-width="0.6"/>
<polygon points="259.79,1483.26 341.63,1534.18 357.97,1519.46 276.33,1469.33" fill="#C700C7" stroke="#C700C7" stroke-width="0.6"/>
<text transform="matrix(17.0261 10.5235 -14.3904 12.5297 308.4 1501.18)" font-size="1" text-anchor="middle" fill="#F3EEFA" font-weight="normal" y="0.36"  stroke="#F3EEFA" stroke-width="0.03" stroke-linejoin="round">0.875</text>
<polygon points="344.11,1724.25 419.01,1775.6 441.4,1563.46 352.17,1508.89" fill="#7A1FBD" stroke="#7A1FBD" stroke-width="0.6"/>
<polygon points="419.01,1775.6 433.01,1760.78 457.83,1547.66 441.4,1563.46" fill="#4C1375" stroke="#4C1375" stroke-width="0.6"/>
<polygon points="352.17,1508.89 441.4,1563.46 457.83,1547.66 368.85,1493.99" fill="#5F1893" stroke="#5F1893" stroke-width="0.6"/>
<text transform="matrix(18.5588 11.2728 -14.4915 13.4222 404.44 1528.07)" font-size="1" text-anchor="middle" fill="#F3EEFA" font-weight="normal" y="0.36"  stroke="#F3EEFA" stroke-width="0.03" stroke-linejoin="round">1.000</text>
<polygon points="160.62,1644.59 228.11,1691.96 215.23,1474.82 136.34,1425.19" fill="#7A1FBD" stroke="#7A1FBD" stroke-width="0.6"/>
<polygon points="228.11,1691.96 242.85,1678.3 232.7,1460.46 215.23,1474.82" fill="#4C1375" stroke="#4C1375" stroke-width="0.6"/>
<polygon points="136.34,1425.19 215.23,1474.82 232.7,1460.46 153.95,1411.62" fill="#5F1893" stroke="#5F1893" stroke-width="0.6"/>
<text transform="matrix(16.4188 10.2548 -15.3521 12.2090 184.04 1442.65)" font-size="1" text-anchor="middle" fill="#F3EEFA" font-weight="normal" y="0.36"  stroke="#F3EEFA" stroke-width="0.03" stroke-linejoin="round">1.000</text>
<polygon points="235.81,1697.36 307.01,1747.35 308.32,1533.37 224.27,1480.5" fill="#7A1FBD" stroke="#7A1FBD" stroke-width="0.6"/>
<polygon points="307.01,1747.35 321.61,1732.93 325.59,1518.07 308.32,1533.37" fill="#4C1375" stroke="#4C1375" stroke-width="0.6"/>
<polygon points="224.27,1480.5 308.32,1533.37 325.59,1518.07 241.73,1466.06" fill="#5F1893" stroke="#5F1893" stroke-width="0.6"/>
<text transform="matrix(17.4874 10.9223 -15.1963 13.0044 274.41 1499.09)" font-size="1" text-anchor="middle" fill="#F3EEFA" font-weight="normal" y="0.36"  stroke="#F3EEFA" stroke-width="0.03" stroke-linejoin="round">1.000</text>
<polygon points="315.14,1753.06 390.39,1805.88 405.18,1626.42 317.56,1570.38" fill="#FF00FF" stroke="#FF00FF" stroke-width="0.6"/>
<polygon points="390.39,1805.88 404.8,1790.63 421.8,1610.2 405.18,1626.42" fill="#9E009E" stroke="#9E009E" stroke-width="0.6"/>
<polygon points="317.56,1570.38 405.18,1626.42 421.8,1610.2 334.42,1555.08" fill="#C700C7" stroke="#C700C7" stroke-width="0.6"/>
<text transform="matrix(18.2262 11.5766 -14.6542 13.7849 369.14 1590.08)" font-size="1" text-anchor="middle" fill="#F3EEFA" font-weight="normal" y="0.36"  stroke="#F3EEFA" stroke-width="0.03" stroke-linejoin="round">0.875</text>
<polygon points="130.31,1671.17 198,1719.85 179.42,1504.23 100.28,1452.98" fill="#7A1FBD" stroke="#7A1FBD" stroke-width="0.6"/>
<polygon points="198,1719.85 213.16,1705.81 197.47,1489.4 179.42,1504.23" fill="#4C1375" stroke="#4C1375" stroke-width="0.6"/>
<polygon points="100.28,1452.98 179.42,1504.23 197.47,1489.4 118.45,1438.98" fill="#5F1893" stroke="#5F1893" stroke-width="0.6"/>
<text transform="matrix(16.4727 10.5879 -15.8512 12.6059 148.38 1471.01)" font-size="1" text-anchor="middle" fill="#F3EEFA" font-weight="normal" y="0.36"  stroke="#F3EEFA" stroke-width="0.03" stroke-linejoin="round">1.000</text>
<polygon points="205.72,1725.41 277.19,1776.82 274.69,1653.02 195.65,1599.48" fill="#FBC011" stroke="#FBC011" stroke-width="0.6"/>
<polygon points="277.19,1776.82 292.21,1761.98 291.36,1637.53 274.69,1653.02" fill="#9C770B" stroke="#9C770B" stroke-width="0.6"/>
<polygon points="195.65,1599.48 274.69,1653.02 291.36,1637.53 212.48,1584.82" fill="#C4960D" stroke="#C4960D" stroke-width="0.6"/>
<text transform="matrix(16.4479 11.0657 -14.6624 13.1768 243.04 1618.32)" font-size="1" text-anchor="middle" fill="#F3EEFA" font-weight="normal" y="0.36"  stroke="#F3EEFA" stroke-width="0.03" stroke-linejoin="round">0.625</text>
<polygon points="285.35,1782.69 360.94,1837.05 371.08,1659.7 283,1601.76" fill="#FF00FF" stroke="#FF00FF" stroke-width="0.6"/>
<polygon points="360.94,1837.05 375.77,1821.35 388.27,1642.92 371.08,1659.7" fill="#9E009E" stroke="#9E009E" stroke-width="0.6"/>
<polygon points="283,1601.76 371.08,1659.7 388.27,1642.92 300.42,1585.94" fill="#C700C7" stroke="#C700C7" stroke-width="0.6"/>
<text transform="matrix(18.3226 11.9687 -15.1510 14.2522 335.08 1622.12)" font-size="1" text-anchor="middle" fill="#F3EEFA" font-weight="normal" y="0.36"  stroke="#F3EEFA" stroke-width="0.03" stroke-linejoin="round">0.875</text>
<polygon points="99.17,1698.49 167.04,1748.54 145.99,1565.6 68.26,1512.95" fill="#FF00FF" stroke="#FF00FF" stroke-width="0.6"/>
<polygon points="167.04,1748.54 182.63,1734.1 164.19,1550.37 145.99,1565.6" fill="#9E009E" stroke="#9E009E" stroke-width="0.6"/>
<polygon points="68.26,1512.95 145.99,1565.6 164.19,1550.37 86.57,1498.56" fill="#C700C7" stroke="#C700C7" stroke-width="0.6"/>
<text transform="matrix(16.1788 10.8776 -15.9818 12.9517 115.74 1531.47)" font-size="1" text-anchor="middle" fill="#F3EEFA" font-weight="normal" y="0.36"  stroke="#F3EEFA" stroke-width="0.03" stroke-linejoin="round">0.875</text>
<polygon points="174.79,1754.25 246.5,1807.14 239.18,1656.89 158.12,1601.19" fill="#0000FF" stroke="#0000FF" stroke-width="0.6"/>
<polygon points="246.5,1807.14 261.96,1791.87 256.79,1640.77 239.18,1656.89" fill="#00009E" stroke="#00009E" stroke-width="0.6"/>
<polygon points="158.12,1601.19 239.18,1656.89 256.79,1640.77 175.88,1585.97" fill="#0000C7" stroke="#0000C7" stroke-width="0.6"/>
<text transform="matrix(16.8687 11.5074 -15.4836 13.7028 206.95 1620.78)" font-size="1" text-anchor="middle" fill="#F3EEFA" font-weight="normal" y="0.36"  stroke="#F3EEFA" stroke-width="0.03" stroke-linejoin="round">0.750</text>
<polygon points="254.7,1813.18 330.6,1869.15 334.14,1749.91 249.63,1691.06" fill="#FBC011" stroke="#FBC011" stroke-width="0.6"/>
<polygon points="330.6,1869.15 345.88,1852.98 351.13,1732.88 334.14,1749.91" fill="#9C770B" stroke="#9C770B" stroke-width="0.6"/>
<polygon points="249.63,1691.06 334.14,1749.91 351.13,1732.88 266.82,1674.98" fill="#C4960D" stroke="#C4960D" stroke-width="0.6"/>
<text transform="matrix(17.5815 12.1588 -14.9640 14.4797 299.86 1711.75)" font-size="1" text-anchor="middle" fill="#F3EEFA" font-weight="normal" y="0.36"  stroke="#F3EEFA" stroke-width="0.03" stroke-linejoin="round">0.625</text>
</g>
<text x="31.8" y="1345.7" font-family='"Liberation Sans", Arial, sans-serif' font-weight="bold" font-size="36.7">g</text></g>
<g><g font-family='"Liberation Sans", Arial, sans-serif'>
<line x1="723.29" y1="1730.33" x2="925.48" y2="1548.11" stroke="#DADADA" stroke-width="1.3" stroke-linecap="butt"/>
<line x1="800.85" y1="1787.88" x2="1001.12" y2="1595.76" stroke="#DADADA" stroke-width="1.3" stroke-linecap="butt"/>
<line x1="882.89" y1="1848.77" x2="1080.71" y2="1645.91" stroke="#DADADA" stroke-width="1.3" stroke-linecap="butt"/>
<line x1="701.87" y1="1688.9" x2="941.1" y2="1864.21" stroke="#DADADA" stroke-width="1.3" stroke-linecap="butt"/>
<line x1="732.8" y1="1661.84" x2="971.19" y2="1832.25" stroke="#DADADA" stroke-width="1.3" stroke-linecap="butt"/>
<line x1="762.92" y1="1635.5" x2="1000.41" y2="1801.22" stroke="#DADADA" stroke-width="1.3" stroke-linecap="butt"/>
<line x1="792.24" y1="1609.85" x2="1028.8" y2="1771.07" stroke="#DADADA" stroke-width="1.3" stroke-linecap="butt"/>
<line x1="820.8" y1="1584.87" x2="1056.39" y2="1741.76" stroke="#DADADA" stroke-width="1.3" stroke-linecap="butt"/>
<line x1="848.63" y1="1560.53" x2="1083.22" y2="1713.27" stroke="#DADADA" stroke-width="1.3" stroke-linecap="butt"/>
<line x1="875.75" y1="1536.8" x2="1109.31" y2="1685.56" stroke="#DADADA" stroke-width="1.3" stroke-linecap="butt"/>
<polyline points="686.08,1702.71 889.06,1525.16 1122.09,1671.98" fill="none" stroke="#9E9E9E" stroke-width="1.3" stroke-linejoin="miter" stroke-linecap="square"/>
<polyline points="682.78,1684.08 888.92,1505.68 1125.51,1653.17" fill="none" stroke="#9E9E9E" stroke-width="1.3" stroke-linejoin="miter" stroke-linecap="square"/>
<polyline points="679.38,1664.85 888.79,1485.64 1129.03,1633.78" fill="none" stroke="#9E9E9E" stroke-width="1.3" stroke-linejoin="miter" stroke-linecap="square"/>
<polyline points="675.88,1645.02 888.65,1465.02 1132.67,1613.77" fill="none" stroke="#9E9E9E" stroke-width="1.3" stroke-linejoin="miter" stroke-linecap="square"/>
<polyline points="672.25,1624.54 888.5,1443.79 1136.42,1593.12" fill="none" stroke="#9E9E9E" stroke-width="1.3" stroke-linejoin="miter" stroke-linecap="square"/>
<polyline points="668.51,1603.37 888.35,1421.92 1140.29,1571.8" fill="none" stroke="#9E9E9E" stroke-width="1.3" stroke-linejoin="miter" stroke-linecap="square"/>
<polyline points="664.64,1581.5 888.2,1399.39 1144.29,1549.77" fill="none" stroke="#9E9E9E" stroke-width="1.3" stroke-linejoin="miter" stroke-linecap="square"/>
<polyline points="660.64,1558.88 888.04,1376.16 1148.42,1527.01" fill="none" stroke="#9E9E9E" stroke-width="1.3" stroke-linejoin="miter" stroke-linecap="square"/>
<polyline points="656.5,1535.47 887.88,1352.2 1152.7,1503.46" fill="none" stroke="#9E9E9E" stroke-width="1.3" stroke-linejoin="miter" stroke-linecap="square"/>
<polyline points="652.21,1511.23 887.71,1327.48 1157.12,1479.1" fill="none" stroke="#9E9E9E" stroke-width="1.3" stroke-linejoin="miter" stroke-linecap="square"/>
<line x1="701.87" y1="1688.9" x2="666.69" y2="1471.59" stroke="#9E9E9E" stroke-width="1.3" stroke-linecap="butt"/>
<line x1="732.8" y1="1661.84" x2="703.64" y2="1443.21" stroke="#9E9E9E" stroke-width="1.3" stroke-linecap="butt"/>
<line x1="762.92" y1="1635.5" x2="739.42" y2="1415.72" stroke="#9E9E9E" stroke-width="1.3" stroke-linecap="butt"/>
<line x1="792.24" y1="1609.85" x2="774.11" y2="1389.08" stroke="#9E9E9E" stroke-width="1.3" stroke-linecap="butt"/>
<line x1="820.8" y1="1584.87" x2="807.75" y2="1363.24" stroke="#9E9E9E" stroke-width="1.3" stroke-linecap="butt"/>
<line x1="848.63" y1="1560.53" x2="840.38" y2="1338.18" stroke="#9E9E9E" stroke-width="1.3" stroke-linecap="butt"/>
<line x1="875.75" y1="1536.8" x2="872.05" y2="1313.85" stroke="#9E9E9E" stroke-width="1.3" stroke-linecap="butt"/>
<line x1="925.48" y1="1548.11" x2="929.92" y2="1325.44" stroke="#9E9E9E" stroke-width="1.3" stroke-linecap="butt"/>
<line x1="1001.12" y1="1595.76" x2="1018.49" y2="1374.51" stroke="#9E9E9E" stroke-width="1.3" stroke-linecap="butt"/>
<line x1="1080.71" y1="1645.91" x2="1112.5" y2="1426.6" stroke="#9E9E9E" stroke-width="1.3" stroke-linecap="butt"/>
<line x1="889.06" y1="1525.16" x2="887.54" y2="1301.96" stroke="#9E9E9E" stroke-width="1.3" stroke-linecap="butt"/>
<polyline points="647.77,1486.12 887.54,1301.96 1161.71,1453.87 1122.09,1671.98" fill="none" stroke="#000" stroke-width="2.34" stroke-linejoin="miter" stroke-linecap="square"/>
<polyline points="647.77,1486.12 686.08,1702.71 925.72,1880.55 1122.09,1671.98" fill="none" stroke="#000" stroke-width="3.0" stroke-linejoin="miter" stroke-linecap="square"/>
<line x1="723.29" y1="1730.33" x2="716.84" y2="1736.14" stroke="#000" stroke-width="2.6" stroke-linecap="butt"/>
<line x1="800.85" y1="1787.88" x2="794.44" y2="1794.03" stroke="#000" stroke-width="2.6" stroke-linecap="butt"/>
<line x1="882.89" y1="1848.77" x2="876.54" y2="1855.28" stroke="#000" stroke-width="2.6" stroke-linecap="butt"/>
<line x1="941.1" y1="1864.21" x2="948.66" y2="1869.75" stroke="#000" stroke-width="2.6" stroke-linecap="butt"/>
<line x1="971.19" y1="1832.25" x2="978.72" y2="1837.63" stroke="#000" stroke-width="2.6" stroke-linecap="butt"/>
<line x1="1000.41" y1="1801.22" x2="1007.9" y2="1806.45" stroke="#000" stroke-width="2.6" stroke-linecap="butt"/>
<line x1="1028.8" y1="1771.07" x2="1036.25" y2="1776.15" stroke="#000" stroke-width="2.6" stroke-linecap="butt"/>
<line x1="1056.39" y1="1741.76" x2="1063.8" y2="1746.7" stroke="#000" stroke-width="2.6" stroke-linecap="butt"/>
<line x1="1083.22" y1="1713.27" x2="1090.59" y2="1718.07" stroke="#000" stroke-width="2.6" stroke-linecap="butt"/>
<line x1="1109.31" y1="1685.56" x2="1116.65" y2="1690.23" stroke="#000" stroke-width="2.6" stroke-linecap="butt"/>
<line x1="686.08" y1="1702.71" x2="680.61" y2="1707.49" stroke="#000" stroke-width="2.6" stroke-linecap="butt"/>
<line x1="682.78" y1="1684.08" x2="677.23" y2="1688.89" stroke="#000" stroke-width="2.6" stroke-linecap="butt"/>
<line x1="679.38" y1="1664.85" x2="673.73" y2="1669.69" stroke="#000" stroke-width="2.6" stroke-linecap="butt"/>
<line x1="675.88" y1="1645.02" x2="670.12" y2="1649.89" stroke="#000" stroke-width="2.6" stroke-linecap="butt"/>
<line x1="672.25" y1="1624.54" x2="666.4" y2="1629.43" stroke="#000" stroke-width="2.6" stroke-linecap="butt"/>
<line x1="668.51" y1="1603.37" x2="662.55" y2="1608.3" stroke="#000" stroke-width="2.6" stroke-linecap="butt"/>
<line x1="664.64" y1="1581.5" x2="658.57" y2="1586.45" stroke="#000" stroke-width="2.6" stroke-linecap="butt"/>
<line x1="660.64" y1="1558.88" x2="654.45" y2="1563.85" stroke="#000" stroke-width="2.6" stroke-linecap="butt"/>
<line x1="656.5" y1="1535.47" x2="650.19" y2="1540.47" stroke="#000" stroke-width="2.6" stroke-linecap="butt"/>
<line x1="652.21" y1="1511.23" x2="645.78" y2="1516.25" stroke="#000" stroke-width="2.6" stroke-linecap="butt"/>
<line x1="647.77" y1="1486.12" x2="641.21" y2="1491.16" stroke="#000" stroke-width="2.6" stroke-linecap="butt"/>
<text transform="matrix(12.3034 -11.0879 12.4564 9.3104 714.38 1738.36)" font-size="1" text-anchor="end" fill="#000" font-weight="bold" y="0.36" >1</text>
<text transform="matrix(12.2195 -11.7225 13.1686 9.8428 792 1796.38)" font-size="1" text-anchor="end" fill="#000" font-weight="bold" y="0.36" >2</text>
<text transform="matrix(12.1050 -12.4131 13.9438 10.4221 874.12 1857.76)" font-size="1" text-anchor="end" fill="#000" font-weight="bold" y="0.36" >3</text>
<text transform="matrix(14.4118 10.5611 -11.7373 12.5787 952.06 1872.25)" font-size="1" text-anchor="start" fill="#000" font-weight="bold" y="0.36" >1</text>
<text transform="matrix(14.3424 10.2529 -11.3945 12.2113 982.1 1840.05)" font-size="1" text-anchor="start" fill="#000" font-weight="bold" y="0.36" >5</text>
<text transform="matrix(14.2709 9.9580 -11.0665 11.8598 1011.27 1808.8)" font-size="1" text-anchor="start" fill="#000" font-weight="bold" y="0.36" >10</text>
<text transform="matrix(14.1976 9.6756 -10.7524 11.5233 1039.6 1778.43)" font-size="1" text-anchor="start" fill="#000" font-weight="bold" y="0.36" >15</text>
<text transform="matrix(14.1228 9.4051 -10.4516 11.2008 1067.14 1748.92)" font-size="1" text-anchor="start" fill="#000" font-weight="bold" y="0.36" >20</text>
<text transform="matrix(14.0466 9.1458 -10.1632 10.8918 1093.91 1720.23)" font-size="1" text-anchor="start" fill="#000" font-weight="bold" y="0.36" >25</text>
<text transform="matrix(13.9693 8.8971 -9.8865 10.5953 1119.94 1692.33)" font-size="1" text-anchor="start" fill="#000" font-weight="bold" y="0.36" >30</text>
<text transform="matrix(12.9980 -11.3695 1.9603 10.6172 678.04 1709.74)" font-size="1" text-anchor="end" fill="#000" font-weight="normal" y="0.36"  stroke="#000" stroke-width="0.06" stroke-linejoin="round">0.0</text>
<text transform="matrix(13.2200 -11.4406 2.0219 10.9504 674.61 1691.15)" font-size="1" text-anchor="end" fill="#000" font-weight="normal" y="0.36"  stroke="#000" stroke-width="0.06" stroke-linejoin="round">0.1</text>
<text transform="matrix(13.4496 -11.5106 2.0863 11.2996 671.07 1671.97)" font-size="1" text-anchor="end" fill="#000" font-weight="normal" y="0.36"  stroke="#000" stroke-width="0.06" stroke-linejoin="round">0.2</text>
<text transform="matrix(13.6873 -11.5791 2.1540 11.6658 667.41 1652.18)" font-size="1" text-anchor="end" fill="#000" font-weight="normal" y="0.36"  stroke="#000" stroke-width="0.06" stroke-linejoin="round">0.3</text>
<text transform="matrix(13.9335 -11.6460 2.2249 12.0501 663.64 1631.74)" font-size="1" text-anchor="end" fill="#000" font-weight="normal" y="0.36"  stroke="#000" stroke-width="0.06" stroke-linejoin="round">0.4</text>
<text transform="matrix(14.1886 -11.7111 2.2994 12.4537 659.74 1610.62)" font-size="1" text-anchor="end" fill="#000" font-weight="normal" y="0.36"  stroke="#000" stroke-width="0.06" stroke-linejoin="round">0.5</text>
<text transform="matrix(14.4531 -11.7739 2.3777 12.8779 655.71 1588.78)" font-size="1" text-anchor="end" fill="#000" font-weight="normal" y="0.36"  stroke="#000" stroke-width="0.06" stroke-linejoin="round">0.6</text>
<text transform="matrix(14.7276 -11.8341 2.4601 13.3241 651.54 1566.2)" font-size="1" text-anchor="end" fill="#000" font-weight="normal" y="0.36"  stroke="#000" stroke-width="0.06" stroke-linejoin="round">0.7</text>
<text transform="matrix(15.0127 -11.8915 2.5469 13.7940 647.22 1542.82)" font-size="1" text-anchor="end" fill="#000" font-weight="normal" y="0.36"  stroke="#000" stroke-width="0.06" stroke-linejoin="round">0.8</text>
<text transform="matrix(15.3088 -11.9454 2.6383 14.2891 642.75 1518.62)" font-size="1" text-anchor="end" fill="#000" font-weight="normal" y="0.36"  stroke="#000" stroke-width="0.06" stroke-linejoin="round">0.9</text>
<text transform="matrix(15.6168 -11.9955 2.7348 14.8114 638.12 1493.54)" font-size="1" text-anchor="end" fill="#000" font-weight="normal" y="0.36"  stroke="#000" stroke-width="0.06" stroke-linejoin="round">1.0</text>
<text transform="matrix(14.6223 11.0785 -13.7613 13.1943 774.5 1812)" font-size="1" text-anchor="middle" fill="#000" font-weight="bold" y="0.36" >Random_state</text>
<text transform="matrix(11.8884 -13.0447 16.0422 10.9530 1065.5 1800)" font-size="1" text-anchor="middle" fill="#000" font-weight="bold" y="0.36" >n_estimators</text>
<text transform="matrix(3.1211 14.5620 -16.7483 13.7611 625.5 1630)" font-size="1" text-anchor="middle" fill="#000" font-weight="normal" y="0.36"  stroke="#000" stroke-width="0.045" stroke-linejoin="round">Validation Accuracy</text>
</g>
<g font-family='"Liberation Sans", Arial, sans-serif' font-style="normal">
<polygon points="872.65,1544.99 939.22,1587.62 944.67,1411.8 869.29,1368.06" fill="#FF00FF" stroke="#FF00FF" stroke-width="0.6"/>
<polygon points="939.22,1587.62 952.48,1575.34 959.65,1399.18 944.67,1411.8" fill="#9E009E" stroke="#9E009E" stroke-width="0.6"/>
<polygon points="869.29,1368.06 944.67,1411.8 959.65,1399.18 884.42,1356.06" fill="#C700C7" stroke="#C700C7" stroke-width="0.6"/>
<text transform="matrix(15.6859 9.0464 -13.1802 10.7696 914.05 1383.47)" font-size="1" text-anchor="middle" fill="#F3EEFA" font-weight="normal" y="0.36"  stroke="#F3EEFA" stroke-width="0.03" stroke-linejoin="round">0.818</text>
<polygon points="946.81,1592.48 1016.86,1637.34 1033.15,1463.15 953.29,1416.8" fill="#FF00FF" stroke="#FF00FF" stroke-width="0.6"/>
<polygon points="1016.86,1637.34 1029.95,1624.41 1047.9,1449.76 1033.15,1463.15" fill="#9E009E" stroke="#9E009E" stroke-width="0.6"/>
<polygon points="953.29,1416.8 1033.15,1463.15 1047.9,1449.76 968.25,1404.1" fill="#C700C7" stroke="#C700C7" stroke-width="0.6"/>
<text transform="matrix(16.6139 9.5816 -13.0030 11.4074 1000.15 1433.13)" font-size="1" text-anchor="middle" fill="#F3EEFA" font-weight="normal" y="0.36"  stroke="#F3EEFA" stroke-width="0.03" stroke-linejoin="round">0.818</text>
<polygon points="1024.85,1642.46 1098.65,1689.72 1127.04,1517.63 1042.29,1468.45" fill="#FF00FF" stroke="#FF00FF" stroke-width="0.6"/>
<polygon points="1098.65,1689.72 1111.53,1676.09 1141.51,1503.42 1127.04,1517.63" fill="#9E009E" stroke="#9E009E" stroke-width="0.6"/>
<polygon points="1042.29,1468.45 1127.04,1517.63 1141.51,1503.42 1057.01,1454.98" fill="#C700C7" stroke="#C700C7" stroke-width="0.6"/>
<text transform="matrix(17.6268 10.1658 -12.7804 12.1036 1091.42 1485.76)" font-size="1" text-anchor="middle" fill="#F3EEFA" font-weight="normal" y="0.36"  stroke="#F3EEFA" stroke-width="0.03" stroke-linejoin="round">0.818</text>
<polygon points="845.36,1568.93 912.18,1612.68 914.04,1437.63 838.34,1392.58" fill="#FF00FF" stroke="#FF00FF" stroke-width="0.6"/>
<polygon points="912.18,1612.68 925.79,1600.07 929.47,1424.62 914.04,1437.63" fill="#9E009E" stroke="#9E009E" stroke-width="0.6"/>
<polygon points="838.34,1392.58 914.04,1437.63 929.47,1424.62 853.93,1380.23" fill="#C700C7" stroke="#C700C7" stroke-width="0.6"/>
<text transform="matrix(15.7517 9.3140 -13.5705 11.0885 883.48 1408.45)" font-size="1" text-anchor="middle" fill="#F3EEFA" font-weight="normal" y="0.36"  stroke="#F3EEFA" stroke-width="0.03" stroke-linejoin="round">0.818</text>
<polygon points="919.8,1617.67 990.15,1663.73 1004.61,1468.24 923.07,1420.34" fill="#7A1FBD" stroke="#7A1FBD" stroke-width="0.6"/>
<polygon points="990.15,1663.73 1003.59,1650.45 1020.05,1454.39 1004.61,1468.24" fill="#4C1375" stroke="#4C1375" stroke-width="0.6"/>
<polygon points="923.07,1420.34 1004.61,1468.24 1020.05,1454.39 938.71,1407.22" fill="#5F1893" stroke="#5F1893" stroke-width="0.6"/>
<text transform="matrix(16.9632 9.9005 -13.5999 11.7870 971.09 1437.2)" font-size="1" text-anchor="middle" fill="#F3EEFA" font-weight="normal" y="0.36"  stroke="#F3EEFA" stroke-width="0.03" stroke-linejoin="round">0.909</text>
<polygon points="998.17,1668.98 1072.35,1717.55 1097.4,1546.74 1012.15,1496.01" fill="#FF00FF" stroke="#FF00FF" stroke-width="0.6"/>
<polygon points="1072.35,1717.55 1085.59,1703.54 1112.34,1532.07 1097.4,1546.74" fill="#9E009E" stroke="#9E009E" stroke-width="0.6"/>
<polygon points="1012.15,1496.01 1097.4,1546.74 1112.34,1532.07 1027.33,1482.12" fill="#C700C7" stroke="#C700C7" stroke-width="0.6"/>
<text transform="matrix(17.7320 10.4850 -13.1821 12.4840 1061.75 1513.86)" font-size="1" text-anchor="middle" fill="#F3EEFA" font-weight="normal" y="0.36"  stroke="#F3EEFA" stroke-width="0.03" stroke-linejoin="round">0.818</text>
<polygon points="817.36,1593.49 884.42,1638.4 882.48,1464.23 806.49,1417.83" fill="#FF00FF" stroke="#FF00FF" stroke-width="0.6"/>
<polygon points="884.42,1638.4 898.39,1625.45 898.38,1450.83 882.48,1464.23" fill="#9E009E" stroke="#9E009E" stroke-width="0.6"/>
<polygon points="806.49,1417.83 882.48,1464.23 898.38,1450.83 822.53,1405.11" fill="#C700C7" stroke="#C700C7" stroke-width="0.6"/>
<text transform="matrix(15.8145 9.5937 -13.9784 11.4218 852 1434.18)" font-size="1" text-anchor="middle" fill="#F3EEFA" font-weight="normal" y="0.36"  stroke="#F3EEFA" stroke-width="0.03" stroke-linejoin="round">0.818</text>
<polygon points="892.06,1643.52 962.71,1690.84 971.83,1518.79 891.18,1469.54" fill="#FF00FF" stroke="#FF00FF" stroke-width="0.6"/>
<polygon points="962.71,1690.84 976.52,1677.19 987.52,1504.55 971.83,1518.79" fill="#9E009E" stroke="#9E009E" stroke-width="0.6"/>
<polygon points="891.18,1469.54 971.83,1518.79 987.52,1504.55 907.06,1456.06" fill="#C700C7" stroke="#C700C7" stroke-width="0.6"/>
<text transform="matrix(16.7793 10.1790 -13.8145 12.1193 938.88 1486.88)" font-size="1" text-anchor="middle" fill="#F3EEFA" font-weight="normal" y="0.36"  stroke="#F3EEFA" stroke-width="0.03" stroke-linejoin="round">0.818</text>
<polygon points="970.77,1696.24 1045.32,1746.17 1066.81,1576.78 981.07,1524.43" fill="#FF00FF" stroke="#FF00FF" stroke-width="0.6"/>
<polygon points="1045.32,1746.17 1058.93,1731.76 1082.23,1561.64 1066.81,1576.78" fill="#9E009E" stroke="#9E009E" stroke-width="0.6"/>
<polygon points="981.07,1524.43 1066.81,1576.78 1082.23,1561.64 996.73,1510.11" fill="#C700C7" stroke="#C700C7" stroke-width="0.6"/>
<text transform="matrix(17.8351 10.8195 -13.6030 12.8827 1031.14 1542.85)" font-size="1" text-anchor="middle" fill="#F3EEFA" font-weight="normal" y="0.36"  stroke="#F3EEFA" stroke-width="0.03" stroke-linejoin="round">0.818</text>
<polygon points="788.63,1618.7 855.9,1664.82 849.95,1491.66 773.68,1443.84" fill="#FF00FF" stroke="#FF00FF" stroke-width="0.6"/>
<polygon points="855.9,1664.82 870.25,1651.52 866.34,1477.84 849.95,1491.66" fill="#9E009E" stroke="#9E009E" stroke-width="0.6"/>
<polygon points="773.68,1443.84 849.95,1491.66 866.34,1477.84 790.21,1430.74" fill="#C700C7" stroke="#C700C7" stroke-width="0.6"/>
<text transform="matrix(15.8738 9.8861 -14.4050 11.7703 819.57 1460.68)" font-size="1" text-anchor="middle" fill="#F3EEFA" font-weight="normal" y="0.36"  stroke="#F3EEFA" stroke-width="0.03" stroke-linejoin="round">0.818</text>
<polygon points="863.57,1670.08 934.51,1718.7 940.38,1525.84 858.06,1474.85" fill="#7A1FBD" stroke="#7A1FBD" stroke-width="0.6"/>
<polygon points="934.51,1718.7 948.71,1704.68 956.82,1511.1 940.38,1525.84" fill="#4C1375" stroke="#4C1375" stroke-width="0.6"/>
<polygon points="858.06,1474.85 940.38,1525.84 956.82,1511.1 874.69,1460.9" fill="#5F1893" stroke="#5F1893" stroke-width="0.6"/>
<text transform="matrix(17.1282 10.5376 -14.4761 12.5464 906.95 1492.79)" font-size="1" text-anchor="middle" fill="#F3EEFA" font-weight="normal" y="0.36"  stroke="#F3EEFA" stroke-width="0.03" stroke-linejoin="round">0.909</text>
<polygon points="942.61,1724.25 1017.51,1775.6 1035.22,1607.82 948.99,1553.75" fill="#FF00FF" stroke="#FF00FF" stroke-width="0.6"/>
<polygon points="1017.51,1775.6 1031.51,1760.78 1051.14,1592.17 1035.22,1607.82" fill="#9E009E" stroke="#9E009E" stroke-width="0.6"/>
<polygon points="948.99,1553.75 1035.22,1607.82 1051.14,1592.17 965.15,1538.98" fill="#C700C7" stroke="#C700C7" stroke-width="0.6"/>
<text transform="matrix(17.9357 11.1703 -14.0445 13.3008 999.55 1572.77)" font-size="1" text-anchor="middle" fill="#F3EEFA" font-weight="normal" y="0.36"  stroke="#F3EEFA" stroke-width="0.03" stroke-linejoin="round">0.818</text>
<polygon points="759.12,1644.59 826.61,1691.96 816.41,1519.95 739.87,1470.64" fill="#FF00FF" stroke="#FF00FF" stroke-width="0.6"/>
<polygon points="826.61,1691.96 841.35,1678.3 833.31,1505.69 816.41,1519.95" fill="#9E009E" stroke="#9E009E" stroke-width="0.6"/>
<polygon points="739.87,1470.64 816.41,1519.95 833.31,1505.69 756.9,1457.14" fill="#C700C7" stroke="#C700C7" stroke-width="0.6"/>
<text transform="matrix(15.9294 10.1922 -14.8513 12.1351 786.14 1488)" font-size="1" text-anchor="middle" fill="#F3EEFA" font-weight="normal" y="0.36"  stroke="#F3EEFA" stroke-width="0.03" stroke-linejoin="round">0.818</text>
<polygon points="834.31,1697.36 905.51,1747.35 906.68,1556.07 823.99,1503.41" fill="#7A1FBD" stroke="#7A1FBD" stroke-width="0.6"/>
<polygon points="905.51,1747.35 920.11,1732.93 923.67,1540.83 906.68,1556.07" fill="#4C1375" stroke="#4C1375" stroke-width="0.6"/>
<polygon points="823.99,1503.41 906.68,1556.07 923.67,1540.83 841.16,1489.02" fill="#5F1893" stroke="#5F1893" stroke-width="0.6"/>
<text transform="matrix(17.2055 10.8796 -14.9463 12.9539 873.32 1521.93)" font-size="1" text-anchor="middle" fill="#F3EEFA" font-weight="normal" y="0.36"  stroke="#F3EEFA" stroke-width="0.03" stroke-linejoin="round">0.909</text>
<polygon points="913.64,1753.06 988.89,1805.88 1002.57,1639.88 915.88,1584.03" fill="#FF00FF" stroke="#FF00FF" stroke-width="0.6"/>
<polygon points="988.89,1805.88 1003.3,1790.63 1019.03,1623.72 1002.57,1639.88" fill="#9E009E" stroke="#9E009E" stroke-width="0.6"/>
<polygon points="915.88,1584.03 1002.57,1639.88 1019.03,1623.72 932.57,1568.77" fill="#C700C7" stroke="#C700C7" stroke-width="0.6"/>
<text transform="matrix(18.0334 11.5384 -14.5078 13.7395 966.92 1603.67)" font-size="1" text-anchor="middle" fill="#F3EEFA" font-weight="normal" y="0.36"  stroke="#F3EEFA" stroke-width="0.03" stroke-linejoin="round">0.818</text>
<polygon points="728.81,1671.17 796.5,1719.85 781.79,1549.13 705.01,1498.27" fill="#FF00FF" stroke="#FF00FF" stroke-width="0.6"/>
<polygon points="796.5,1719.85 811.66,1705.81 799.24,1534.42 781.79,1549.13" fill="#9E009E" stroke="#9E009E" stroke-width="0.6"/>
<polygon points="705.01,1498.27 781.79,1549.13 799.24,1534.42 722.57,1484.35" fill="#C700C7" stroke="#C700C7" stroke-width="0.6"/>
<text transform="matrix(15.9807 10.5127 -15.3188 12.5170 751.66 1516.17)" font-size="1" text-anchor="middle" fill="#F3EEFA" font-weight="normal" y="0.36"  stroke="#F3EEFA" stroke-width="0.03" stroke-linejoin="round">0.818</text>
<polygon points="804.22,1725.41 875.69,1776.82 873.14,1650.59 793.95,1597.02" fill="#FBC011" stroke="#FBC011" stroke-width="0.6"/>
<polygon points="875.69,1776.82 890.71,1761.98 889.85,1635.1 873.14,1650.59" fill="#9C770B" stroke="#9C770B" stroke-width="0.6"/>
<polygon points="793.95,1597.02 873.14,1650.59 889.85,1635.1 810.82,1582.35" fill="#C4960D" stroke="#C4960D" stroke-width="0.6"/>
<text transform="matrix(16.4786 11.0727 -14.6910 13.1852 841.43 1615.87)" font-size="1" text-anchor="middle" fill="#F3EEFA" font-weight="normal" y="0.36"  stroke="#F3EEFA" stroke-width="0.03" stroke-linejoin="round">0.636</text>
<polygon points="883.85,1782.69 959.44,1837.05 967.63,1693.73 881.95,1636.36" fill="#0000FF" stroke="#0000FF" stroke-width="0.6"/>
<polygon points="959.44,1837.05 974.27,1821.35 984.38,1677.13 967.63,1693.73" fill="#00009E" stroke="#00009E" stroke-width="0.6"/>
<polygon points="881.95,1636.36 967.63,1693.73 984.38,1677.13 898.91,1620.68" fill="#0000C7" stroke="#0000C7" stroke-width="0.6"/>
<text transform="matrix(17.8249 11.8537 -14.7509 14.1157 932.64 1656.53)" font-size="1" text-anchor="middle" fill="#F3EEFA" font-weight="normal" y="0.36"  stroke="#F3EEFA" stroke-width="0.03" stroke-linejoin="round">0.727</text>
<polygon points="697.67,1698.49 765.54,1748.54 748.5,1600.5 672.64,1548.25" fill="#0000FF" stroke="#0000FF" stroke-width="0.6"/>
<polygon points="765.54,1748.54 781.13,1734.1 766.21,1585.39 748.5,1600.5" fill="#00009E" stroke="#00009E" stroke-width="0.6"/>
<polygon points="672.64,1548.25 748.5,1600.5 766.21,1585.39 690.45,1533.95" fill="#0000C7" stroke="#0000C7" stroke-width="0.6"/>
<text transform="matrix(15.7912 10.8001 -15.5399 12.8599 718.96 1566.64)" font-size="1" text-anchor="middle" fill="#F3EEFA" font-weight="normal" y="0.36"  stroke="#F3EEFA" stroke-width="0.03" stroke-linejoin="round">0.727</text>
<polygon points="773.29,1754.25 845,1807.14 838.92,1682.33 759.43,1627.03" fill="#FBC011" stroke="#FBC011" stroke-width="0.6"/>
<polygon points="845,1807.14 860.46,1791.87 856.17,1666.33 838.92,1682.33" fill="#9C770B" stroke="#9C770B" stroke-width="0.6"/>
<polygon points="759.43,1627.03 838.92,1682.33 856.17,1666.33 776.83,1611.91" fill="#C4960D" stroke="#C4960D" stroke-width="0.6"/>
<text transform="matrix(16.5415 11.4262 -15.1604 13.6064 807.32 1646.49)" font-size="1" text-anchor="middle" fill="#F3EEFA" font-weight="normal" y="0.36"  stroke="#F3EEFA" stroke-width="0.03" stroke-linejoin="round">0.636</text>
<polygon points="853.2,1813.18 929.1,1869.15 931.6,1784.99 849.62,1726.9" fill="#00B2AD" stroke="#00B2AD" stroke-width="0.6"/>
<polygon points="929.1,1869.15 944.38,1852.98 948.09,1768.18 931.6,1784.99" fill="#006E6B" stroke="#006E6B" stroke-width="0.6"/>
<polygon points="849.62,1726.9 931.6,1784.99 948.09,1768.18 866.3,1711.01" fill="#008B87" stroke="#008B87" stroke-width="0.6"/>
<text transform="matrix(17.0566 12.0024 -14.5172 14.2939 898.36 1747.34)" font-size="1" text-anchor="middle" fill="#F3EEFA" font-weight="normal" y="0.36"  stroke="#F3EEFA" stroke-width="0.03" stroke-linejoin="round">0.455</text>
</g>
<text x="632" y="1339.6" font-family='"Liberation Sans", Arial, sans-serif' font-weight="bold" font-size="36.7">h</text></g>
<g><g font-family='"Liberation Sans", Arial, sans-serif'>
<line x1="1323.99" y1="1730.33" x2="1526.18" y2="1548.11" stroke="#DADADA" stroke-width="1.3" stroke-linecap="butt"/>
<line x1="1401.55" y1="1787.88" x2="1601.82" y2="1595.76" stroke="#DADADA" stroke-width="1.3" stroke-linecap="butt"/>
<line x1="1483.59" y1="1848.77" x2="1681.41" y2="1645.91" stroke="#DADADA" stroke-width="1.3" stroke-linecap="butt"/>
<line x1="1302.57" y1="1688.9" x2="1541.8" y2="1864.21" stroke="#DADADA" stroke-width="1.3" stroke-linecap="butt"/>
<line x1="1333.5" y1="1661.84" x2="1571.89" y2="1832.25" stroke="#DADADA" stroke-width="1.3" stroke-linecap="butt"/>
<line x1="1363.62" y1="1635.5" x2="1601.11" y2="1801.22" stroke="#DADADA" stroke-width="1.3" stroke-linecap="butt"/>
<line x1="1392.94" y1="1609.85" x2="1629.5" y2="1771.07" stroke="#DADADA" stroke-width="1.3" stroke-linecap="butt"/>
<line x1="1421.5" y1="1584.87" x2="1657.09" y2="1741.76" stroke="#DADADA" stroke-width="1.3" stroke-linecap="butt"/>
<line x1="1449.33" y1="1560.53" x2="1683.92" y2="1713.27" stroke="#DADADA" stroke-width="1.3" stroke-linecap="butt"/>
<line x1="1476.45" y1="1536.8" x2="1710.01" y2="1685.56" stroke="#DADADA" stroke-width="1.3" stroke-linecap="butt"/>
<polyline points="1286.78,1702.71 1489.76,1525.16 1722.79,1671.98" fill="none" stroke="#9E9E9E" stroke-width="1.3" stroke-linejoin="miter" stroke-linecap="square"/>
<polyline points="1283.48,1684.08 1489.62,1505.68 1726.21,1653.17" fill="none" stroke="#9E9E9E" stroke-width="1.3" stroke-linejoin="miter" stroke-linecap="square"/>
<polyline points="1280.08,1664.85 1489.49,1485.64 1729.73,1633.78" fill="none" stroke="#9E9E9E" stroke-width="1.3" stroke-linejoin="miter" stroke-linecap="square"/>
<polyline points="1276.58,1645.02 1489.35,1465.02 1733.37,1613.77" fill="none" stroke="#9E9E9E" stroke-width="1.3" stroke-linejoin="miter" stroke-linecap="square"/>
<polyline points="1272.95,1624.54 1489.2,1443.79 1737.12,1593.12" fill="none" stroke="#9E9E9E" stroke-width="1.3" stroke-linejoin="miter" stroke-linecap="square"/>
<polyline points="1269.21,1603.37 1489.05,1421.92 1740.99,1571.8" fill="none" stroke="#9E9E9E" stroke-width="1.3" stroke-linejoin="miter" stroke-linecap="square"/>
<polyline points="1265.34,1581.5 1488.9,1399.39 1744.99,1549.77" fill="none" stroke="#9E9E9E" stroke-width="1.3" stroke-linejoin="miter" stroke-linecap="square"/>
<polyline points="1261.34,1558.88 1488.74,1376.16 1749.12,1527.01" fill="none" stroke="#9E9E9E" stroke-width="1.3" stroke-linejoin="miter" stroke-linecap="square"/>
<polyline points="1257.2,1535.47 1488.58,1352.2 1753.4,1503.46" fill="none" stroke="#9E9E9E" stroke-width="1.3" stroke-linejoin="miter" stroke-linecap="square"/>
<polyline points="1252.91,1511.23 1488.41,1327.48 1757.82,1479.1" fill="none" stroke="#9E9E9E" stroke-width="1.3" stroke-linejoin="miter" stroke-linecap="square"/>
<line x1="1302.57" y1="1688.9" x2="1267.39" y2="1471.59" stroke="#9E9E9E" stroke-width="1.3" stroke-linecap="butt"/>
<line x1="1333.5" y1="1661.84" x2="1304.34" y2="1443.21" stroke="#9E9E9E" stroke-width="1.3" stroke-linecap="butt"/>
<line x1="1363.62" y1="1635.5" x2="1340.12" y2="1415.72" stroke="#9E9E9E" stroke-width="1.3" stroke-linecap="butt"/>
<line x1="1392.94" y1="1609.85" x2="1374.81" y2="1389.08" stroke="#9E9E9E" stroke-width="1.3" stroke-linecap="butt"/>
<line x1="1421.5" y1="1584.87" x2="1408.45" y2="1363.24" stroke="#9E9E9E" stroke-width="1.3" stroke-linecap="butt"/>
<line x1="1449.33" y1="1560.53" x2="1441.08" y2="1338.18" stroke="#9E9E9E" stroke-width="1.3" stroke-linecap="butt"/>
<line x1="1476.45" y1="1536.8" x2="1472.75" y2="1313.85" stroke="#9E9E9E" stroke-width="1.3" stroke-linecap="butt"/>
<line x1="1526.18" y1="1548.11" x2="1530.62" y2="1325.44" stroke="#9E9E9E" stroke-width="1.3" stroke-linecap="butt"/>
<line x1="1601.82" y1="1595.76" x2="1619.19" y2="1374.51" stroke="#9E9E9E" stroke-width="1.3" stroke-linecap="butt"/>
<line x1="1681.41" y1="1645.91" x2="1713.2" y2="1426.6" stroke="#9E9E9E" stroke-width="1.3" stroke-linecap="butt"/>
<line x1="1489.76" y1="1525.16" x2="1488.24" y2="1301.96" stroke="#9E9E9E" stroke-width="1.3" stroke-linecap="butt"/>
<polyline points="1248.47,1486.12 1488.24,1301.96 1762.41,1453.87 1722.79,1671.98" fill="none" stroke="#000" stroke-width="2.34" stroke-linejoin="miter" stroke-linecap="square"/>
<polyline points="1248.47,1486.12 1286.78,1702.71 1526.42,1880.55 1722.79,1671.98" fill="none" stroke="#000" stroke-width="3.0" stroke-linejoin="miter" stroke-linecap="square"/>
<line x1="1323.99" y1="1730.33" x2="1317.54" y2="1736.14" stroke="#000" stroke-width="2.6" stroke-linecap="butt"/>
<line x1="1401.55" y1="1787.88" x2="1395.14" y2="1794.03" stroke="#000" stroke-width="2.6" stroke-linecap="butt"/>
<line x1="1483.59" y1="1848.77" x2="1477.24" y2="1855.28" stroke="#000" stroke-width="2.6" stroke-linecap="butt"/>
<line x1="1541.8" y1="1864.21" x2="1549.36" y2="1869.75" stroke="#000" stroke-width="2.6" stroke-linecap="butt"/>
<line x1="1571.89" y1="1832.25" x2="1579.42" y2="1837.63" stroke="#000" stroke-width="2.6" stroke-linecap="butt"/>
<line x1="1601.11" y1="1801.22" x2="1608.6" y2="1806.45" stroke="#000" stroke-width="2.6" stroke-linecap="butt"/>
<line x1="1629.5" y1="1771.07" x2="1636.95" y2="1776.15" stroke="#000" stroke-width="2.6" stroke-linecap="butt"/>
<line x1="1657.09" y1="1741.76" x2="1664.5" y2="1746.7" stroke="#000" stroke-width="2.6" stroke-linecap="butt"/>
<line x1="1683.92" y1="1713.27" x2="1691.29" y2="1718.07" stroke="#000" stroke-width="2.6" stroke-linecap="butt"/>
<line x1="1710.01" y1="1685.56" x2="1717.35" y2="1690.23" stroke="#000" stroke-width="2.6" stroke-linecap="butt"/>
<line x1="1286.78" y1="1702.71" x2="1281.31" y2="1707.49" stroke="#000" stroke-width="2.6" stroke-linecap="butt"/>
<line x1="1283.48" y1="1684.08" x2="1277.93" y2="1688.89" stroke="#000" stroke-width="2.6" stroke-linecap="butt"/>
<line x1="1280.08" y1="1664.85" x2="1274.43" y2="1669.69" stroke="#000" stroke-width="2.6" stroke-linecap="butt"/>
<line x1="1276.58" y1="1645.02" x2="1270.82" y2="1649.89" stroke="#000" stroke-width="2.6" stroke-linecap="butt"/>
<line x1="1272.95" y1="1624.54" x2="1267.1" y2="1629.43" stroke="#000" stroke-width="2.6" stroke-linecap="butt"/>
<line x1="1269.21" y1="1603.37" x2="1263.25" y2="1608.3" stroke="#000" stroke-width="2.6" stroke-linecap="butt"/>
<line x1="1265.34" y1="1581.5" x2="1259.27" y2="1586.45" stroke="#000" stroke-width="2.6" stroke-linecap="butt"/>
<line x1="1261.34" y1="1558.88" x2="1255.15" y2="1563.85" stroke="#000" stroke-width="2.6" stroke-linecap="butt"/>
<line x1="1257.2" y1="1535.47" x2="1250.89" y2="1540.47" stroke="#000" stroke-width="2.6" stroke-linecap="butt"/>
<line x1="1252.91" y1="1511.23" x2="1246.48" y2="1516.25" stroke="#000" stroke-width="2.6" stroke-linecap="butt"/>
<line x1="1248.47" y1="1486.12" x2="1241.91" y2="1491.16" stroke="#000" stroke-width="2.6" stroke-linecap="butt"/>
<text transform="matrix(12.3034 -11.0879 12.4564 9.3104 1315.08 1738.36)" font-size="1" text-anchor="end" fill="#000" font-weight="bold" y="0.36" >1</text>
<text transform="matrix(12.2195 -11.7225 13.1686 9.8428 1392.7 1796.38)" font-size="1" text-anchor="end" fill="#000" font-weight="bold" y="0.36" >2</text>
<text transform="matrix(12.1050 -12.4131 13.9438 10.4221 1474.82 1857.76)" font-size="1" text-anchor="end" fill="#000" font-weight="bold" y="0.36" >3</text>
<text transform="matrix(14.4118 10.5611 -11.7373 12.5787 1552.76 1872.25)" font-size="1" text-anchor="start" fill="#000" font-weight="bold" y="0.36" >1</text>
<text transform="matrix(14.3424 10.2529 -11.3945 12.2113 1582.8 1840.05)" font-size="1" text-anchor="start" fill="#000" font-weight="bold" y="0.36" >5</text>
<text transform="matrix(14.2709 9.9580 -11.0665 11.8598 1611.97 1808.8)" font-size="1" text-anchor="start" fill="#000" font-weight="bold" y="0.36" >10</text>
<text transform="matrix(14.1976 9.6756 -10.7524 11.5233 1640.3 1778.43)" font-size="1" text-anchor="start" fill="#000" font-weight="bold" y="0.36" >15</text>
<text transform="matrix(14.1228 9.4051 -10.4516 11.2008 1667.84 1748.92)" font-size="1" text-anchor="start" fill="#000" font-weight="bold" y="0.36" >20</text>
<text transform="matrix(14.0466 9.1458 -10.1632 10.8918 1694.61 1720.23)" font-size="1" text-anchor="start" fill="#000" font-weight="bold" y="0.36" >25</text>
<text transform="matrix(13.9693 8.8971 -9.8865 10.5953 1720.64 1692.33)" font-size="1" text-anchor="start" fill="#000" font-weight="bold" y="0.36" >30</text>
<text transform="matrix(12.9980 -11.3695 1.9603 10.6172 1278.74 1709.74)" font-size="1" text-anchor="end" fill="#000" font-weight="normal" y="0.36"  stroke="#000" stroke-width="0.06" stroke-linejoin="round">0.0</text>
<text transform="matrix(13.2200 -11.4406 2.0219 10.9504 1275.31 1691.15)" font-size="1" text-anchor="end" fill="#000" font-weight="normal" y="0.36"  stroke="#000" stroke-width="0.06" stroke-linejoin="round">0.1</text>
<text transform="matrix(13.4496 -11.5106 2.0863 11.2996 1271.77 1671.97)" font-size="1" text-anchor="end" fill="#000" font-weight="normal" y="0.36"  stroke="#000" stroke-width="0.06" stroke-linejoin="round">0.2</text>
<text transform="matrix(13.6873 -11.5791 2.1540 11.6658 1268.11 1652.18)" font-size="1" text-anchor="end" fill="#000" font-weight="normal" y="0.36"  stroke="#000" stroke-width="0.06" stroke-linejoin="round">0.3</text>
<text transform="matrix(13.9335 -11.6460 2.2249 12.0501 1264.34 1631.74)" font-size="1" text-anchor="end" fill="#000" font-weight="normal" y="0.36"  stroke="#000" stroke-width="0.06" stroke-linejoin="round">0.4</text>
<text transform="matrix(14.1886 -11.7111 2.2994 12.4537 1260.44 1610.62)" font-size="1" text-anchor="end" fill="#000" font-weight="normal" y="0.36"  stroke="#000" stroke-width="0.06" stroke-linejoin="round">0.5</text>
<text transform="matrix(14.4531 -11.7739 2.3777 12.8779 1256.41 1588.78)" font-size="1" text-anchor="end" fill="#000" font-weight="normal" y="0.36"  stroke="#000" stroke-width="0.06" stroke-linejoin="round">0.6</text>
<text transform="matrix(14.7276 -11.8341 2.4601 13.3241 1252.24 1566.2)" font-size="1" text-anchor="end" fill="#000" font-weight="normal" y="0.36"  stroke="#000" stroke-width="0.06" stroke-linejoin="round">0.7</text>
<text transform="matrix(15.0127 -11.8915 2.5469 13.7940 1247.92 1542.82)" font-size="1" text-anchor="end" fill="#000" font-weight="normal" y="0.36"  stroke="#000" stroke-width="0.06" stroke-linejoin="round">0.8</text>
<text transform="matrix(15.3088 -11.9454 2.6383 14.2891 1243.45 1518.62)" font-size="1" text-anchor="end" fill="#000" font-weight="normal" y="0.36"  stroke="#000" stroke-width="0.06" stroke-linejoin="round">0.9</text>
<text transform="matrix(15.6168 -11.9955 2.7348 14.8114 1238.82 1493.54)" font-size="1" text-anchor="end" fill="#000" font-weight="normal" y="0.36"  stroke="#000" stroke-width="0.06" stroke-linejoin="round">1.0</text>
<text transform="matrix(14.6223 11.0785 -13.7613 13.1943 1375.2 1812)" font-size="1" text-anchor="middle" fill="#000" font-weight="bold" y="0.36" >Random_state</text>
<text transform="matrix(11.8884 -13.0447 16.0422 10.9530 1666.2 1800)" font-size="1" text-anchor="middle" fill="#000" font-weight="bold" y="0.36" >n_estimators</text>
<text transform="matrix(3.1211 14.5620 -16.7483 13.7611 1226.2 1630)" font-size="1" text-anchor="middle" fill="#000" font-weight="normal" y="0.36"  stroke="#000" stroke-width="0.045" stroke-linejoin="round">Validation Accuracy</text>
</g>
<g font-family='"Liberation Sans", Arial, sans-serif' font-style="normal">
<polygon points="1473.35,1544.99 1539.92,1587.62 1545.67,1402.24 1469.8,1358.46" fill="#FF00FF" stroke="#FF00FF" stroke-width="0.6"/>
<polygon points="1539.92,1587.62 1553.18,1575.34 1560.74,1389.6 1545.67,1402.24" fill="#9E009E" stroke="#9E009E" stroke-width="0.6"/>
<polygon points="1469.8,1358.46 1545.67,1402.24 1560.74,1389.6 1485.04,1346.46" fill="#C700C7" stroke="#C700C7" stroke-width="0.6"/>
<text transform="matrix(15.7854 9.0522 -13.2627 10.7764 1514.85 1373.89)" font-size="1" text-anchor="middle" fill="#F3EEFA" font-weight="normal" y="0.36"  stroke="#F3EEFA" stroke-width="0.03" stroke-linejoin="round">0.857</text>
<polygon points="1547.51,1592.48 1617.56,1637.34 1636.41,1435.75 1555,1389.27" fill="#7A1FBD" stroke="#7A1FBD" stroke-width="0.6"/>
<polygon points="1617.56,1637.34 1630.65,1624.41 1651.42,1422.32 1636.41,1435.75" fill="#4C1375" stroke="#4C1375" stroke-width="0.6"/>
<polygon points="1555,1389.27 1636.41,1435.75 1651.42,1422.32 1570.23,1376.54" fill="#5F1893" stroke="#5F1893" stroke-width="0.6"/>
<text transform="matrix(16.9352 9.6077 -13.2335 11.4381 1602.75 1405.64)" font-size="1" text-anchor="middle" fill="#F3EEFA" font-weight="normal" y="0.36"  stroke="#F3EEFA" stroke-width="0.03" stroke-linejoin="round">0.929</text>
<polygon points="1625.55,1642.46 1699.35,1689.72 1732.22,1490.45 1645.73,1441.07" fill="#7A1FBD" stroke="#7A1FBD" stroke-width="0.6"/>
<polygon points="1699.35,1689.72 1712.23,1676.09 1746.94,1476.17 1732.22,1490.45" fill="#4C1375" stroke="#4C1375" stroke-width="0.6"/>
<polygon points="1645.73,1441.07 1732.22,1490.45 1746.94,1476.17 1660.72,1427.56" fill="#5F1893" stroke="#5F1893" stroke-width="0.6"/>
<text transform="matrix(17.9878 10.2049 -13.0012 12.1498 1695.84 1458.45)" font-size="1" text-anchor="middle" fill="#F3EEFA" font-weight="normal" y="0.36"  stroke="#F3EEFA" stroke-width="0.03" stroke-linejoin="round">0.929</text>
<polygon points="1446.06,1568.93 1512.88,1612.68 1514.84,1428.09 1438.66,1383" fill="#FF00FF" stroke="#FF00FF" stroke-width="0.6"/>
<polygon points="1512.88,1612.68 1526.49,1600.07 1530.37,1415.07 1514.84,1428.09" fill="#9E009E" stroke="#9E009E" stroke-width="0.6"/>
<polygon points="1438.66,1383 1514.84,1428.09 1530.37,1415.07 1454.35,1370.64" fill="#C700C7" stroke="#C700C7" stroke-width="0.6"/>
<text transform="matrix(15.8520 9.3217 -13.6580 11.0975 1484.09 1398.89)" font-size="1" text-anchor="middle" fill="#F3EEFA" font-weight="normal" y="0.36"  stroke="#F3EEFA" stroke-width="0.03" stroke-linejoin="round">0.857</text>
<polygon points="1520.5,1617.67 1590.85,1663.73 1604.36,1481.07 1523.56,1433.25" fill="#FF00FF" stroke="#FF00FF" stroke-width="0.6"/>
<polygon points="1590.85,1663.73 1604.29,1650.45 1619.67,1467.25 1604.36,1481.07" fill="#9E009E" stroke="#9E009E" stroke-width="0.6"/>
<polygon points="1523.56,1433.25 1604.36,1481.07 1619.67,1467.25 1539.06,1420.15" fill="#C700C7" stroke="#C700C7" stroke-width="0.6"/>
<text transform="matrix(16.8106 9.8854 -13.4847 11.7693 1571.15 1450.08)" font-size="1" text-anchor="middle" fill="#F3EEFA" font-weight="normal" y="0.36"  stroke="#F3EEFA" stroke-width="0.03" stroke-linejoin="round">0.857</text>
<polygon points="1598.87,1668.98 1673.05,1717.55 1699.48,1537.36 1613.61,1486.54" fill="#FF00FF" stroke="#FF00FF" stroke-width="0.6"/>
<polygon points="1673.05,1717.55 1686.29,1703.54 1714.5,1522.66 1699.48,1537.36" fill="#9E009E" stroke="#9E009E" stroke-width="0.6"/>
<polygon points="1613.61,1486.54 1699.48,1537.36 1714.5,1522.66 1628.89,1472.64" fill="#C700C7" stroke="#C700C7" stroke-width="0.6"/>
<text transform="matrix(17.8588 10.5019 -13.2640 12.5040 1663.56 1504.42)" font-size="1" text-anchor="middle" fill="#F3EEFA" font-weight="normal" y="0.36"  stroke="#F3EEFA" stroke-width="0.03" stroke-linejoin="round">0.857</text>
<polygon points="1418.06,1593.49 1485.12,1638.4 1483.08,1454.73 1406.6,1408.27" fill="#FF00FF" stroke="#FF00FF" stroke-width="0.6"/>
<polygon points="1485.12,1638.4 1499.09,1625.45 1499.08,1441.31 1483.08,1454.73" fill="#9E009E" stroke="#9E009E" stroke-width="0.6"/>
<polygon points="1406.6,1408.27 1483.08,1454.73 1499.08,1441.31 1422.75,1395.55" fill="#C700C7" stroke="#C700C7" stroke-width="0.6"/>
<text transform="matrix(15.9155 9.6035 -14.0712 11.4333 1452.4 1424.63)" font-size="1" text-anchor="middle" fill="#F3EEFA" font-weight="normal" y="0.36"  stroke="#F3EEFA" stroke-width="0.03" stroke-linejoin="round">0.857</text>
<polygon points="1492.76,1643.52 1563.41,1690.84 1573.03,1509.36 1491.83,1460.04" fill="#FF00FF" stroke="#FF00FF" stroke-width="0.6"/>
<polygon points="1563.41,1690.84 1577.22,1677.19 1588.82,1495.1 1573.03,1509.36" fill="#9E009E" stroke="#9E009E" stroke-width="0.6"/>
<polygon points="1491.83,1460.04 1573.03,1509.36 1588.82,1495.1 1507.81,1446.54" fill="#C700C7" stroke="#C700C7" stroke-width="0.6"/>
<text transform="matrix(16.8931 10.1933 -13.9051 12.1363 1539.85 1477.4)" font-size="1" text-anchor="middle" fill="#F3EEFA" font-weight="normal" y="0.36"  stroke="#F3EEFA" stroke-width="0.03" stroke-linejoin="round">0.857</text>
<polygon points="1571.47,1696.24 1646.02,1746.17 1668.69,1567.46 1582.33,1515.01" fill="#FF00FF" stroke="#FF00FF" stroke-width="0.6"/>
<polygon points="1646.02,1746.17 1659.63,1731.76 1684.21,1552.29 1668.69,1567.46" fill="#9E009E" stroke="#9E009E" stroke-width="0.6"/>
<polygon points="1582.33,1515.01 1668.69,1567.46 1684.21,1552.29 1598.09,1500.66" fill="#C700C7" stroke="#C700C7" stroke-width="0.6"/>
<text transform="matrix(17.9635 10.8392 -13.6905 12.9061 1632.76 1533.46)" font-size="1" text-anchor="middle" fill="#F3EEFA" font-weight="normal" y="0.36"  stroke="#F3EEFA" stroke-width="0.03" stroke-linejoin="round">0.857</text>
<polygon points="1389.33,1618.7 1456.6,1664.82 1449.72,1464.36 1372.03,1416.37" fill="#7A1FBD" stroke="#7A1FBD" stroke-width="0.6"/>
<polygon points="1456.6,1664.82 1470.95,1651.52 1466.43,1450.49 1449.72,1464.36" fill="#4C1375" stroke="#4C1375" stroke-width="0.6"/>
<polygon points="1372.03,1416.37 1449.72,1464.36 1466.43,1450.49 1388.88,1403.24" fill="#5F1893" stroke="#5F1893" stroke-width="0.6"/>
<text transform="matrix(16.1670 9.9189 -14.6888 11.8089 1418.77 1433.27)" font-size="1" text-anchor="middle" fill="#F3EEFA" font-weight="normal" y="0.36"  stroke="#F3EEFA" stroke-width="0.03" stroke-linejoin="round">0.929</text>
<polygon points="1464.27,1670.08 1535.21,1718.7 1540.69,1538.55 1459.12,1487.67" fill="#FF00FF" stroke="#FF00FF" stroke-width="0.6"/>
<polygon points="1535.21,1718.7 1549.41,1704.68 1556.99,1523.84 1540.69,1538.55" fill="#9E009E" stroke="#9E009E" stroke-width="0.6"/>
<polygon points="1459.12,1487.67 1540.69,1538.55 1556.99,1523.84 1475.6,1473.75" fill="#C700C7" stroke="#C700C7" stroke-width="0.6"/>
<text transform="matrix(16.9725 10.5158 -14.3454 12.5206 1507.57 1505.58)" font-size="1" text-anchor="middle" fill="#F3EEFA" font-weight="normal" y="0.36"  stroke="#F3EEFA" stroke-width="0.03" stroke-linejoin="round">0.857</text>
<polygon points="1543.31,1724.25 1618.21,1775.6 1638.74,1581.12 1550.7,1526.74" fill="#7A1FBD" stroke="#7A1FBD" stroke-width="0.6"/>
<polygon points="1618.21,1775.6 1632.21,1760.78 1654.96,1565.38 1638.74,1581.12" fill="#4C1375" stroke="#4C1375" stroke-width="0.6"/>
<polygon points="1550.7,1526.74 1638.74,1581.12 1654.96,1565.38 1567.18,1511.89" fill="#5F1893" stroke="#5F1893" stroke-width="0.6"/>
<text transform="matrix(18.3107 11.2341 -14.3138 13.3764 1602.29 1545.86)" font-size="1" text-anchor="middle" fill="#F3EEFA" font-weight="normal" y="0.36"  stroke="#F3EEFA" stroke-width="0.03" stroke-linejoin="round">0.929</text>
<polygon points="1359.82,1644.59 1427.31,1691.96 1415.49,1492.77 1337.54,1443.26" fill="#7A1FBD" stroke="#7A1FBD" stroke-width="0.6"/>
<polygon points="1427.31,1691.96 1442.05,1678.3 1432.74,1478.45 1415.49,1492.77" fill="#4C1375" stroke="#4C1375" stroke-width="0.6"/>
<polygon points="1337.54,1443.26 1415.49,1492.77 1432.74,1478.45 1354.92,1429.71" fill="#5F1893" stroke="#5F1893" stroke-width="0.6"/>
<text transform="matrix(16.2243 10.2319 -15.1528 12.1819 1384.67 1460.68)" font-size="1" text-anchor="middle" fill="#F3EEFA" font-weight="normal" y="0.36"  stroke="#F3EEFA" stroke-width="0.03" stroke-linejoin="round">0.929</text>
<polygon points="1435.01,1697.36 1506.21,1747.35 1507.31,1568.7 1425.37,1516.17" fill="#FF00FF" stroke="#FF00FF" stroke-width="0.6"/>
<polygon points="1506.21,1747.35 1520.81,1732.93 1524.13,1553.51 1507.31,1568.7" fill="#9E009E" stroke="#9E009E" stroke-width="0.6"/>
<polygon points="1425.37,1516.17 1507.31,1568.7 1524.13,1553.51 1442.38,1501.81" fill="#C700C7" stroke="#C700C7" stroke-width="0.6"/>
<text transform="matrix(17.0484 10.8539 -14.8070 12.9235 1474.26 1534.65)" font-size="1" text-anchor="middle" fill="#F3EEFA" font-weight="normal" y="0.36"  stroke="#F3EEFA" stroke-width="0.03" stroke-linejoin="round">0.857</text>
<polygon points="1514.34,1753.06 1589.59,1805.88 1604.03,1630.7 1516.7,1574.72" fill="#FF00FF" stroke="#FF00FF" stroke-width="0.6"/>
<polygon points="1589.59,1805.88 1604,1790.63 1620.6,1614.5 1604.03,1630.7" fill="#9E009E" stroke="#9E009E" stroke-width="0.6"/>
<polygon points="1516.7,1574.72 1604.03,1630.7 1620.6,1614.5 1533.51,1559.43" fill="#C700C7" stroke="#C700C7" stroke-width="0.6"/>
<text transform="matrix(18.1649 11.5647 -14.6077 13.7707 1568.11 1594.4)" font-size="1" text-anchor="middle" fill="#F3EEFA" font-weight="normal" y="0.36"  stroke="#F3EEFA" stroke-width="0.03" stroke-linejoin="round">0.857</text>
<polygon points="1329.51,1671.17 1397.2,1719.85 1383.15,1556.73 1306.77,1505.94" fill="#0000FF" stroke="#0000FF" stroke-width="0.6"/>
<polygon points="1397.2,1719.85 1412.36,1705.81 1400.49,1542.05 1383.15,1556.73" fill="#00009E" stroke="#00009E" stroke-width="0.6"/>
<polygon points="1306.77,1505.94 1383.15,1556.73 1400.49,1542.05 1324.23,1492.03" fill="#0000C7" stroke="#0000C7" stroke-width="0.6"/>
<text transform="matrix(15.8972 10.4983 -15.2289 12.5000 1353.17 1523.81)" font-size="1" text-anchor="middle" fill="#F3EEFA" font-weight="normal" y="0.36"  stroke="#F3EEFA" stroke-width="0.03" stroke-linejoin="round">0.786</text>
<polygon points="1404.92,1725.41 1476.39,1776.82 1472.82,1599.84 1390.54,1545.59" fill="#FF00FF" stroke="#FF00FF" stroke-width="0.6"/>
<polygon points="1476.39,1776.82 1491.41,1761.98 1490.2,1584.14 1472.82,1599.84" fill="#9E009E" stroke="#9E009E" stroke-width="0.6"/>
<polygon points="1390.54,1545.59 1472.82,1599.84 1490.2,1584.14 1408.09,1530.77" fill="#C700C7" stroke="#C700C7" stroke-width="0.6"/>
<text transform="matrix(17.1204 11.2085 -15.2913 13.3462 1439.86 1564.67)" font-size="1" text-anchor="middle" fill="#F3EEFA" font-weight="normal" y="0.36"  stroke="#F3EEFA" stroke-width="0.03" stroke-linejoin="round">0.857</text>
<polygon points="1484.55,1782.69 1560.14,1837.05 1569.1,1680.39 1482.47,1622.79" fill="#0000FF" stroke="#0000FF" stroke-width="0.6"/>
<polygon points="1560.14,1837.05 1574.97,1821.35 1586.02,1663.72 1569.1,1680.39" fill="#00009E" stroke="#00009E" stroke-width="0.6"/>
<polygon points="1482.47,1622.79 1569.1,1680.39 1586.02,1663.72 1499.61,1607.05" fill="#0000C7" stroke="#0000C7" stroke-width="0.6"/>
<text transform="matrix(18.0201 11.9002 -14.9078 14.1708 1533.71 1643.04)" font-size="1" text-anchor="middle" fill="#F3EEFA" font-weight="normal" y="0.36"  stroke="#F3EEFA" stroke-width="0.03" stroke-linejoin="round">0.786</text>
<polygon points="1298.37,1698.49 1366.24,1748.54 1347.63,1586.81 1271.03,1534.39" fill="#0000FF" stroke="#0000FF" stroke-width="0.6"/>
<polygon points="1366.24,1748.54 1381.83,1734.1 1365.53,1571.65 1347.63,1586.81" fill="#00009E" stroke="#00009E" stroke-width="0.6"/>
<polygon points="1271.03,1534.39 1347.63,1586.81 1365.53,1571.65 1289.04,1520.06" fill="#0000C7" stroke="#0000C7" stroke-width="0.6"/>
<text transform="matrix(15.9435 10.8318 -15.7131 12.8974 1317.81 1552.84)" font-size="1" text-anchor="middle" fill="#F3EEFA" font-weight="normal" y="0.36"  stroke="#F3EEFA" stroke-width="0.03" stroke-linejoin="round">0.786</text>
<polygon points="1373.99,1754.25 1445.7,1807.14 1437.98,1648.64 1356.41,1592.82" fill="#0000FF" stroke="#0000FF" stroke-width="0.6"/>
<polygon points="1445.7,1807.14 1461.16,1791.87 1455.71,1632.48 1437.98,1648.64" fill="#00009E" stroke="#00009E" stroke-width="0.6"/>
<polygon points="1356.41,1592.82 1437.98,1648.64 1455.71,1632.48 1374.29,1577.56" fill="#0000C7" stroke="#0000C7" stroke-width="0.6"/>
<text transform="matrix(16.9747 11.5324 -15.5885 13.7325 1405.55 1612.44)" font-size="1" text-anchor="middle" fill="#F3EEFA" font-weight="normal" y="0.36"  stroke="#F3EEFA" stroke-width="0.03" stroke-linejoin="round">0.786</text>
<polygon points="1453.9,1813.18 1529.8,1869.15 1533,1761.29 1449.31,1702.68" fill="#9098EC" stroke="#9098EC" stroke-width="0.6"/>
<polygon points="1529.8,1869.15 1545.08,1852.98 1549.83,1744.33 1533,1761.29" fill="#595E92" stroke="#595E92" stroke-width="0.6"/>
<polygon points="1449.31,1702.68 1533,1761.29 1549.83,1744.33 1466.34,1686.66" fill="#7077B8" stroke="#7077B8" stroke-width="0.6"/>
<text transform="matrix(17.4113 12.1095 -14.8191 14.4211 1499.06 1723.29)" font-size="1" text-anchor="middle" fill="#F3EEFA" font-weight="normal" y="0.36"  stroke="#F3EEFA" stroke-width="0.03" stroke-linejoin="round">0.571</text>
</g>
<text x="1238.4" y="1339.5" font-family='"Liberation Sans", Arial, sans-serif' font-weight="bold" font-size="36.7">i</text></g><rect x="1780.0" y="647.80" width="135.6" height="67.74" fill="#C0C0C0"/>
<text x="1938.5" y="688.8" font-family='"Liberation Sans", Arial, sans-serif' font-size="38.8">0~0.3</text>
<rect x="1780.0" y="715.24" width="135.6" height="67.74" fill="#38C9A0"/>
<text x="1938.5" y="760.8" font-family='"Liberation Sans", Arial, sans-serif' font-size="38.8">0.3~0.4</text>
<rect x="1780.0" y="782.67" width="135.6" height="67.74" fill="#00B2AD"/>
<text x="1938.5" y="832.7" font-family='"Liberation Sans", Arial, sans-serif' font-size="38.8">0.4~0.5</text>
<rect x="1780.0" y="850.11" width="135.6" height="67.74" fill="#9098EC"/>
<text x="1938.5" y="904.6" font-family='"Liberation Sans", Arial, sans-serif' font-size="38.8">0.5~0.6</text>
<rect x="1780.0" y="917.55" width="135.6" height="67.74" fill="#FBC011"/>
<text x="1938.5" y="970.0" font-family='"Liberation Sans", Arial, sans-serif' font-size="38.8">0.6~0.7</text>
<rect x="1780.0" y="984.99" width="135.6" height="67.74" fill="#0000FF"/>
<text x="1938.5" y="1030.5" font-family='"Liberation Sans", Arial, sans-serif' font-size="38.8">0.7~0.8</text>
<rect x="1780.0" y="1052.42" width="135.6" height="67.74" fill="#FF00FF"/>
<text x="1938.5" y="1102.1" font-family='"Liberation Sans", Arial, sans-serif' font-size="38.8">0.8~0.9</text>
<rect x="1780.0" y="1119.86" width="135.6" height="67.74" fill="#7A1FBD"/>
<text x="1938.5" y="1174.1" font-family='"Liberation Sans", Arial, sans-serif' font-size="38.8">0.9~1</text></svg></body></html>
